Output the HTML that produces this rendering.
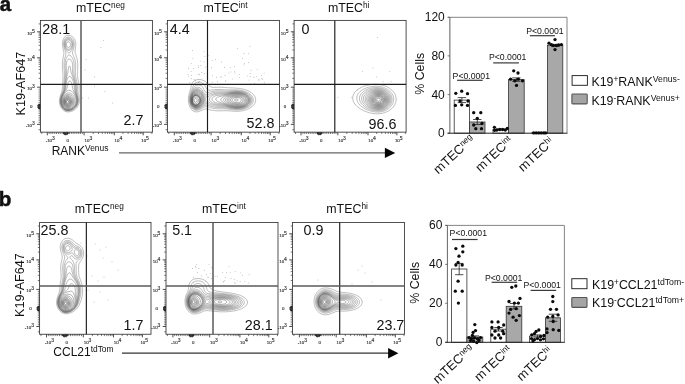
<!DOCTYPE html>
<html><head><meta charset="utf-8"><title>Figure</title>
<style>
html,body{margin:0;padding:0;background:#fff;}
body{width:685px;height:384px;overflow:hidden;font-family:"Liberation Sans",sans-serif;}
svg{display:block;will-change:transform;filter:grayscale(1);}
</style></head><body>
<svg width="685" height="384" viewBox="0 0 685 384">
<rect width="685" height="384" fill="#fff"/>
<text x="-0.3" y="11.2" font-family="Liberation Sans, sans-serif" font-size="20.40" text-anchor="start" font-weight="bold" fill="#111" stroke="#111" stroke-width="0.5">a</text>
<text x="-1.2" y="205.5" font-family="Liberation Sans, sans-serif" font-size="20.60" text-anchor="start" font-weight="bold" fill="#111" stroke="#111" stroke-width="0.5">b</text>
<text x="76.0" y="11.8" font-family="Liberation Sans, sans-serif" font-size="12.40" text-anchor="start" font-weight="normal" fill="#111" >mTEC<tspan dy="-3.9" font-size="8.3">neg</tspan></text>
<text x="203.6" y="11.8" font-family="Liberation Sans, sans-serif" font-size="12.40" text-anchor="start" font-weight="normal" fill="#111" >mTEC<tspan dy="-3.9" font-size="8.3">int</tspan></text>
<text x="327.9" y="11.8" font-family="Liberation Sans, sans-serif" font-size="12.40" text-anchor="start" font-weight="normal" fill="#111" >mTEC<tspan dy="-3.9" font-size="8.3">hi</tspan></text>
<text x="74.8" y="213.0" font-family="Liberation Sans, sans-serif" font-size="12.40" text-anchor="start" font-weight="normal" fill="#111" >mTEC<tspan dy="-3.9" font-size="8.3">neg</tspan></text>
<text x="202.0" y="213.0" font-family="Liberation Sans, sans-serif" font-size="12.40" text-anchor="start" font-weight="normal" fill="#111" >mTEC<tspan dy="-3.9" font-size="8.3">int</tspan></text>
<text x="326.3" y="213.0" font-family="Liberation Sans, sans-serif" font-size="12.40" text-anchor="start" font-weight="normal" fill="#111" >mTEC<tspan dy="-3.9" font-size="8.3">hi</tspan></text>
<text transform="translate(25.2,115.5) rotate(-90)" font-family="Liberation Sans, sans-serif" font-size="12.6" fill="#111">K19-AF647</text>
<text transform="translate(23.8,316.9) rotate(-90)" font-family="Liberation Sans, sans-serif" font-size="12.6" fill="#111">K19-AF647</text>
<text x="51.7" y="154.5" font-family="Liberation Sans, sans-serif" font-size="12.00" text-anchor="start" font-weight="normal" fill="#111" >RANK<tspan dy="-4.0" font-size="8.4">Venus</tspan></text>
<text x="53.3" y="356.0" font-family="Liberation Sans, sans-serif" font-size="12.00" text-anchor="start" font-weight="normal" fill="#111" >CCL21<tspan dy="-4.0" font-size="8.4">tdTom</tspan></text>
<line x1="119.0" y1="152.9" x2="387.2" y2="152.9" stroke="#666" stroke-width="1.3"/><path d="M395.2,152.9 L384.9,147.7 L384.9,158.1 Z" fill="#050505"/>
<line x1="122.0" y1="353.2" x2="390.4" y2="353.2" stroke="#333" stroke-width="1.3"/><path d="M398.4,353.2 L388.1,348.0 L388.1,358.4 Z" fill="#050505"/>
<path d="M66.8,100.8 67.5,100.5 68.0,100.8 68.4,101.2 68.5,102.0 68.2,102.6 67.8,102.9 67.4,103.0 66.8,102.8 66.6,102.2 66.5,101.8 66.6,101.2 66.8,100.8Z" fill="none" stroke="rgb(85,85,85)" stroke-width="0.55"/>
<path d="M66.9,99.8 67.5,99.7 68.0,99.8 68.5,100.1 68.9,100.5 69.1,101.0 69.2,101.6 69.2,102.0 69.1,102.8 68.8,103.2 68.5,103.5 68.0,103.8 67.2,103.9 66.8,103.7 66.3,103.2 66.1,102.8 65.9,102.2 65.9,101.5 66.0,101.0 66.2,100.4 66.5,100.0Z" fill="none" stroke="rgb(87,87,87)" stroke-width="0.54"/>
<path d="M67.2,99.0 67.6,99.0 68.2,99.2 68.8,99.4 69.1,99.8 69.4,100.2 69.7,100.8 69.8,101.2 69.8,102.0 69.8,102.5 69.5,103.2 69.2,103.6 68.9,104.0 68.5,104.2 67.8,104.5 67.2,104.5 66.8,104.4 66.2,104.1 66.0,103.7 65.7,103.2 65.5,102.5 65.5,102.0 65.5,101.3 65.6,100.8 65.8,100.2 66.1,99.8 66.5,99.3 67.0,99.0Z" fill="none" stroke="rgb(88,88,88)" stroke-width="0.54"/>
<path d="M66.7,98.5 67.2,98.4 68.0,98.4 68.5,98.6 69.0,98.9 69.4,99.3 69.8,99.6 70.0,100.1 70.2,100.7 70.4,101.2 70.4,102.0 70.3,102.8 70.1,103.2 69.8,103.8 69.5,104.2 69.1,104.5 68.8,104.8 68.2,105.0 67.5,105.1 66.8,105.0 66.3,104.8 66.0,104.5 65.6,104.0 65.4,103.5 65.2,103.0 65.1,102.2 65.1,101.5 65.2,100.8 65.3,100.2 65.5,99.8 65.8,99.2 66.2,98.8 66.7,98.5Z" fill="none" stroke="rgb(89,89,89)" stroke-width="0.53"/>
<path d="M67.2,97.8 67.8,97.7 68.2,97.8 68.8,98.0 69.2,98.3 69.8,98.7 70.0,99.0 70.4,99.5 70.6,100.0 70.8,100.5 70.9,101.2 70.9,102.0 70.8,102.8 70.6,103.2 70.4,103.8 70.1,104.2 69.8,104.7 69.4,105.0 69.0,105.3 68.5,105.5 67.8,105.7 67.0,105.7 66.5,105.5 66.0,105.2 65.6,104.8 65.3,104.2 65.1,103.8 64.9,103.2 64.8,102.5 64.7,102.0 64.7,101.2 64.8,100.8 65.0,100.0 65.2,99.5 65.4,99.0 65.8,98.6 66.1,98.2 66.5,98.0 67.2,97.8Z" fill="none" stroke="rgb(91,91,91)" stroke-width="0.53"/>
<path d="M66.6,97.2 67.2,97.1 68.0,97.1 68.7,97.2 69.2,97.5 69.6,97.8 70.0,98.0 70.4,98.5 70.8,98.9 71.0,99.4 71.2,100.0 71.4,100.5 71.5,101.3 71.5,101.7 71.5,102.2 71.3,103.0 71.1,103.5 70.9,104.0 70.6,104.5 70.2,104.9 69.9,105.2 69.5,105.6 69.0,105.9 68.5,106.1 67.8,106.2 67.5,106.2 66.8,106.2 66.2,106.0 65.8,105.6 65.4,105.2 65.1,104.8 64.8,104.2 64.6,103.8 64.5,103.2 64.4,102.5 64.3,101.8 64.4,101.0 64.5,100.2 64.6,99.8 64.8,99.2 65.0,98.7 65.4,98.2 65.8,97.8 66.1,97.5 66.6,97.2Z" fill="none" stroke="rgb(92,92,92)" stroke-width="0.52"/>
<path d="M66.7,96.5 67.2,96.4 68.0,96.4 68.7,96.5 69.2,96.7 69.8,97.0 70.2,97.2 70.5,97.5 70.9,98.0 71.2,98.4 71.5,98.9 71.8,99.5 71.9,100.0 72.0,100.5 72.1,101.2 72.1,102.0 72.0,102.6 71.8,103.2 71.7,103.8 71.4,104.2 71.1,104.8 70.8,105.2 70.5,105.5 70.0,105.9 69.5,106.2 69.0,106.5 68.5,106.6 68.0,106.8 67.2,106.8 66.8,106.7 66.2,106.5 65.8,106.2 65.3,105.8 65.0,105.4 64.7,105.0 64.5,104.5 64.2,103.9 64.1,103.3 64.0,102.7 63.9,102.0 63.9,101.2 64.0,100.6 64.1,100.0 64.2,99.5 64.5,98.8 64.8,98.3 65.0,97.9 65.3,97.5 65.8,97.0 66.2,96.8 66.7,96.5Z" fill="none" stroke="rgb(93,93,93)" stroke-width="0.51"/>
<path d="M67.5,95.5 68.1,95.5 68.8,95.6 69.3,95.8 69.9,96.0 70.3,96.2 70.8,96.6 71.2,97.0 71.5,97.3 71.8,97.8 72.1,98.2 72.4,98.8 72.5,99.2 72.7,100.0 72.8,100.5 72.8,101.2 72.8,102.0 72.7,102.5 72.5,103.2 72.4,103.8 72.1,104.2 71.8,104.8 71.5,105.2 71.2,105.5 70.8,106.0 70.5,106.3 70.0,106.6 69.5,106.9 69.0,107.1 68.5,107.2 67.8,107.4 67.0,107.3 66.5,107.2 66.0,107.0 65.5,106.7 65.1,106.2 64.8,105.9 64.5,105.5 64.2,105.0 64.0,104.4 63.8,103.8 63.7,103.2 63.5,102.5 63.5,101.8 63.5,101.4 63.5,100.7 63.6,100.0 63.8,99.5 64.0,98.8 64.2,98.2 64.4,97.8 64.8,97.3 65.0,96.9 65.4,96.5 65.8,96.2 66.2,95.8 66.8,95.6 67.5,95.5Z" fill="none" stroke="rgb(95,95,95)" stroke-width="0.51"/>
<path d="M67.1,94.5 67.8,94.4 68.5,94.4 69.1,94.5 69.8,94.7 70.2,94.9 70.8,95.1 71.2,95.5 71.6,95.8 72.0,96.2 72.3,96.5 72.6,97.0 72.9,97.5 73.1,98.0 73.3,98.5 73.5,99.1 73.6,99.8 73.7,100.5 73.7,101.2 73.6,102.0 73.5,102.7 73.3,103.2 73.2,103.8 72.9,104.2 72.7,104.8 72.3,105.2 72.0,105.7 71.7,106.0 71.2,106.5 70.9,106.8 70.5,107.0 70.0,107.3 69.5,107.5 68.9,107.8 68.2,107.9 67.5,107.9 66.8,107.9 66.2,107.7 65.8,107.5 65.2,107.1 64.9,106.8 64.5,106.3 64.2,106.0 64.0,105.5 63.7,105.0 63.5,104.4 63.3,103.8 63.2,103.2 63.1,102.5 63.0,101.8 63.0,101.0 63.1,100.2 63.2,99.5 63.4,99.0 63.5,98.5 63.8,97.9 64.0,97.3 64.2,96.9 64.5,96.5 64.9,96.0 65.2,95.6 65.7,95.2 66.0,95.0 66.5,94.7 67.1,94.5Z" fill="none" stroke="rgb(96,96,96)" stroke-width="0.50"/>
<path d="M67.6,93.0 68.2,92.9 69.0,92.9 69.5,93.0 70.2,93.2 70.8,93.4 71.2,93.7 71.7,94.0 72.1,94.2 72.5,94.7 72.8,95.0 73.2,95.5 73.5,96.0 73.8,96.4 74.0,96.9 74.2,97.5 74.4,98.0 74.5,98.5 74.7,99.3 74.8,99.8 74.8,100.5 74.8,101.2 74.7,101.8 74.5,102.5 74.4,103.0 74.2,103.5 74.0,104.0 73.8,104.5 73.5,105.0 73.1,105.5 72.8,106.0 72.5,106.2 72.0,106.7 71.7,107.0 71.2,107.3 70.8,107.7 70.2,107.9 69.8,108.1 69.2,108.3 68.5,108.5 68.0,108.5 67.2,108.6 66.8,108.5 66.0,108.3 65.5,108.0 65.2,107.8 64.8,107.4 64.4,107.0 64.0,106.5 63.8,106.1 63.5,105.7 63.2,105.1 63.0,104.5 62.9,104.0 62.7,103.5 62.6,102.8 62.5,102.0 62.5,101.2 62.5,100.5 62.6,99.8 62.8,99.0 62.9,98.5 63.0,98.0 63.2,97.4 63.5,96.8 63.8,96.4 64.0,95.9 64.3,95.5 64.7,95.0 65.0,94.6 65.4,94.2 65.8,93.9 66.2,93.5 66.8,93.3 67.2,93.1Z" fill="none" stroke="rgb(97,97,97)" stroke-width="0.50"/>
<path d="M68.4,90.5 69.0,90.4 69.8,90.5 70.2,90.6 70.8,90.8 71.2,91.0 71.8,91.3 72.2,91.8 72.5,92.0 73.0,92.5 73.2,92.9 73.5,93.2 73.9,93.8 74.2,94.2 74.5,94.8 74.7,95.2 75.0,95.8 75.2,96.2 75.3,96.8 75.5,97.3 75.7,98.0 75.8,98.5 75.9,99.2 76.0,100.0 75.9,100.8 75.9,101.5 75.8,102.2 75.6,102.8 75.5,103.2 75.2,103.8 75.0,104.4 74.8,104.8 74.5,105.2 74.1,105.8 73.8,106.2 73.5,106.5 73.0,107.0 72.7,107.2 72.2,107.6 71.8,108.0 71.3,108.2 70.8,108.5 70.2,108.7 69.8,108.9 69.2,109.0 68.5,109.2 67.8,109.2 67.0,109.2 66.2,109.0 65.8,108.9 65.2,108.6 64.8,108.2 64.5,108.0 64.0,107.5 63.8,107.2 63.5,106.8 63.1,106.2 62.9,105.8 62.7,105.2 62.5,104.8 62.2,104.0 62.1,103.5 62.0,102.9 61.9,102.2 61.9,101.5 61.9,100.8 61.9,100.0 62.0,99.3 62.1,98.8 62.2,98.1 62.4,97.5 62.6,97.0 62.8,96.5 63.0,96.0 63.3,95.5 63.5,95.0 63.9,94.5 64.2,94.0 64.5,93.6 64.8,93.2 65.1,92.8 65.5,92.3 65.8,92.0 66.2,91.6 66.7,91.2 67.0,91.0 67.5,90.7 68.2,90.5Z" fill="none" stroke="rgb(99,99,99)" stroke-width="0.49"/>
<path d="M69.6,81.0 70.1,81.0 70.5,81.2 71.0,81.8 71.2,82.1 71.5,82.6 71.7,83.2 71.9,83.8 72.0,84.2 72.2,85.0 72.2,85.7 72.3,86.2 72.4,87.0 72.5,87.8 72.6,88.2 72.8,88.9 72.9,89.5 73.1,90.0 73.4,90.5 73.6,91.0 73.8,91.5 74.1,92.0 74.3,92.5 74.6,93.0 74.8,93.5 75.0,94.0 75.2,94.5 75.5,95.1 75.7,95.8 75.9,96.2 76.0,96.8 76.2,97.5 76.4,98.0 76.5,98.8 76.5,99.2 76.6,100.0 76.6,100.8 76.5,101.5 76.4,102.0 76.3,102.8 76.1,103.2 75.9,103.8 75.7,104.2 75.5,104.8 75.2,105.2 74.8,105.8 74.5,106.2 74.2,106.5 73.8,107.0 73.5,107.3 73.0,107.7 72.5,108.0 72.2,108.2 71.8,108.5 71.2,108.8 70.7,109.0 70.1,109.2 69.5,109.4 69.0,109.5 68.2,109.6 67.5,109.6 66.8,109.6 66.2,109.5 65.7,109.2 65.2,109.0 64.8,108.7 64.3,108.3 64.0,108.0 63.6,107.5 63.2,107.1 63.0,106.7 62.7,106.2 62.5,105.8 62.2,105.2 62.0,104.5 61.8,104.0 61.7,103.5 61.6,102.8 61.5,102.0 61.5,101.5 61.5,100.8 61.5,100.0 61.6,99.5 61.7,98.8 61.8,98.2 62.0,97.5 62.1,97.0 62.3,96.5 62.5,96.0 62.8,95.5 63.0,95.0 63.3,94.5 63.5,94.0 63.8,93.5 64.2,93.0 64.5,92.5 64.8,92.1 65.0,91.7 65.3,91.2 65.6,90.8 66.0,90.2 66.2,89.8 66.5,89.3 66.8,88.8 66.9,88.2 67.1,87.8 67.3,87.2 67.4,86.5 67.5,85.9 67.6,85.2 67.7,84.5 67.8,84.0 68.0,83.2 68.2,82.8 68.4,82.2 68.7,81.8 69.0,81.3 69.5,81.0Z" fill="none" stroke="rgb(100,100,100)" stroke-width="0.49"/>
<path d="M67.5,42.0 68.2,41.8 69.0,41.9 69.5,42.2 69.9,42.5 70.2,43.0 70.4,43.5 70.5,44.0 70.6,44.8 70.5,45.4 70.3,46.0 70.1,46.5 69.8,46.9 69.3,47.2 68.8,47.5 68.4,47.5 67.8,47.3 67.3,47.0 67.0,46.7 66.8,46.2 66.6,45.5 66.5,45.0 66.4,44.2 66.5,43.7 66.7,43.0 66.9,42.5 67.2,42.2ZM69.0,76.5 69.5,76.3 70.2,76.4 70.7,76.8 71.0,77.1 71.3,77.5 71.6,78.0 71.9,78.5 72.2,79.0 72.4,79.5 72.6,80.0 72.8,80.5 73.0,81.0 73.2,81.6 73.4,82.2 73.6,82.8 73.8,83.5 73.9,84.0 74.0,84.8 74.1,85.2 74.1,86.0 74.2,86.8 74.2,87.5 74.3,88.0 74.3,88.8 74.4,89.5 74.5,90.2 74.6,90.8 74.8,91.4 74.9,92.0 75.1,92.5 75.3,93.0 75.5,93.6 75.7,94.2 75.9,94.8 76.1,95.2 76.2,95.8 76.4,96.5 76.6,97.0 76.7,97.8 76.8,98.2 76.9,99.0 77.0,99.8 77.0,100.5 76.9,101.2 76.8,102.0 76.7,102.5 76.5,103.2 76.4,103.8 76.2,104.2 75.9,104.8 75.6,105.2 75.3,105.8 75.0,106.2 74.7,106.5 74.3,107.0 74.0,107.3 73.5,107.7 73.2,108.0 72.8,108.3 72.2,108.6 71.8,108.9 71.2,109.1 70.8,109.3 70.2,109.5 69.5,109.7 69.0,109.8 68.2,109.9 67.5,109.9 66.8,109.9 66.2,109.7 65.6,109.5 65.1,109.2 64.8,109.0 64.2,108.6 63.9,108.2 63.5,107.8 63.2,107.5 62.9,107.0 62.6,106.5 62.3,106.0 62.1,105.5 61.9,105.0 61.7,104.5 61.5,103.8 61.4,103.2 61.3,102.5 61.2,102.0 61.2,101.2 61.2,100.5 61.2,99.8 61.3,99.2 61.4,98.5 61.5,98.0 61.7,97.2 61.9,96.8 62.1,96.2 62.3,95.8 62.5,95.2 62.8,94.7 63.0,94.2 63.3,93.8 63.5,93.2 63.8,92.8 64.1,92.2 64.4,91.8 64.7,91.2 64.9,90.8 65.2,90.2 65.4,89.8 65.5,89.2 65.7,88.5 65.8,88.0 65.9,87.2 66.0,86.5 66.0,86.0 66.1,85.2 66.2,84.5 66.2,83.8 66.3,83.3 66.4,82.5 66.5,82.0 66.7,81.2 66.8,80.7 67.0,80.0 67.1,79.5 67.3,79.0 67.6,78.5 67.8,78.0 68.1,77.5 68.5,77.0 68.8,76.7Z" fill="none" stroke="rgb(101,101,101)" stroke-width="0.48"/>
<path d="M67.8,40.0 68.5,40.0 69.0,40.0 69.6,40.2 70.1,40.5 70.5,40.8 70.9,41.2 71.2,41.8 71.5,42.2 71.6,42.8 71.8,43.2 71.9,44.0 71.9,44.8 71.8,45.5 71.7,46.0 71.5,46.6 71.2,47.2 71.0,47.6 70.8,48.0 70.3,48.5 70.0,48.8 69.5,49.1 69.0,49.3 68.2,49.3 67.8,49.2 67.2,48.9 66.8,48.5 66.5,48.1 66.2,47.7 66.0,47.1 65.8,46.5 65.6,46.0 65.5,45.3 65.4,44.8 65.4,44.0 65.5,43.2 65.6,42.8 65.8,42.1 66.0,41.5 66.2,41.0 66.5,40.7 67.0,40.3 67.5,40.1ZM68.9,66.2 69.5,66.0 70.0,66.5 70.2,67.0 70.3,67.5 70.4,68.2 70.5,69.0 70.6,69.5 70.7,70.2 70.8,70.8 70.9,71.5 71.0,72.0 71.2,72.7 71.4,73.2 71.6,73.8 71.8,74.3 72.0,75.0 72.2,75.5 72.4,76.0 72.6,76.5 72.8,77.0 73.0,77.7 73.2,78.2 73.4,78.8 73.5,79.2 73.8,79.9 74.0,80.5 74.1,81.0 74.3,81.5 74.5,82.2 74.6,82.8 74.7,83.5 74.8,84.0 74.9,84.8 75.0,85.2 75.1,86.0 75.1,86.8 75.2,87.5 75.2,88.2 75.2,89.0 75.2,89.8 75.3,90.2 75.4,91.0 75.5,91.7 75.6,92.2 75.8,92.8 76.0,93.5 76.1,94.0 76.3,94.5 76.5,95.2 76.6,95.8 76.8,96.2 76.9,97.0 77.0,97.5 77.2,98.2 77.2,98.9 77.3,99.5 77.3,100.2 77.3,101.0 77.2,101.5 77.1,102.2 77.0,102.8 76.8,103.5 76.6,104.0 76.4,104.5 76.1,105.0 75.9,105.5 75.5,106.0 75.2,106.4 74.9,106.8 74.5,107.2 74.2,107.5 73.8,107.9 73.3,108.2 73.0,108.5 72.5,108.8 72.0,109.1 71.5,109.3 71.0,109.5 70.4,109.8 69.8,109.9 69.2,110.0 68.5,110.1 67.8,110.2 67.0,110.1 66.3,110.0 65.8,109.8 65.2,109.6 64.8,109.3 64.4,109.0 64.0,108.7 63.6,108.2 63.2,107.9 63.0,107.5 62.6,107.0 62.3,106.5 62.1,106.0 61.8,105.5 61.7,105.0 61.5,104.5 61.3,103.8 61.2,103.2 61.0,102.5 61.0,102.0 61.0,101.2 61.0,100.5 61.0,99.8 61.1,99.2 61.2,98.5 61.3,98.0 61.5,97.2 61.6,96.8 61.8,96.2 62.0,95.8 62.2,95.2 62.5,94.6 62.8,94.1 63.0,93.6 63.2,93.2 63.5,92.7 63.8,92.2 64.0,91.7 64.2,91.2 64.5,90.6 64.7,90.0 64.9,89.5 65.0,89.0 65.1,88.2 65.2,87.5 65.3,87.0 65.3,86.2 65.4,85.5 65.4,84.8 65.5,84.0 65.5,83.5 65.6,82.8 65.8,82.0 65.8,81.5 66.0,80.8 66.1,80.2 66.2,79.5 66.3,79.0 66.5,78.2 66.6,77.8 66.7,77.0 66.8,76.5 67.0,75.8 67.1,75.2 67.3,74.8 67.5,74.0 67.6,73.5 67.8,72.9 67.9,72.2 68.0,71.6 68.1,71.0 68.2,70.2 68.2,69.5 68.3,69.0 68.4,68.2 68.5,67.5 68.6,67.0 68.8,66.5Z" fill="none" stroke="rgb(103,103,103)" stroke-width="0.48"/>
<path d="M67.3,39.2 68.0,39.1 68.8,39.1 69.3,39.2 70.0,39.5 70.4,39.8 70.8,40.0 71.2,40.5 71.5,40.8 71.8,41.2 72.0,41.8 72.2,42.3 72.4,43.0 72.5,43.5 72.6,44.2 72.5,45.0 72.5,45.5 72.3,46.2 72.2,46.8 72.0,47.2 71.8,47.8 71.5,48.3 71.2,48.8 70.8,49.2 70.5,49.6 70.1,50.0 69.7,50.2 69.0,50.5 68.5,50.5 68.0,50.4 67.5,50.2 67.0,49.9 66.7,49.5 66.3,49.0 66.0,48.5 65.8,48.0 65.6,47.5 65.4,47.0 65.2,46.5 65.1,45.8 65.0,45.2 64.9,44.5 64.9,43.8 65.0,43.0 65.1,42.5 65.2,41.8 65.4,41.2 65.7,40.8 66.0,40.3 66.2,40.0 66.8,39.5 67.2,39.3ZM69.2,59.0 69.5,59.0 70.2,59.2 70.5,59.5 71.0,59.9 71.2,60.3 71.5,60.8 71.8,61.2 72.0,61.8 72.2,62.5 72.3,63.0 72.5,63.8 72.6,64.2 72.6,65.0 72.6,65.8 72.6,66.5 72.6,67.2 72.6,68.0 72.6,68.8 72.5,69.5 72.5,70.2 72.5,71.0 72.6,71.8 72.6,72.5 72.7,73.2 72.8,73.8 72.9,74.5 73.0,75.0 73.2,75.8 73.4,76.2 73.5,76.8 73.7,77.5 73.9,78.0 74.0,78.5 74.2,79.2 74.4,79.8 74.5,80.2 74.8,81.0 74.9,81.5 75.0,82.0 75.2,82.8 75.3,83.2 75.4,84.0 75.5,84.5 75.6,85.2 75.7,86.0 75.7,86.8 75.8,87.2 75.8,88.0 75.8,88.8 75.8,89.5 75.8,90.2 75.9,91.0 76.0,91.8 76.0,92.2 76.2,93.0 76.3,93.5 76.5,94.2 76.6,94.8 76.8,95.2 77.0,96.0 77.1,96.5 77.2,97.2 77.3,97.8 77.4,98.5 77.5,99.0 77.5,99.8 77.5,100.5 77.5,101.2 77.4,101.8 77.3,102.5 77.2,103.0 77.0,103.6 76.8,104.2 76.5,104.8 76.3,105.2 76.0,105.7 75.8,106.1 75.4,106.5 75.0,107.0 74.8,107.3 74.3,107.8 74.0,108.0 73.5,108.4 73.0,108.7 72.6,109.0 72.1,109.2 71.6,109.5 71.0,109.7 70.5,109.9 70.0,110.1 69.2,110.2 68.8,110.3 68.0,110.3 67.2,110.3 66.6,110.2 66.0,110.1 65.5,109.9 65.0,109.6 64.5,109.3 64.1,109.0 63.8,108.7 63.4,108.2 63.0,107.8 62.8,107.5 62.4,107.0 62.1,106.5 61.9,106.0 61.7,105.5 61.5,105.0 61.2,104.3 61.1,103.8 61.0,103.2 60.9,102.5 60.8,101.8 60.8,101.0 60.8,100.2 60.9,99.5 61.0,98.8 61.1,98.2 61.2,97.5 61.4,97.0 61.5,96.5 61.8,95.9 62.0,95.3 62.2,94.8 62.5,94.2 62.7,93.8 63.0,93.2 63.2,92.8 63.5,92.2 63.7,91.8 63.9,91.2 64.1,90.8 64.3,90.2 64.5,89.5 64.6,89.0 64.7,88.2 64.8,87.8 64.8,87.0 64.9,86.2 64.9,85.5 65.0,84.8 65.0,84.2 65.1,83.5 65.2,82.8 65.3,82.3 65.4,81.5 65.5,80.8 65.6,80.2 65.7,79.5 65.8,79.0 65.9,78.2 66.0,77.6 66.1,77.0 66.2,76.2 66.3,75.8 66.4,75.0 66.4,74.2 66.5,73.5 66.5,73.0 66.5,72.2 66.5,71.5 66.5,70.9 66.5,70.2 66.4,69.5 66.4,68.8 66.3,68.0 66.3,67.2 66.3,66.5 66.2,66.0 66.2,65.2 66.3,64.8 66.3,64.0 66.4,63.2 66.5,62.7 66.6,62.0 66.8,61.5 67.0,60.8 67.2,60.4 67.6,60.0 68.0,59.5 68.4,59.2 69.0,59.0Z" fill="none" stroke="rgb(104,104,104)" stroke-width="0.47"/>
<path d="M67.4,38.2 68.0,38.1 68.8,38.2 69.3,38.2 70.0,38.5 70.5,38.7 70.9,39.0 71.2,39.3 71.8,39.7 72.0,40.1 72.3,40.5 72.6,41.0 72.8,41.5 73.0,42.0 73.2,42.8 73.3,43.2 73.3,44.0 73.3,44.8 73.3,45.5 73.2,46.0 73.0,46.8 72.9,47.2 72.7,47.8 72.5,48.3 72.2,48.9 72.0,49.4 71.8,49.9 71.5,50.3 71.2,50.8 70.9,51.2 70.5,51.8 70.2,52.1 69.8,52.5 69.5,52.8 69.0,53.0 68.5,52.9 68.0,52.6 67.6,52.2 67.2,52.0 66.9,51.5 66.5,51.0 66.2,50.6 66.0,50.1 65.8,49.7 65.5,49.1 65.2,48.6 65.0,48.0 64.9,47.5 64.7,47.0 64.5,46.2 64.4,45.8 64.4,45.0 64.3,44.2 64.3,43.5 64.4,42.8 64.5,42.1 64.6,41.5 64.8,41.0 65.0,40.5 65.3,40.0 65.6,39.5 66.0,39.0 66.3,38.8 66.8,38.5 67.4,38.2ZM68.8,55.0 69.4,55.0 69.9,55.2 70.2,55.5 70.8,56.0 71.0,56.2 71.4,56.8 71.8,57.1 72.0,57.5 72.3,58.0 72.6,58.5 72.9,59.0 73.1,59.5 73.3,60.0 73.5,60.6 73.7,61.3 73.8,61.8 73.9,62.5 74.0,63.0 74.1,63.8 74.1,64.5 74.2,65.2 74.2,66.0 74.2,66.8 74.1,67.5 74.1,68.2 74.0,69.0 74.0,69.6 74.0,70.2 73.9,71.0 73.9,71.8 73.9,72.5 74.0,73.2 74.0,73.8 74.1,74.5 74.2,75.2 74.3,75.8 74.5,76.5 74.6,77.0 74.8,77.7 74.9,78.2 75.0,78.8 75.2,79.5 75.3,80.0 75.5,80.6 75.6,81.2 75.8,81.8 75.9,82.5 76.0,83.0 76.2,83.8 76.3,84.2 76.4,85.0 76.4,85.8 76.5,86.5 76.5,87.0 76.5,87.8 76.5,88.5 76.5,89.2 76.5,90.0 76.5,90.8 76.6,91.5 76.6,92.2 76.7,93.0 76.8,93.5 77.0,94.2 77.1,94.8 77.2,95.4 77.4,96.0 77.5,96.6 77.6,97.2 77.7,98.0 77.8,98.5 77.9,99.2 77.9,100.0 77.9,100.8 77.8,101.5 77.8,102.0 77.6,102.8 77.5,103.2 77.2,103.9 77.0,104.5 76.8,105.0 76.5,105.5 76.2,106.0 76.0,106.3 75.7,106.8 75.3,107.2 75.0,107.5 74.5,108.0 74.2,108.3 73.8,108.6 73.2,109.0 72.8,109.2 72.3,109.5 71.8,109.8 71.2,110.0 70.8,110.1 70.2,110.3 69.5,110.5 69.0,110.5 68.2,110.6 67.5,110.6 66.8,110.6 66.2,110.4 65.7,110.2 65.1,110.0 64.7,109.8 64.2,109.4 63.8,109.0 63.5,108.8 63.0,108.2 62.8,107.9 62.5,107.5 62.1,107.0 61.9,106.5 61.6,106.0 61.4,105.5 61.2,105.0 61.0,104.4 60.8,103.8 60.7,103.2 60.6,102.5 60.5,101.8 60.5,101.0 60.5,100.2 60.6,99.5 60.7,98.8 60.8,98.2 61.0,97.5 61.1,97.0 61.3,96.5 61.5,95.8 61.7,95.2 61.9,94.8 62.1,94.2 62.4,93.8 62.6,93.2 62.8,92.8 63.1,92.3 63.3,91.8 63.5,91.2 63.7,90.5 63.9,90.0 64.0,89.5 64.1,88.8 64.2,88.0 64.2,87.3 64.3,86.8 64.3,86.0 64.4,85.2 64.4,84.5 64.5,83.8 64.5,83.2 64.6,82.5 64.7,81.8 64.8,81.3 64.9,80.5 65.0,79.8 65.1,79.2 65.2,78.5 65.2,77.8 65.3,77.2 65.4,76.5 65.5,75.8 65.5,75.0 65.5,74.5 65.5,73.8 65.5,73.0 65.5,72.2 65.5,71.8 65.4,71.0 65.4,70.2 65.3,69.5 65.2,68.9 65.2,68.2 65.1,67.5 65.1,66.8 65.1,66.0 65.1,65.2 65.1,64.5 65.1,63.8 65.2,63.0 65.3,62.5 65.4,61.8 65.5,61.0 65.6,60.5 65.8,59.9 65.9,59.2 66.1,58.8 66.3,58.2 66.5,57.8 66.8,57.2 67.0,56.8 67.4,56.2 67.8,55.9 68.1,55.5 68.5,55.2Z" fill="none" stroke="rgb(106,106,106)" stroke-width="0.47"/>
<path d="M66.8,37.2 67.5,37.1 68.2,37.0 69.0,37.1 69.8,37.2 70.2,37.4 70.8,37.6 71.2,37.9 71.7,38.2 72.0,38.5 72.5,39.0 72.8,39.3 73.0,39.8 73.3,40.2 73.6,40.8 73.8,41.2 74.0,42.0 74.1,42.5 74.2,43.3 74.3,43.8 74.3,44.5 74.3,45.2 74.2,45.8 74.1,46.5 74.0,47.0 73.8,47.8 73.7,48.2 73.5,48.8 73.3,49.5 73.1,50.0 73.0,50.5 72.8,51.2 72.6,51.8 72.5,52.5 72.5,53.2 72.7,54.0 72.9,54.5 73.1,55.0 73.3,55.5 73.5,56.0 73.8,56.5 74.0,57.0 74.2,57.6 74.5,58.2 74.7,58.8 74.8,59.2 75.0,59.9 75.2,60.5 75.3,61.0 75.4,61.8 75.5,62.5 75.6,63.0 75.6,63.8 75.7,64.5 75.7,65.2 75.7,66.0 75.6,66.8 75.6,67.5 75.6,68.2 75.5,69.0 75.5,69.5 75.4,70.2 75.4,71.0 75.3,71.8 75.3,72.5 75.3,73.2 75.4,74.0 75.4,74.8 75.5,75.5 75.6,76.0 75.7,76.8 75.8,77.2 75.9,78.0 76.1,78.5 76.2,79.2 76.3,79.8 76.5,80.4 76.6,81.0 76.8,81.6 76.9,82.2 77.0,82.8 77.1,83.5 77.2,84.2 77.3,84.8 77.4,85.5 77.4,86.2 77.5,87.0 77.5,87.8 77.5,88.5 77.5,89.3 77.4,90.0 77.4,90.8 77.4,91.5 77.5,92.2 77.5,92.9 77.6,93.5 77.7,94.2 77.8,94.8 77.9,95.5 78.0,96.2 78.1,96.8 78.2,97.5 78.3,98.0 78.4,98.8 78.4,99.5 78.4,100.2 78.4,101.0 78.3,101.8 78.2,102.2 78.1,103.0 77.9,103.5 77.8,104.0 77.5,104.7 77.2,105.2 77.0,105.7 76.8,106.1 76.5,106.5 76.1,107.0 75.8,107.4 75.5,107.8 75.0,108.2 74.7,108.5 74.2,108.8 73.8,109.2 73.3,109.5 72.8,109.8 72.4,110.0 71.8,110.2 71.2,110.5 70.8,110.6 70.2,110.8 69.5,110.9 68.8,111.0 68.2,111.0 67.5,111.0 67.0,111.0 66.2,110.9 65.8,110.7 65.2,110.5 64.8,110.2 64.2,109.9 63.8,109.5 63.4,109.2 63.0,108.8 62.7,108.5 62.3,108.0 62.0,107.5 61.8,107.1 61.5,106.6 61.2,106.1 61.0,105.5 60.8,105.0 60.6,104.5 60.5,103.9 60.4,103.2 60.2,102.5 60.2,102.0 60.2,101.2 60.2,100.5 60.2,99.8 60.3,99.2 60.4,98.5 60.5,97.8 60.6,97.2 60.8,96.8 61.0,96.0 61.2,95.5 61.4,95.0 61.6,94.5 61.8,94.0 62.0,93.5 62.2,92.9 62.5,92.3 62.7,91.8 62.9,91.2 63.1,90.7 63.2,90.0 63.3,89.5 63.4,88.8 63.5,88.0 63.5,87.5 63.6,86.8 63.6,86.0 63.6,85.2 63.7,84.5 63.8,83.9 63.8,83.2 63.9,82.5 64.0,81.8 64.0,81.2 64.1,80.5 64.2,79.8 64.2,79.2 64.3,78.5 64.4,77.8 64.5,77.0 64.5,76.2 64.5,75.8 64.5,75.0 64.5,74.2 64.5,73.6 64.5,73.0 64.4,72.2 64.4,71.5 64.3,70.8 64.2,70.2 64.2,69.5 64.1,68.8 64.1,68.0 64.0,67.2 64.0,66.8 64.0,66.0 64.0,65.2 64.0,64.5 64.0,63.8 64.0,63.2 64.1,62.5 64.2,61.8 64.2,61.1 64.3,60.5 64.5,59.8 64.6,59.2 64.8,58.5 64.9,58.0 65.0,57.5 65.2,56.8 65.4,56.2 65.5,55.8 65.7,55.0 65.8,54.5 65.8,53.8 65.8,53.0 65.7,52.5 65.5,51.8 65.3,51.2 65.2,50.8 65.0,50.2 64.8,49.6 64.5,49.0 64.4,48.5 64.2,48.0 64.0,47.2 63.9,46.8 63.8,46.0 63.7,45.5 63.6,44.8 63.6,44.0 63.6,43.2 63.7,42.5 63.8,42.0 63.9,41.2 64.1,40.8 64.2,40.2 64.5,39.7 64.8,39.2 65.0,38.8 65.5,38.2 65.8,38.0 66.2,37.6 66.8,37.3Z" fill="none" stroke="rgb(107,107,107)" stroke-width="0.46"/>
<path d="M66.7,35.5 67.2,35.3 68.0,35.3 68.8,35.3 69.5,35.4 70.1,35.5 70.8,35.7 71.2,36.0 71.8,36.2 72.2,36.5 72.5,36.8 73.0,37.2 73.3,37.5 73.7,38.0 74.0,38.3 74.3,38.8 74.6,39.2 74.8,39.8 75.0,40.2 75.2,40.8 75.5,41.5 75.6,42.0 75.7,42.8 75.8,43.2 75.8,44.0 75.8,44.8 75.8,45.5 75.7,46.0 75.6,46.8 75.5,47.5 75.4,48.0 75.3,48.8 75.2,49.2 75.1,50.0 75.1,50.8 75.1,51.5 75.1,52.2 75.2,52.9 75.4,53.5 75.6,54.0 75.8,54.6 76.0,55.2 76.2,55.8 76.3,56.2 76.5,56.8 76.7,57.5 76.9,58.0 77.0,58.5 77.2,59.2 77.3,59.8 77.4,60.5 77.5,61.2 77.6,61.8 77.6,62.5 77.7,63.2 77.7,64.0 77.8,64.5 77.8,65.2 77.8,66.0 77.7,66.5 77.7,67.2 77.7,68.0 77.6,68.8 77.6,69.5 77.5,70.2 77.5,70.8 77.4,71.5 77.4,72.2 77.4,73.0 77.3,73.8 77.4,74.5 77.4,75.2 77.5,76.0 77.5,76.5 77.6,77.2 77.8,78.0 77.8,78.5 78.0,79.3 78.1,79.8 78.2,80.5 78.3,81.0 78.5,81.8 78.6,82.2 78.7,83.0 78.8,83.5 78.9,84.2 79.0,85.0 79.0,85.5 79.1,86.2 79.1,87.0 79.1,87.8 79.1,88.5 79.1,89.2 79.0,90.0 79.0,90.5 79.0,91.2 78.9,92.0 78.9,92.8 78.9,93.5 78.9,94.2 79.0,95.0 79.1,95.5 79.1,96.2 79.2,97.0 79.3,97.5 79.3,98.2 79.4,99.0 79.4,99.8 79.4,100.5 79.3,101.2 79.2,101.9 79.2,102.5 79.0,103.2 78.9,103.8 78.7,104.2 78.5,104.8 78.2,105.3 78.0,105.9 77.8,106.3 77.5,106.8 77.1,107.2 76.8,107.7 76.5,108.0 76.1,108.5 75.8,108.8 75.3,109.2 75.0,109.5 74.5,109.8 74.0,110.2 73.5,110.5 73.0,110.7 72.5,111.0 72.0,111.2 71.5,111.3 71.0,111.5 70.2,111.7 69.8,111.8 69.0,111.9 68.2,111.9 67.5,111.9 66.8,111.8 66.2,111.7 65.5,111.5 65.0,111.3 64.5,111.0 64.0,110.8 63.7,110.5 63.2,110.2 62.8,109.8 62.5,109.4 62.1,109.0 61.8,108.5 61.5,108.2 61.2,107.8 61.0,107.2 60.7,106.8 60.5,106.2 60.2,105.7 60.0,105.0 59.9,104.5 59.8,103.9 59.6,103.2 59.5,102.5 59.5,102.0 59.4,101.2 59.4,100.5 59.5,99.8 59.5,99.2 59.6,98.5 59.8,97.8 59.9,97.2 60.0,96.8 60.2,96.0 60.4,95.5 60.6,95.0 60.8,94.5 61.0,93.8 61.2,93.2 61.4,92.8 61.6,92.2 61.8,91.7 61.9,91.0 62.1,90.5 62.2,89.8 62.2,89.1 62.3,88.5 62.3,87.8 62.4,87.0 62.4,86.2 62.4,85.5 62.5,84.8 62.5,84.2 62.6,83.5 62.6,82.8 62.7,82.0 62.8,81.3 62.8,80.8 62.9,80.0 62.9,79.2 63.0,78.5 63.0,78.0 63.0,77.2 63.0,76.5 63.0,75.8 63.0,75.0 63.0,74.4 63.0,73.8 62.9,73.0 62.8,72.2 62.8,71.5 62.7,71.0 62.6,70.2 62.6,69.5 62.5,68.8 62.5,68.2 62.4,67.5 62.4,66.8 62.4,66.0 62.4,65.2 62.4,64.5 62.4,63.8 62.4,63.0 62.5,62.2 62.5,61.8 62.6,61.0 62.7,60.2 62.8,59.8 62.9,59.0 63.0,58.2 63.1,57.8 63.2,57.0 63.4,56.5 63.5,55.8 63.6,55.2 63.7,54.5 63.8,54.0 63.9,53.2 63.8,52.5 63.8,51.8 63.7,51.2 63.5,50.5 63.4,50.0 63.2,49.3 63.1,48.8 63.0,48.2 62.8,47.5 62.8,47.0 62.6,46.2 62.5,45.5 62.5,45.0 62.5,44.2 62.5,43.5 62.5,42.8 62.6,42.2 62.7,41.5 62.8,41.0 63.0,40.2 63.1,39.8 63.3,39.2 63.5,38.8 63.8,38.2 64.1,37.8 64.4,37.2 64.8,36.9 65.1,36.5 65.5,36.2 66.0,35.8 66.5,35.6Z" fill="none" stroke="rgb(108,108,108)" stroke-width="0.46"/>
<path d="M194.8,98.8 195.5,98.5 196.2,98.7 196.6,99.0 197.0,99.5 197.1,100.0 197.1,100.8 197.0,101.2 196.6,101.8 196.2,102.1 195.8,102.3 195.1,102.2 194.7,102.0 194.4,101.5 194.2,101.0 194.1,100.2 194.2,99.6 194.5,99.1 194.8,98.8Z" fill="none" stroke="rgb(85,85,85)" stroke-width="0.55"/>
<path d="M195.0,97.0 195.8,97.0 196.2,97.0 196.8,97.2 197.2,97.5 197.7,98.0 198.0,98.3 198.2,98.8 198.5,99.5 198.6,100.0 198.6,100.8 198.5,101.2 198.2,101.9 198.0,102.4 197.7,102.8 197.2,103.2 196.8,103.5 196.2,103.7 195.8,103.8 195.1,103.8 194.5,103.5 194.2,103.2 193.8,102.7 193.5,102.2 193.3,101.8 193.2,101.2 193.2,100.5 193.2,99.8 193.3,99.2 193.5,98.6 193.8,98.1 194.0,97.7 194.5,97.2 195.0,97.0Z" fill="none" stroke="rgb(87,87,87)" stroke-width="0.54"/>
<path d="M194.9,95.8 195.5,95.6 196.2,95.7 196.8,95.8 197.2,96.0 197.8,96.3 198.2,96.7 198.6,97.0 199.0,97.5 199.2,98.0 199.5,98.5 199.6,99.0 199.8,99.5 199.8,100.2 199.8,100.9 199.6,101.5 199.5,102.0 199.2,102.5 198.9,103.0 198.5,103.5 198.2,103.8 197.8,104.2 197.2,104.5 196.8,104.7 196.2,104.8 195.5,104.9 194.8,104.8 194.3,104.5 193.9,104.2 193.5,103.8 193.2,103.4 193.0,102.9 192.8,102.3 192.6,101.8 192.5,101.1 192.5,100.5 192.5,99.8 192.5,99.2 192.7,98.5 192.9,98.0 193.1,97.5 193.4,97.0 193.8,96.5 194.0,96.2 194.5,95.9ZM236.0,99.0 236.8,99.0 237.2,99.1 237.8,99.3 238.1,99.8 238.0,100.3 237.6,100.8 237.2,101.0 236.5,101.1 235.8,101.1 235.2,101.0 234.8,100.6 234.5,100.2 234.6,99.8 235.0,99.3 235.5,99.1 236.0,99.0Z" fill="none" stroke="rgb(88,88,88)" stroke-width="0.54"/>
<path d="M194.9,95.5 195.5,95.4 196.2,95.4 196.8,95.5 197.3,95.8 197.8,96.0 198.2,96.3 198.7,96.8 199.0,97.1 199.3,97.5 199.5,98.0 199.8,98.5 199.9,99.2 200.0,99.8 200.0,100.5 200.0,101.0 199.8,101.8 199.6,102.2 199.3,102.8 199.0,103.2 198.8,103.5 198.3,104.0 198.0,104.2 197.5,104.5 197.0,104.8 196.2,105.0 195.8,105.0 195.0,105.0 194.5,104.8 194.0,104.5 193.7,104.2 193.3,103.7 193.0,103.2 192.8,102.8 192.6,102.2 192.5,101.8 192.4,101.0 192.3,100.2 192.4,99.5 192.5,98.8 192.6,98.2 192.8,97.8 193.1,97.2 193.4,96.8 193.8,96.3 194.0,96.0 194.5,95.7ZM236.6,97.5 237.0,97.5 237.8,97.6 238.5,97.7 239.0,97.8 239.5,98.0 240.0,98.3 240.5,98.6 240.9,99.0 241.2,99.5 241.3,100.0 241.2,100.5 241.0,101.1 240.6,101.5 240.2,101.8 239.8,102.1 239.2,102.3 238.7,102.5 238.0,102.6 237.2,102.7 236.5,102.7 235.8,102.6 235.0,102.5 234.5,102.4 234.0,102.2 233.5,101.9 233.0,101.6 232.6,101.2 232.2,100.8 232.1,100.2 232.2,99.5 232.5,99.0 232.8,98.8 233.2,98.4 233.8,98.1 234.2,97.9 234.8,97.8 235.5,97.6 236.2,97.5Z" fill="none" stroke="rgb(89,89,89)" stroke-width="0.53"/>
<path d="M194.8,95.2 195.5,95.1 196.2,95.1 196.9,95.2 197.5,95.5 198.0,95.7 198.4,96.0 198.8,96.3 199.1,96.8 199.5,97.2 199.8,97.7 200.0,98.2 200.1,98.8 200.2,99.3 200.3,100.0 200.3,100.8 200.2,101.2 200.0,101.9 199.8,102.5 199.5,102.9 199.2,103.3 198.9,103.8 198.5,104.1 198.0,104.5 197.6,104.8 197.0,105.0 196.5,105.2 195.9,105.2 195.2,105.3 194.8,105.1 194.2,104.9 193.8,104.5 193.5,104.2 193.1,103.8 192.8,103.2 192.6,102.8 192.5,102.2 192.3,101.5 192.2,101.0 192.2,100.2 192.2,99.5 192.3,99.0 192.5,98.2 192.7,97.8 192.9,97.2 193.1,96.8 193.5,96.2 193.8,96.0 194.2,95.5 194.8,95.3ZM234.9,96.8 235.5,96.7 236.2,96.6 237.0,96.6 237.8,96.6 238.5,96.7 239.0,96.8 239.8,97.0 240.2,97.1 240.8,97.4 241.2,97.6 241.8,98.0 242.1,98.2 242.5,98.7 242.8,99.2 242.9,99.8 242.9,100.5 242.8,101.1 242.5,101.5 242.1,102.0 241.8,102.3 241.2,102.7 240.8,102.9 240.2,103.1 239.8,103.3 239.0,103.5 238.5,103.6 237.8,103.7 237.0,103.7 236.2,103.7 235.5,103.6 235.0,103.5 234.2,103.3 233.8,103.2 233.2,103.0 232.7,102.8 232.2,102.5 231.8,102.2 231.2,101.8 231.0,101.5 230.6,101.0 230.4,100.5 230.4,99.8 230.6,99.2 230.9,98.8 231.2,98.4 231.7,98.0 232.1,97.8 232.6,97.5 233.1,97.2 233.8,97.0 234.2,96.9 234.9,96.8Z" fill="none" stroke="rgb(91,91,91)" stroke-width="0.53"/>
<path d="M195.1,94.8 195.8,94.7 196.5,94.7 197.0,94.8 197.5,95.0 198.0,95.2 198.5,95.6 199.0,96.0 199.2,96.3 199.6,96.8 200.0,97.2 200.2,97.8 200.4,98.2 200.5,98.8 200.7,99.5 200.7,100.2 200.6,101.0 200.5,101.5 200.2,102.1 200.0,102.7 199.8,103.1 199.5,103.5 199.0,104.0 198.8,104.3 198.2,104.7 197.8,105.0 197.2,105.2 196.8,105.4 196.0,105.5 195.5,105.5 195.0,105.5 194.4,105.2 194.0,105.0 193.5,104.6 193.2,104.2 192.9,103.8 192.7,103.2 192.5,102.8 192.2,102.0 192.1,101.5 192.1,100.8 192.1,100.0 192.1,99.2 192.2,98.5 192.4,98.0 192.5,97.5 192.8,97.0 193.0,96.5 193.4,96.0 193.8,95.6 194.1,95.2 194.5,95.0 195.1,94.8ZM234.6,96.0 235.2,95.9 236.0,95.8 236.8,95.8 237.5,95.8 238.2,95.9 239.0,96.0 239.5,96.1 240.2,96.2 240.8,96.4 241.2,96.6 241.8,96.8 242.2,97.1 242.8,97.5 243.1,97.8 243.5,98.2 243.8,98.5 244.0,99.0 244.2,99.7 244.3,100.2 244.2,100.8 244.0,101.4 243.8,101.8 243.4,102.2 243.0,102.6 242.5,103.0 242.1,103.2 241.7,103.5 241.1,103.8 240.5,104.0 240.0,104.1 239.4,104.2 238.8,104.4 238.0,104.4 237.2,104.5 236.5,104.4 235.8,104.4 235.0,104.3 234.5,104.2 233.8,104.0 233.2,103.9 232.8,103.7 232.2,103.5 231.6,103.2 231.2,103.0 230.7,102.8 230.2,102.4 229.8,102.0 229.5,101.7 229.2,101.2 229.0,100.8 228.8,100.0 229.0,99.2 229.2,98.8 229.5,98.4 229.9,98.0 230.2,97.7 230.8,97.4 231.2,97.1 231.8,96.8 232.2,96.6 232.8,96.5 233.4,96.2 234.0,96.1 234.6,96.0Z" fill="none" stroke="rgb(92,92,92)" stroke-width="0.52"/>
<path d="M195.1,94.2 195.8,94.1 196.5,94.1 197.1,94.2 197.8,94.5 198.2,94.7 198.7,95.0 199.0,95.2 199.5,95.7 199.8,96.0 200.1,96.5 200.4,97.0 200.6,97.5 200.8,98.0 201.0,98.6 201.1,99.2 201.1,100.0 201.1,100.8 201.0,101.2 200.8,101.9 200.5,102.5 200.3,103.0 200.0,103.4 199.7,103.8 199.2,104.2 199.0,104.5 198.5,104.9 198.0,105.2 197.5,105.4 197.0,105.6 196.4,105.8 195.8,105.8 195.0,105.8 194.5,105.6 194.0,105.3 193.6,105.0 193.2,104.6 193.0,104.2 192.7,103.8 192.5,103.2 192.2,102.7 192.1,102.0 192.0,101.5 191.9,100.8 191.9,100.0 191.9,99.2 192.0,98.8 192.2,98.0 192.3,97.5 192.5,97.0 192.8,96.5 193.0,96.0 193.4,95.5 193.8,95.1 194.2,94.8 194.5,94.5 195.1,94.2ZM234.8,95.2 235.5,95.2 236.2,95.1 237.0,95.1 237.8,95.1 238.5,95.2 239.0,95.2 239.8,95.4 240.3,95.5 241.0,95.7 241.5,95.9 242.0,96.1 242.5,96.3 243.0,96.6 243.5,96.9 243.9,97.2 244.2,97.6 244.6,98.0 245.0,98.5 245.2,99.0 245.3,99.5 245.4,100.3 245.3,101.0 245.1,101.5 244.8,102.0 244.5,102.5 244.2,102.8 243.8,103.2 243.3,103.5 242.9,103.7 242.5,104.0 241.9,104.2 241.3,104.5 240.8,104.7 240.2,104.8 239.5,105.0 239.0,105.0 238.2,105.1 237.5,105.1 236.8,105.1 236.0,105.1 235.2,105.0 234.7,105.0 234.0,104.8 233.5,104.7 232.8,104.5 232.2,104.3 231.8,104.2 231.2,104.0 230.8,103.7 230.2,103.5 229.8,103.2 229.2,102.9 228.8,102.5 228.5,102.2 228.0,101.8 227.8,101.4 227.5,101.0 227.3,100.2 227.3,99.5 227.5,99.0 227.8,98.5 228.2,98.0 228.5,97.7 229.0,97.3 229.5,97.0 229.9,96.8 230.4,96.5 231.0,96.2 231.5,96.1 232.0,95.9 232.5,95.7 233.2,95.5 233.8,95.4 234.5,95.3Z" fill="none" stroke="rgb(93,93,93)" stroke-width="0.51"/>
<path d="M195.5,93.5 196.0,93.4 196.8,93.4 197.3,93.5 198.0,93.8 198.5,94.0 198.8,94.2 199.2,94.6 199.7,95.0 200.0,95.3 200.4,95.8 200.7,96.2 201.0,96.8 201.2,97.2 201.4,97.8 201.5,98.2 201.7,99.0 201.7,99.8 201.6,100.5 201.5,101.1 201.3,101.8 201.1,102.2 200.9,102.8 200.6,103.2 200.2,103.7 200.0,104.0 199.5,104.5 199.2,104.8 198.8,105.1 198.2,105.4 197.7,105.7 197.2,105.9 196.8,106.0 196.0,106.1 195.2,106.1 194.7,106.0 194.2,105.8 193.8,105.4 193.3,105.0 193.0,104.6 192.7,104.2 192.5,103.8 192.2,103.2 192.0,102.5 191.9,102.0 191.8,101.3 191.7,100.8 191.7,100.0 191.7,99.2 191.8,98.8 191.9,98.0 192.1,97.5 192.3,97.0 192.5,96.4 192.8,95.9 193.0,95.5 193.4,95.0 193.8,94.6 194.1,94.2 194.5,93.9 195.0,93.6ZM236.1,94.5 236.8,94.5 237.5,94.5 238.0,94.5 238.8,94.6 239.5,94.7 240.0,94.8 240.8,94.9 241.2,95.1 241.8,95.2 242.4,95.5 243.0,95.7 243.4,96.0 243.9,96.2 244.2,96.5 244.8,96.9 245.1,97.2 245.5,97.7 245.8,98.1 246.0,98.5 246.2,99.1 246.4,99.8 246.4,100.5 246.2,101.2 246.0,101.8 245.8,102.2 245.5,102.6 245.2,103.0 244.8,103.4 244.3,103.8 243.9,104.0 243.5,104.3 243.0,104.5 242.5,104.8 241.9,105.0 241.2,105.2 240.8,105.3 240.0,105.5 239.5,105.6 238.8,105.7 238.0,105.7 237.5,105.8 236.8,105.8 236.2,105.7 235.5,105.7 234.8,105.6 234.2,105.5 233.5,105.4 233.0,105.2 232.2,105.0 231.8,104.9 231.2,104.7 230.7,104.5 230.1,104.2 229.5,104.0 229.0,103.8 228.6,103.5 228.2,103.2 227.8,103.0 227.2,102.6 226.8,102.2 226.5,101.9 226.2,101.5 225.9,101.0 225.7,100.5 225.6,99.8 225.8,99.2 226.0,98.7 226.3,98.3 226.7,97.8 227.0,97.5 227.5,97.1 228.0,96.8 228.5,96.5 229.0,96.2 229.5,96.0 230.0,95.8 230.5,95.6 231.0,95.4 231.6,95.2 232.2,95.1 232.8,95.0 233.5,94.8 234.0,94.7 234.8,94.6 235.5,94.5 236.1,94.5Z" fill="none" stroke="rgb(95,95,95)" stroke-width="0.51"/>
<path d="M195.3,92.8 196.0,92.6 196.8,92.6 197.5,92.7 198.0,92.8 198.5,93.1 199.0,93.4 199.5,93.8 199.8,94.0 200.2,94.5 200.5,94.8 200.9,95.2 201.2,95.8 201.5,96.2 201.7,96.8 202.0,97.2 202.1,97.8 202.3,98.2 202.4,99.0 202.4,99.8 202.3,100.5 202.2,101.0 202.0,101.5 201.8,102.1 201.5,102.6 201.2,103.1 201.0,103.5 200.6,104.0 200.2,104.4 199.9,104.8 199.5,105.1 199.0,105.4 198.5,105.7 198.0,106.0 197.5,106.2 197.0,106.3 196.2,106.4 195.5,106.5 194.8,106.3 194.2,106.1 193.8,105.8 193.4,105.5 193.0,105.0 192.8,104.7 192.5,104.2 192.2,103.8 192.0,103.2 191.8,102.5 191.7,102.0 191.6,101.2 191.5,100.5 191.5,99.8 191.6,99.0 191.7,98.2 191.8,97.8 192.0,97.0 192.2,96.5 192.4,96.0 192.6,95.5 192.9,95.0 193.2,94.5 193.5,94.2 193.9,93.8 194.2,93.4 194.8,93.1 195.2,92.8ZM235.1,94.0 235.8,94.0 236.5,93.9 237.2,93.9 238.0,94.0 238.5,94.0 239.2,94.1 240.0,94.2 240.5,94.3 241.2,94.5 241.8,94.6 242.2,94.8 242.8,95.0 243.4,95.2 243.9,95.5 244.3,95.8 244.8,96.0 245.2,96.4 245.6,96.8 246.0,97.1 246.3,97.5 246.7,98.0 246.9,98.5 247.1,99.0 247.2,99.6 247.3,100.2 247.2,100.8 247.0,101.5 246.8,102.0 246.5,102.5 246.2,102.9 245.9,103.2 245.5,103.7 245.1,104.0 244.8,104.3 244.2,104.6 243.8,104.9 243.2,105.1 242.8,105.3 242.2,105.5 241.5,105.7 241.0,105.9 240.4,106.0 239.8,106.1 239.0,106.2 238.4,106.2 237.8,106.3 237.0,106.3 236.2,106.3 235.8,106.2 235.0,106.2 234.2,106.1 233.8,106.0 233.0,105.8 232.5,105.7 231.8,105.5 231.2,105.4 230.8,105.2 230.2,105.0 229.5,104.8 229.0,104.5 228.5,104.3 228.0,104.1 227.5,103.8 227.0,103.6 226.5,103.3 226.1,103.0 225.7,102.8 225.2,102.4 224.8,102.0 224.5,101.7 224.2,101.2 223.9,100.8 223.7,100.2 223.7,99.5 223.8,99.0 224.1,98.5 224.5,98.0 224.8,97.8 225.2,97.3 225.7,97.0 226.1,96.8 226.5,96.5 227.0,96.2 227.5,96.0 228.1,95.8 228.7,95.5 229.2,95.3 229.8,95.1 230.2,95.0 231.0,94.8 231.5,94.6 232.0,94.5 232.8,94.3 233.2,94.2 234.0,94.1 234.8,94.0Z" fill="none" stroke="rgb(96,96,96)" stroke-width="0.50"/>
<path d="M196.0,91.8 196.5,91.7 197.2,91.7 197.8,91.8 198.2,92.0 198.8,92.3 199.2,92.6 199.8,93.0 200.1,93.2 200.5,93.7 200.8,94.0 201.2,94.5 201.5,95.0 201.8,95.3 202.0,95.8 202.3,96.2 202.5,96.8 202.7,97.3 203.0,98.0 203.0,98.5 203.1,99.2 203.1,100.0 203.0,100.5 202.8,101.2 202.6,101.8 202.4,102.2 202.1,102.8 201.8,103.2 201.5,103.6 201.2,104.0 200.8,104.5 200.5,104.8 200.0,105.2 199.6,105.5 199.2,105.7 198.8,106.0 198.2,106.3 197.7,106.5 197.0,106.7 196.5,106.8 195.8,106.8 195.1,106.8 194.5,106.6 194.0,106.3 193.6,106.0 193.2,105.7 192.9,105.2 192.5,104.8 192.2,104.3 192.0,103.8 191.8,103.2 191.7,102.8 191.5,102.1 191.4,101.5 191.3,100.8 191.3,100.0 191.3,99.2 191.4,98.5 191.5,98.0 191.7,97.2 191.8,96.7 192.0,96.2 192.2,95.6 192.5,95.1 192.8,94.6 193.0,94.2 193.3,93.8 193.7,93.2 194.0,92.9 194.5,92.5 194.8,92.3 195.2,92.0 196.0,91.8ZM235.0,93.5 235.8,93.5 236.5,93.4 237.2,93.4 238.0,93.5 238.5,93.5 239.2,93.6 240.0,93.7 240.5,93.8 241.2,93.9 241.8,94.1 242.3,94.2 243.0,94.5 243.5,94.7 244.0,94.9 244.5,95.2 245.0,95.5 245.4,95.8 245.8,96.0 246.2,96.5 246.6,96.8 247.0,97.2 247.2,97.6 247.5,98.0 247.8,98.6 248.0,99.2 248.0,99.8 248.0,100.5 248.0,101.0 247.8,101.7 247.5,102.2 247.2,102.7 247.0,103.0 246.6,103.5 246.2,103.8 245.8,104.2 245.4,104.5 245.0,104.8 244.5,105.1 244.0,105.3 243.5,105.6 243.0,105.8 242.3,106.0 241.8,106.2 241.2,106.3 240.5,106.5 240.0,106.6 239.2,106.7 238.5,106.7 238.0,106.8 237.2,106.8 236.5,106.8 236.0,106.7 235.2,106.7 234.5,106.6 233.9,106.5 233.2,106.4 232.6,106.2 232.0,106.1 231.5,106.0 230.8,105.8 230.2,105.6 229.8,105.5 229.1,105.2 228.5,105.0 228.0,104.8 227.5,104.6 227.0,104.4 226.5,104.2 226.0,103.9 225.5,103.7 225.0,103.4 224.5,103.2 224.0,102.9 223.5,102.6 223.0,102.3 222.6,102.0 222.2,101.8 221.8,101.3 221.4,101.0 221.1,100.5 220.8,100.0 220.8,99.2 221.0,98.8 221.4,98.2 221.8,97.9 222.2,97.5 222.7,97.2 223.1,97.0 223.6,96.8 224.1,96.5 224.6,96.2 225.2,96.0 225.8,95.8 226.2,95.6 226.8,95.4 227.2,95.2 227.9,95.0 228.5,94.8 229.0,94.7 229.6,94.5 230.2,94.3 230.8,94.2 231.5,94.0 232.0,93.9 232.8,93.8 233.2,93.7 234.0,93.6 234.7,93.5Z" fill="none" stroke="rgb(97,97,97)" stroke-width="0.50"/>
<path d="M196.2,91.0 196.8,91.0 197.4,91.0 198.0,91.1 198.5,91.3 199.0,91.6 199.5,91.9 199.9,92.2 200.2,92.6 200.7,93.0 201.0,93.4 201.3,93.8 201.7,94.2 202.0,94.7 202.2,95.1 202.5,95.5 202.8,96.0 203.1,96.5 203.3,97.0 203.5,97.6 203.7,98.2 203.8,98.8 203.8,99.5 203.7,100.0 203.6,100.8 203.4,101.2 203.2,101.8 203.0,102.2 202.7,102.8 202.3,103.2 202.0,103.7 201.8,104.0 201.3,104.5 201.0,104.8 200.5,105.2 200.2,105.5 199.8,105.8 199.2,106.2 198.8,106.4 198.2,106.7 197.8,106.8 197.1,107.0 196.5,107.1 195.8,107.1 195.0,107.0 194.5,106.9 194.0,106.6 193.5,106.2 193.2,106.0 192.8,105.5 192.5,105.1 192.2,104.7 192.0,104.2 191.8,103.6 191.6,103.0 191.4,102.5 191.3,101.8 191.2,101.2 191.1,100.5 191.1,99.8 191.2,99.0 191.2,98.4 191.3,97.8 191.5,97.1 191.7,96.5 191.8,96.0 192.0,95.5 192.2,95.0 192.5,94.5 192.8,94.0 193.1,93.5 193.4,93.0 193.8,92.6 194.0,92.2 194.5,91.8 194.9,91.5 195.3,91.2 196.0,91.0ZM233.6,93.2 234.2,93.2 235.0,93.1 235.8,93.1 236.5,93.0 237.2,93.1 238.0,93.1 238.8,93.1 239.5,93.2 240.0,93.3 240.8,93.4 241.2,93.5 242.0,93.7 242.5,93.9 243.0,94.1 243.5,94.3 244.1,94.5 244.6,94.8 245.0,95.0 245.5,95.3 246.0,95.6 246.5,96.0 246.8,96.2 247.2,96.8 247.5,97.1 247.8,97.5 248.1,98.0 248.3,98.5 248.5,99.0 248.6,99.8 248.6,100.5 248.5,101.2 248.3,101.8 248.1,102.2 247.8,102.8 247.5,103.2 247.2,103.5 246.8,104.0 246.5,104.2 246.0,104.6 245.5,105.0 245.1,105.2 244.6,105.5 244.1,105.8 243.5,106.0 243.0,106.2 242.5,106.4 242.0,106.5 241.2,106.7 240.8,106.8 240.0,106.9 239.5,107.0 238.8,107.1 238.0,107.1 237.2,107.1 236.5,107.1 235.8,107.1 235.0,107.0 234.5,107.0 233.8,106.9 233.1,106.8 232.5,106.6 231.9,106.5 231.2,106.3 230.8,106.2 230.0,106.0 229.5,105.8 229.0,105.7 228.4,105.5 227.8,105.3 227.2,105.1 226.8,104.9 226.2,104.7 225.7,104.5 225.1,104.2 224.5,104.0 224.0,103.8 223.5,103.6 223.0,103.4 222.5,103.2 221.8,103.0 221.2,102.8 220.8,102.6 220.2,102.4 219.8,102.2 219.1,102.0 218.5,101.8 218.0,101.5 217.5,101.3 217.1,101.0 216.7,100.8 216.2,100.3 216.0,100.0 215.8,99.2 215.8,99.0 216.0,98.3 216.3,98.0 216.8,97.6 217.2,97.4 217.8,97.1 218.2,97.0 218.9,96.8 219.5,96.6 220.0,96.5 220.8,96.3 221.2,96.2 222.0,96.0 222.5,95.9 223.0,95.8 223.8,95.6 224.2,95.4 224.9,95.2 225.5,95.1 226.0,94.9 226.7,94.8 227.2,94.6 227.8,94.5 228.5,94.3 229.0,94.1 229.5,94.0 230.2,93.8 230.8,93.7 231.5,93.6 232.0,93.5 232.8,93.4 233.5,93.3Z" fill="none" stroke="rgb(99,99,99)" stroke-width="0.49"/>
<path d="M195.5,90.5 196.2,90.3 197.0,90.3 197.8,90.4 198.3,90.5 198.8,90.8 199.3,91.0 199.8,91.3 200.2,91.8 200.5,92.0 200.9,92.5 201.2,92.9 201.6,93.2 201.9,93.8 202.2,94.2 202.5,94.5 202.8,95.0 203.1,95.5 203.4,96.0 203.7,96.5 203.9,97.0 204.1,97.5 204.3,98.0 204.5,98.8 204.5,99.5 204.4,100.2 204.2,100.8 204.0,101.4 203.8,101.9 203.5,102.4 203.2,102.8 202.9,103.2 202.5,103.8 202.2,104.1 201.9,104.5 201.5,104.9 201.1,105.2 200.8,105.5 200.2,105.9 199.8,106.2 199.3,106.5 198.9,106.8 198.3,107.0 197.8,107.2 197.2,107.3 196.5,107.4 195.8,107.4 195.0,107.3 194.5,107.2 194.0,106.9 193.5,106.5 193.2,106.2 192.8,105.8 192.5,105.4 192.2,105.0 192.0,104.5 191.7,104.0 191.5,103.4 191.3,102.8 191.2,102.2 191.1,101.5 191.0,100.8 191.0,100.2 191.0,99.5 191.0,99.0 191.1,98.2 191.2,97.5 191.3,97.0 191.5,96.3 191.7,95.8 191.9,95.2 192.1,94.8 192.3,94.2 192.6,93.8 192.9,93.2 193.2,92.8 193.5,92.3 193.8,92.0 194.2,91.5 194.5,91.2 195.0,90.8 195.5,90.5ZM235.1,92.8 235.8,92.7 236.5,92.7 237.2,92.7 238.0,92.7 238.5,92.8 239.2,92.9 240.0,93.0 240.5,93.0 241.2,93.2 241.8,93.3 242.4,93.5 243.0,93.7 243.5,93.9 244.0,94.1 244.5,94.3 245.0,94.5 245.5,94.8 246.0,95.1 246.5,95.5 246.8,95.8 247.2,96.1 247.6,96.5 248.0,97.0 248.2,97.3 248.5,97.8 248.8,98.2 249.0,98.9 249.1,99.5 249.2,100.2 249.1,101.0 249.0,101.5 248.8,102.1 248.5,102.6 248.2,103.0 247.8,103.5 247.5,103.9 247.1,104.2 246.8,104.6 246.2,105.0 245.8,105.2 245.4,105.5 244.9,105.8 244.4,106.0 243.8,106.2 243.2,106.5 242.8,106.6 242.2,106.8 241.5,107.0 241.0,107.1 240.2,107.2 239.8,107.3 239.0,107.4 238.2,107.4 237.5,107.4 236.8,107.4 236.0,107.4 235.2,107.4 234.5,107.3 234.0,107.2 233.2,107.1 232.6,107.0 232.0,106.9 231.4,106.8 230.8,106.6 230.2,106.5 229.5,106.3 229.0,106.1 228.5,106.0 227.8,105.8 227.2,105.6 226.8,105.4 226.2,105.2 225.5,105.0 225.0,104.8 224.5,104.7 223.9,104.5 223.2,104.3 222.8,104.2 222.0,104.0 221.5,103.9 220.9,103.8 220.2,103.6 219.6,103.5 219.0,103.4 218.3,103.2 217.8,103.1 217.1,103.0 216.5,102.9 216.0,102.7 215.3,102.5 214.8,102.3 214.2,102.0 213.8,101.8 213.4,101.5 213.0,101.2 212.6,100.8 212.2,100.3 212.0,99.8 212.0,99.2 212.0,98.8 212.2,98.1 212.5,97.7 212.9,97.2 213.2,97.0 213.8,96.6 214.2,96.4 214.8,96.1 215.2,95.9 215.8,95.8 216.5,95.6 217.0,95.5 217.8,95.4 218.5,95.3 219.0,95.2 219.8,95.2 220.5,95.1 221.2,95.0 221.8,95.0 222.5,94.9 223.2,94.8 223.8,94.7 224.5,94.6 225.1,94.5 225.8,94.4 226.3,94.2 227.0,94.1 227.5,94.0 228.2,93.8 228.8,93.7 229.5,93.6 230.0,93.5 230.8,93.3 231.2,93.2 232.0,93.1 232.7,93.0 233.2,92.9 234.0,92.8 234.8,92.8Z" fill="none" stroke="rgb(100,100,100)" stroke-width="0.49"/>
<path d="M196.5,89.5 197.0,89.5 197.6,89.5 198.2,89.6 198.8,89.8 199.2,90.1 199.8,90.4 200.2,90.8 200.5,91.0 200.9,91.5 201.2,91.9 201.6,92.2 202.0,92.8 202.2,93.1 202.5,93.5 202.9,94.0 203.2,94.5 203.5,94.9 203.8,95.3 204.1,95.8 204.4,96.2 204.7,96.8 205.0,97.2 205.2,97.8 205.4,98.2 205.6,98.8 205.6,99.5 205.5,100.0 205.2,100.7 205.0,101.2 204.8,101.6 204.5,102.0 204.2,102.5 203.8,103.0 203.5,103.4 203.2,103.8 202.8,104.2 202.5,104.5 202.0,105.0 201.7,105.2 201.2,105.7 200.8,106.0 200.5,106.3 200.0,106.6 199.5,106.9 199.0,107.1 198.5,107.3 198.0,107.5 197.2,107.7 196.7,107.8 196.0,107.8 195.4,107.8 194.8,107.6 194.2,107.4 193.8,107.1 193.3,106.8 193.0,106.4 192.6,106.0 192.3,105.5 192.0,105.0 191.8,104.5 191.5,104.0 191.3,103.5 191.2,103.0 191.0,102.2 190.9,101.8 190.8,101.0 190.8,100.2 190.8,99.5 190.8,98.8 190.9,98.0 191.0,97.4 191.1,96.8 191.3,96.2 191.5,95.5 191.7,95.0 191.9,94.5 192.1,94.0 192.3,93.5 192.6,93.0 192.9,92.5 193.2,92.0 193.5,91.6 193.8,91.2 194.2,90.8 194.5,90.4 195.0,90.0 195.5,89.8 196.0,89.6ZM233.4,92.5 234.0,92.4 234.8,92.4 235.5,92.3 236.2,92.3 237.0,92.3 237.8,92.4 238.5,92.4 239.2,92.5 239.8,92.5 240.5,92.7 241.0,92.8 241.8,92.9 242.2,93.0 242.9,93.2 243.5,93.4 244.0,93.6 244.5,93.8 245.0,94.1 245.5,94.3 246.0,94.6 246.5,94.9 246.9,95.2 247.3,95.5 247.8,95.9 248.1,96.2 248.5,96.8 248.8,97.1 249.0,97.5 249.3,98.0 249.5,98.6 249.7,99.2 249.7,100.0 249.7,100.8 249.5,101.5 249.4,102.0 249.1,102.5 248.8,103.0 248.5,103.5 248.2,103.8 247.8,104.2 247.5,104.5 247.0,104.9 246.6,105.2 246.2,105.5 245.8,105.8 245.2,106.0 244.8,106.3 244.2,106.5 243.6,106.8 243.0,107.0 242.5,107.1 241.9,107.2 241.2,107.4 240.8,107.5 240.0,107.6 239.2,107.7 238.7,107.8 238.0,107.8 237.2,107.8 236.5,107.8 235.8,107.8 235.2,107.7 234.5,107.7 233.8,107.6 233.2,107.5 232.5,107.4 231.9,107.2 231.2,107.1 230.8,107.0 230.0,106.8 229.5,106.7 228.8,106.5 228.2,106.4 227.8,106.2 227.0,106.0 226.5,105.9 226.0,105.7 225.2,105.5 224.8,105.4 224.1,105.2 223.5,105.1 222.9,105.0 222.2,104.9 221.5,104.8 221.0,104.7 220.2,104.6 219.5,104.5 219.0,104.5 218.2,104.4 217.5,104.3 217.0,104.2 216.2,104.1 215.7,104.0 215.0,103.8 214.5,103.7 213.9,103.5 213.3,103.2 212.8,103.0 212.3,102.8 211.9,102.5 211.5,102.2 211.0,101.9 210.6,101.5 210.2,101.1 209.9,100.8 209.6,100.2 209.4,99.8 209.4,99.0 209.5,98.5 209.8,97.9 210.0,97.5 210.4,97.0 210.8,96.7 211.2,96.3 211.6,96.0 212.0,95.8 212.5,95.5 213.0,95.2 213.6,95.0 214.2,94.8 214.8,94.6 215.3,94.5 216.0,94.4 216.7,94.2 217.2,94.2 218.0,94.1 218.7,94.1 219.5,94.1 220.2,94.0 221.0,94.0 221.8,94.0 222.2,94.0 223.0,94.0 223.8,93.9 224.5,93.8 225.2,93.8 225.8,93.7 226.5,93.6 227.0,93.5 227.8,93.4 228.5,93.2 229.0,93.2 229.8,93.0 230.2,92.9 231.0,92.8 231.5,92.7 232.2,92.6 233.0,92.5Z" fill="none" stroke="rgb(101,101,101)" stroke-width="0.48"/>
<path d="M195.9,88.8 196.5,88.6 197.2,88.6 198.0,88.6 198.5,88.8 199.2,89.0 199.6,89.2 200.0,89.5 200.5,89.9 200.8,90.2 201.2,90.7 201.5,91.0 201.9,91.5 202.2,92.0 202.5,92.4 202.8,92.8 203.1,93.2 203.5,93.7 203.8,94.1 204.1,94.5 204.5,95.0 204.8,95.3 205.2,95.8 205.5,96.1 206.0,96.5 206.4,96.8 207.0,96.9 207.8,96.8 208.2,96.6 208.8,96.3 209.1,96.0 209.5,95.8 210.0,95.4 210.5,95.1 211.0,94.9 211.5,94.6 212.0,94.4 212.5,94.2 213.1,94.0 213.8,93.8 214.2,93.7 215.0,93.5 215.5,93.4 216.2,93.3 216.8,93.2 217.5,93.2 218.2,93.1 219.0,93.1 219.8,93.1 220.5,93.1 221.2,93.1 222.0,93.1 222.8,93.1 223.5,93.1 224.2,93.1 225.0,93.1 225.8,93.0 226.2,93.0 227.0,92.9 227.8,92.8 228.2,92.7 229.0,92.6 229.8,92.5 230.2,92.5 231.0,92.3 231.8,92.3 232.2,92.2 233.0,92.1 233.8,92.0 234.4,92.0 235.0,92.0 235.8,91.9 236.5,91.9 237.2,91.9 238.0,92.0 238.5,92.0 239.2,92.1 240.0,92.2 240.5,92.3 241.2,92.4 241.8,92.5 242.5,92.7 243.0,92.8 243.5,93.0 244.2,93.2 244.8,93.5 245.2,93.7 245.8,94.0 246.2,94.2 246.7,94.5 247.0,94.8 247.5,95.1 248.0,95.5 248.3,95.8 248.7,96.2 249.0,96.6 249.3,97.0 249.6,97.5 249.9,98.0 250.1,98.5 250.2,99.2 250.3,99.8 250.3,100.5 250.2,101.0 250.1,101.8 249.9,102.2 249.6,102.8 249.3,103.2 249.0,103.7 248.7,104.0 248.2,104.5 248.0,104.8 247.5,105.1 247.0,105.5 246.6,105.8 246.2,106.0 245.7,106.2 245.2,106.5 244.7,106.8 244.1,107.0 243.5,107.2 243.0,107.4 242.5,107.5 241.8,107.7 241.2,107.8 240.5,107.9 239.9,108.0 239.2,108.1 238.5,108.1 237.8,108.2 237.0,108.2 236.2,108.1 235.5,108.1 234.8,108.1 234.2,108.0 233.5,107.9 232.8,107.8 232.2,107.7 231.5,107.6 231.0,107.5 230.2,107.3 229.8,107.2 229.0,107.0 228.5,106.9 227.9,106.8 227.2,106.6 226.8,106.5 226.0,106.3 225.5,106.2 224.8,106.0 224.2,105.9 223.5,105.8 223.0,105.7 222.2,105.6 221.5,105.6 220.8,105.5 220.2,105.5 219.5,105.4 218.8,105.4 218.0,105.3 217.4,105.2 216.8,105.2 216.0,105.1 215.5,105.0 214.8,104.8 214.3,104.7 213.5,104.5 213.0,104.3 212.5,104.2 212.0,103.9 211.5,103.7 211.0,103.5 210.5,103.2 210.0,102.9 209.5,102.6 209.0,102.3 208.6,102.0 208.2,101.8 207.6,101.5 207.0,101.4 206.5,101.6 206.0,101.9 205.5,102.2 205.2,102.5 204.8,103.0 204.5,103.2 204.0,103.7 203.8,104.0 203.2,104.5 203.0,104.8 202.5,105.2 202.2,105.5 201.8,105.8 201.2,106.2 200.9,106.5 200.5,106.8 200.0,107.1 199.5,107.3 199.0,107.6 198.5,107.8 197.8,108.0 197.2,108.1 196.5,108.2 195.8,108.2 195.0,108.1 194.5,107.9 194.0,107.6 193.5,107.3 193.2,107.0 192.8,106.6 192.5,106.2 192.1,105.8 191.8,105.2 191.6,104.8 191.4,104.2 191.2,103.8 191.0,103.1 190.8,102.5 190.8,102.0 190.6,101.2 190.6,100.5 190.6,99.8 190.6,99.0 190.6,98.2 190.7,97.5 190.8,97.0 191.0,96.2 191.1,95.8 191.3,95.2 191.5,94.6 191.7,94.0 192.0,93.5 192.2,93.0 192.5,92.5 192.7,92.0 193.0,91.6 193.2,91.2 193.6,90.8 193.9,90.2 194.2,89.9 194.6,89.5 195.0,89.2 195.5,88.9Z" fill="none" stroke="rgb(103,103,103)" stroke-width="0.48"/>
<path d="M196.7,87.2 197.2,87.2 198.0,87.2 198.5,87.3 199.2,87.5 199.8,87.7 200.2,88.0 200.6,88.2 201.0,88.6 201.4,89.0 201.8,89.4 202.0,89.8 202.3,90.2 202.6,90.8 203.0,91.2 203.2,91.7 203.5,92.1 203.8,92.5 204.2,93.0 204.5,93.3 204.9,93.8 205.2,94.0 205.8,94.4 206.2,94.6 207.0,94.7 207.8,94.6 208.2,94.5 208.8,94.2 209.4,94.0 210.0,93.8 210.5,93.5 211.0,93.3 211.5,93.2 212.0,93.0 212.8,92.8 213.2,92.7 214.0,92.5 214.5,92.4 215.2,92.3 215.8,92.2 216.5,92.1 217.2,92.1 218.0,92.0 218.7,92.0 219.5,92.0 220.2,92.0 221.0,92.1 221.8,92.1 222.5,92.1 223.2,92.1 224.0,92.2 224.8,92.2 225.5,92.2 226.2,92.1 227.0,92.1 227.8,92.0 228.3,92.0 229.0,91.9 229.8,91.9 230.5,91.8 231.0,91.7 231.8,91.6 232.5,91.6 233.2,91.5 233.8,91.5 234.5,91.4 235.2,91.4 236.0,91.4 236.8,91.4 237.5,91.4 238.2,91.5 238.8,91.5 239.5,91.6 240.2,91.7 240.8,91.8 241.5,91.9 242.0,92.0 242.8,92.2 243.2,92.4 243.8,92.5 244.4,92.8 245.0,93.0 245.5,93.2 246.0,93.4 246.5,93.7 247.0,94.0 247.4,94.2 247.8,94.5 248.2,94.9 248.7,95.2 249.0,95.5 249.4,96.0 249.8,96.4 250.0,96.8 250.3,97.2 250.6,97.8 250.8,98.2 251.0,99.0 251.1,99.5 251.1,100.2 251.0,101.0 250.9,101.5 250.8,102.0 250.5,102.6 250.2,103.1 250.0,103.5 249.6,104.0 249.2,104.4 248.9,104.8 248.5,105.1 248.0,105.5 247.7,105.8 247.2,106.0 246.8,106.3 246.2,106.6 245.8,106.9 245.2,107.1 244.8,107.3 244.2,107.5 243.5,107.7 243.0,107.9 242.5,108.0 241.8,108.2 241.2,108.3 240.5,108.4 239.8,108.5 239.2,108.5 238.5,108.6 237.8,108.6 237.0,108.6 236.2,108.6 235.5,108.6 234.8,108.5 234.3,108.5 233.5,108.4 232.8,108.3 232.2,108.2 231.5,108.1 231.0,108.0 230.2,107.9 229.7,107.8 229.0,107.6 228.5,107.5 227.8,107.3 227.2,107.2 226.5,107.1 226.0,107.0 225.2,106.9 224.5,106.8 224.0,106.7 223.2,106.6 222.5,106.6 221.8,106.5 221.2,106.5 220.5,106.5 219.8,106.4 219.0,106.4 218.2,106.4 217.5,106.3 216.8,106.3 216.2,106.2 215.5,106.1 214.8,106.0 214.2,105.9 213.6,105.8 213.0,105.6 212.5,105.4 211.9,105.2 211.2,105.0 210.8,104.8 210.2,104.6 209.8,104.4 209.2,104.1 208.8,103.9 208.2,103.7 207.5,103.5 207.0,103.4 206.4,103.5 205.8,103.7 205.2,104.0 204.8,104.2 204.5,104.5 204.0,104.8 203.5,105.2 203.2,105.5 202.8,105.9 202.2,106.2 201.9,106.5 201.5,106.8 201.0,107.1 200.5,107.4 200.0,107.7 199.5,108.0 199.0,108.2 198.5,108.4 198.0,108.5 197.2,108.7 196.5,108.7 195.8,108.7 195.0,108.6 194.5,108.4 194.0,108.2 193.5,107.9 193.1,107.5 192.8,107.2 192.4,106.8 192.0,106.2 191.8,105.8 191.5,105.3 191.2,104.8 191.0,104.2 190.9,103.8 190.7,103.2 190.5,102.5 190.4,102.0 190.3,101.2 190.3,100.5 190.3,99.8 190.3,99.0 190.3,98.2 190.4,97.5 190.5,96.9 190.6,96.2 190.8,95.7 191.0,95.0 191.1,94.5 191.3,94.0 191.5,93.5 191.8,92.9 192.0,92.4 192.2,91.9 192.5,91.4 192.8,91.0 193.0,90.5 193.3,90.0 193.7,89.5 194.0,89.0 194.2,88.7 194.7,88.2 195.0,87.9 195.5,87.6 196.0,87.4 196.7,87.2Z" fill="none" stroke="rgb(104,104,104)" stroke-width="0.47"/>
<path d="M197.3,85.0 198.0,84.9 198.8,84.9 199.2,85.0 200.0,85.2 200.5,85.4 201.0,85.6 201.5,85.9 201.9,86.2 202.2,86.6 202.5,87.0 202.9,87.5 203.2,88.0 203.4,88.5 203.6,89.0 203.9,89.5 204.1,90.0 204.4,90.5 204.7,91.0 205.0,91.4 205.3,91.8 205.8,92.1 206.2,92.4 206.8,92.5 207.5,92.6 208.2,92.5 208.8,92.4 209.3,92.2 210.0,92.1 210.5,91.9 211.2,91.8 211.8,91.6 212.4,91.5 213.0,91.4 213.8,91.3 214.2,91.2 215.0,91.1 215.6,91.0 216.2,90.9 217.0,90.9 217.8,90.8 218.5,90.8 219.2,90.8 220.0,90.8 220.8,90.9 221.5,90.9 222.2,90.9 223.0,91.0 223.5,91.0 224.2,91.1 225.0,91.1 225.8,91.1 226.5,91.1 227.2,91.1 228.0,91.1 228.8,91.1 229.5,91.0 230.0,91.0 230.8,91.0 231.5,90.9 232.2,90.9 233.0,90.8 233.8,90.8 234.5,90.8 235.0,90.7 235.8,90.7 236.5,90.7 237.0,90.8 237.8,90.8 238.5,90.8 239.2,90.9 240.0,91.0 240.5,91.1 241.2,91.2 241.8,91.3 242.5,91.5 243.0,91.6 243.5,91.8 244.2,92.0 244.8,92.2 245.2,92.3 245.8,92.6 246.2,92.8 246.8,93.0 247.2,93.3 247.8,93.6 248.2,93.9 248.7,94.2 249.0,94.5 249.5,94.9 249.9,95.2 250.2,95.7 250.5,96.0 250.9,96.5 251.2,97.0 251.5,97.5 251.7,98.0 251.9,98.5 252.0,99.1 252.1,99.8 252.1,100.5 252.0,101.0 251.8,101.8 251.6,102.2 251.4,102.8 251.1,103.2 250.8,103.8 250.5,104.2 250.2,104.5 249.8,105.0 249.5,105.2 249.0,105.6 248.5,106.0 248.2,106.2 247.8,106.5 247.2,106.8 246.8,107.1 246.2,107.3 245.8,107.6 245.2,107.8 244.6,108.0 244.0,108.2 243.5,108.4 243.0,108.5 242.2,108.7 241.8,108.8 241.0,108.9 240.4,109.0 239.8,109.1 239.0,109.2 238.2,109.2 237.5,109.2 236.8,109.2 236.0,109.2 235.2,109.2 234.5,109.1 233.8,109.0 233.2,109.0 232.5,108.9 231.8,108.8 231.2,108.7 230.5,108.6 230.0,108.5 229.2,108.4 228.5,108.2 228.0,108.2 227.2,108.0 226.8,108.0 226.0,107.9 225.2,107.8 224.8,107.7 224.0,107.7 223.2,107.6 222.5,107.6 221.8,107.6 221.0,107.6 220.2,107.5 219.5,107.5 218.8,107.5 218.0,107.5 217.5,107.5 216.8,107.4 216.0,107.4 215.2,107.3 214.8,107.2 214.0,107.1 213.5,107.0 212.8,106.8 212.2,106.7 211.6,106.5 211.0,106.3 210.5,106.1 210.0,106.0 209.4,105.8 208.8,105.5 208.2,105.3 207.7,105.2 207.0,105.1 206.2,105.1 205.5,105.2 205.0,105.5 204.5,105.7 204.0,106.0 203.6,106.2 203.2,106.5 202.8,106.8 202.2,107.2 201.8,107.5 201.4,107.8 201.0,108.0 200.5,108.3 200.0,108.5 199.5,108.8 198.8,109.0 198.2,109.2 197.8,109.3 197.0,109.4 196.2,109.4 195.5,109.4 194.8,109.2 194.2,109.1 193.8,108.8 193.3,108.5 193.0,108.2 192.5,107.8 192.2,107.4 191.9,107.0 191.6,106.5 191.3,106.0 191.1,105.5 190.9,105.0 190.7,104.5 190.5,104.0 190.3,103.2 190.2,102.8 190.0,102.0 190.0,101.5 189.9,100.8 189.8,100.0 189.8,99.2 189.9,98.5 189.9,97.8 190.0,97.2 190.1,96.5 190.2,95.9 190.4,95.2 190.5,94.8 190.8,94.1 191.0,93.5 191.1,93.0 191.4,92.5 191.6,92.0 191.8,91.5 192.0,91.0 192.3,90.5 192.5,90.0 192.8,89.5 193.0,89.0 193.3,88.5 193.6,88.0 193.9,87.5 194.2,87.0 194.5,86.6 194.8,86.2 195.2,85.8 195.8,85.5 196.2,85.3 196.8,85.1 197.3,85.0Z" fill="none" stroke="rgb(106,106,106)" stroke-width="0.47"/>
<path d="M197.6,82.2 198.2,82.2 199.0,82.1 199.8,82.2 200.3,82.2 201.0,82.4 201.5,82.6 202.0,82.8 202.5,83.1 203.0,83.4 203.5,83.7 203.8,84.0 204.2,84.5 204.5,84.8 204.8,85.2 205.1,85.8 205.4,86.2 205.6,86.8 205.8,87.2 206.1,87.8 206.3,88.2 206.6,88.8 207.0,89.2 207.3,89.5 207.8,89.8 208.4,90.0 209.0,90.1 209.8,90.1 210.5,90.1 211.2,90.0 211.8,90.0 212.5,89.9 213.2,89.8 214.0,89.8 214.5,89.7 215.2,89.6 216.0,89.6 216.8,89.5 217.2,89.5 218.0,89.5 218.8,89.4 219.5,89.4 220.2,89.5 221.0,89.5 221.5,89.5 222.2,89.5 223.0,89.6 223.8,89.7 224.5,89.7 225.0,89.8 225.8,89.8 226.5,89.8 227.2,89.9 228.0,89.9 228.8,89.9 229.5,89.9 230.2,89.9 231.0,89.9 231.8,89.9 232.5,89.9 233.2,89.8 234.0,89.8 234.8,89.8 235.5,89.8 236.2,89.8 237.0,89.9 237.8,89.9 238.5,90.0 239.0,90.0 239.8,90.1 240.5,90.2 241.0,90.3 241.8,90.4 242.2,90.5 243.0,90.7 243.5,90.8 244.0,91.0 244.8,91.2 245.2,91.4 245.8,91.6 246.2,91.8 246.8,92.0 247.3,92.2 247.8,92.5 248.3,92.8 248.7,93.1 249.2,93.4 249.7,93.8 250.0,94.0 250.5,94.4 250.9,94.8 251.2,95.1 251.6,95.5 252.0,96.0 252.2,96.4 252.5,96.9 252.8,97.4 253.0,98.0 253.2,98.5 253.3,99.0 253.3,99.8 253.3,100.5 253.2,101.0 253.1,101.8 252.9,102.2 252.7,102.8 252.4,103.2 252.1,103.8 251.8,104.2 251.5,104.6 251.1,105.0 250.8,105.4 250.4,105.8 250.0,106.1 249.5,106.4 249.1,106.8 248.7,107.0 248.2,107.3 247.8,107.5 247.2,107.8 246.8,108.0 246.2,108.3 245.6,108.5 245.0,108.7 244.5,108.9 244.0,109.0 243.2,109.2 242.8,109.4 242.0,109.5 241.5,109.6 240.8,109.7 240.2,109.8 239.5,109.9 238.8,109.9 238.0,110.0 237.2,110.0 236.5,110.0 235.8,110.0 235.0,109.9 234.2,109.9 233.5,109.8 233.0,109.8 232.2,109.7 231.5,109.6 230.9,109.5 230.2,109.4 229.5,109.3 229.0,109.2 228.2,109.1 227.5,109.1 227.0,109.0 226.2,108.9 225.5,108.9 224.8,108.8 224.0,108.8 223.2,108.8 222.5,108.8 221.8,108.8 221.0,108.8 220.2,108.8 219.5,108.8 218.8,108.8 218.0,108.8 217.2,108.8 216.8,108.7 216.0,108.7 215.2,108.6 214.5,108.5 214.0,108.4 213.2,108.3 212.8,108.2 212.0,108.0 211.5,107.9 210.8,107.8 210.2,107.6 209.8,107.4 209.2,107.2 208.5,107.0 208.0,106.9 207.3,106.7 206.8,106.7 206.0,106.7 205.5,106.8 204.8,107.0 204.3,107.2 203.8,107.5 203.2,107.7 202.8,108.0 202.4,108.2 201.9,108.5 201.5,108.8 201.0,109.0 200.5,109.3 200.0,109.5 199.3,109.8 198.8,109.9 198.2,110.1 197.5,110.2 197.0,110.3 196.2,110.3 195.5,110.3 195.0,110.2 194.3,110.0 193.8,109.8 193.4,109.5 193.0,109.2 192.5,108.8 192.3,108.5 191.8,108.0 191.5,107.5 191.2,107.1 191.0,106.7 190.7,106.2 190.5,105.7 190.2,105.0 190.1,104.5 189.9,104.0 189.8,103.4 189.6,102.8 189.5,102.1 189.4,101.5 189.3,100.8 189.3,100.0 189.3,99.2 189.3,98.5 189.4,97.8 189.5,97.0 189.5,96.5 189.7,95.8 189.8,95.2 190.0,94.5 190.1,94.0 190.3,93.5 190.5,92.9 190.7,92.2 190.9,91.8 191.1,91.2 191.3,90.8 191.5,90.2 191.8,89.7 192.0,89.0 192.2,88.5 192.4,88.0 192.6,87.5 192.8,87.0 193.0,86.5 193.2,85.9 193.5,85.4 193.8,84.9 194.0,84.5 194.4,84.0 194.8,83.6 195.1,83.2 195.5,83.0 196.0,82.7 196.6,82.5 197.2,82.3Z" fill="none" stroke="rgb(107,107,107)" stroke-width="0.46"/>
<path d="M196.8,79.8 197.5,79.6 198.2,79.6 199.0,79.5 199.8,79.6 200.5,79.6 201.2,79.8 201.8,79.9 202.2,80.0 203.0,80.3 203.5,80.5 204.0,80.7 204.5,81.0 205.0,81.2 205.3,81.5 205.8,81.8 206.2,82.2 206.5,82.5 207.0,83.0 207.2,83.3 207.6,83.8 208.0,84.2 208.2,84.5 208.6,85.0 209.0,85.5 209.2,85.8 209.7,86.2 210.0,86.5 210.5,86.8 211.0,87.0 211.8,87.2 212.2,87.3 213.0,87.4 213.8,87.4 214.5,87.4 215.2,87.4 216.0,87.3 216.8,87.3 217.5,87.3 218.2,87.3 218.8,87.2 219.5,87.2 220.2,87.2 221.0,87.2 221.5,87.3 222.2,87.3 223.0,87.3 223.8,87.4 224.5,87.4 225.2,87.5 225.8,87.5 226.5,87.6 227.2,87.6 228.0,87.7 228.7,87.8 229.2,87.8 230.0,87.8 230.8,87.9 231.5,87.9 232.2,87.9 233.0,88.0 233.5,88.0 234.2,88.0 235.0,88.1 235.8,88.1 236.5,88.2 237.2,88.2 237.8,88.3 238.5,88.3 239.2,88.4 239.8,88.5 240.5,88.6 241.2,88.7 241.8,88.8 242.5,89.0 243.0,89.1 243.7,89.2 244.2,89.4 244.8,89.5 245.4,89.8 246.0,89.9 246.5,90.1 247.0,90.3 247.5,90.5 248.1,90.8 248.6,91.0 249.1,91.2 249.6,91.5 250.0,91.8 250.5,92.1 251.0,92.4 251.5,92.7 251.8,93.0 252.2,93.3 252.7,93.7 253.0,94.0 253.4,94.5 253.8,94.9 254.1,95.2 254.4,95.8 254.7,96.2 255.0,96.8 255.2,97.2 255.3,97.8 255.5,98.3 255.6,99.0 255.7,99.8 255.6,100.5 255.5,101.2 255.4,101.8 255.2,102.2 255.0,102.8 254.8,103.3 254.5,103.8 254.2,104.2 253.8,104.8 253.5,105.1 253.2,105.5 252.8,105.9 252.4,106.2 252.0,106.6 251.5,107.0 251.2,107.2 250.8,107.5 250.2,107.9 249.8,108.2 249.2,108.4 248.7,108.7 248.2,108.9 247.8,109.2 247.2,109.4 246.8,109.6 246.2,109.8 245.5,110.0 245.0,110.2 244.5,110.3 243.8,110.5 243.2,110.6 242.5,110.8 242.0,110.8 241.2,111.0 240.8,111.0 240.0,111.1 239.2,111.2 238.5,111.2 238.0,111.3 237.2,111.3 236.5,111.3 235.8,111.3 235.0,111.3 234.5,111.2 233.8,111.2 233.0,111.2 232.2,111.1 231.5,111.0 231.0,111.0 230.2,110.9 229.5,110.9 228.8,110.8 228.0,110.8 227.5,110.7 226.8,110.7 226.0,110.7 225.2,110.7 224.5,110.7 223.7,110.7 223.0,110.8 222.5,110.8 221.8,110.8 221.0,110.8 220.2,110.8 219.5,110.8 218.8,110.8 218.0,110.8 217.2,110.8 216.5,110.8 216.0,110.7 215.2,110.7 214.5,110.6 213.8,110.5 213.2,110.4 212.5,110.3 212.0,110.2 211.2,110.1 210.8,110.0 210.0,109.8 209.5,109.7 208.9,109.5 208.2,109.3 207.8,109.2 207.0,109.1 206.2,109.0 205.5,109.0 204.8,109.2 204.2,109.3 203.7,109.5 203.1,109.8 202.6,110.0 202.0,110.2 201.5,110.5 201.0,110.7 200.5,110.9 200.0,111.1 199.5,111.3 198.8,111.5 198.2,111.6 197.6,111.8 197.0,111.8 196.2,111.9 195.5,111.8 195.0,111.8 194.2,111.5 193.8,111.3 193.2,111.0 192.8,110.8 192.5,110.5 192.0,110.0 191.7,109.8 191.3,109.2 191.0,108.8 190.8,108.5 190.5,108.0 190.2,107.5 189.9,107.0 189.7,106.5 189.5,105.9 189.3,105.2 189.1,104.8 189.0,104.2 188.8,103.5 188.7,103.0 188.6,102.2 188.5,101.8 188.4,101.0 188.4,100.2 188.4,99.5 188.4,98.8 188.4,98.0 188.5,97.2 188.5,96.8 188.6,96.0 188.8,95.4 188.9,94.8 189.0,94.2 189.2,93.5 189.4,93.0 189.5,92.5 189.7,91.8 189.9,91.2 190.1,90.8 190.2,90.1 190.4,89.5 190.6,89.0 190.7,88.2 190.8,87.8 191.0,87.1 191.1,86.5 191.2,86.0 191.4,85.2 191.6,84.8 191.8,84.2 192.0,83.7 192.2,83.2 192.5,82.7 192.8,82.2 193.2,81.8 193.5,81.5 194.0,81.0 194.3,80.8 194.8,80.5 195.2,80.2 195.8,80.0 196.5,79.8Z" fill="none" stroke="rgb(108,108,108)" stroke-width="0.46"/>
<path d="M377.9,98.2 378.5,98.2 379.1,98.2 379.5,98.5 380.0,99.0 380.2,99.5 380.1,100.2 379.7,100.7 379.4,101.0 378.8,101.2 378.2,101.3 377.8,101.2 377.2,100.9 376.9,100.5 376.7,100.0 376.8,99.5 377.0,98.9 377.4,98.5 377.9,98.2Z" fill="none" stroke="rgb(85,85,85)" stroke-width="0.55"/>
<path d="M377.5,97.2 378.0,97.1 378.8,97.1 379.5,97.2 380.0,97.4 380.5,97.8 380.8,98.0 381.1,98.5 381.4,99.0 381.5,99.8 381.4,100.5 381.1,101.0 380.7,101.5 380.5,101.8 380.0,102.0 379.5,102.2 378.8,102.4 378.0,102.4 377.5,102.2 376.9,102.0 376.5,101.7 376.0,101.3 375.8,100.8 375.6,100.2 375.6,99.5 375.8,98.8 376.0,98.3 376.3,98.0 376.8,97.6 377.2,97.3Z" fill="none" stroke="rgb(87,87,87)" stroke-width="0.54"/>
<path d="M377.2,96.5 377.8,96.4 378.5,96.3 379.2,96.4 379.8,96.5 380.4,96.8 380.8,97.0 381.2,97.3 381.7,97.8 382.0,98.2 382.2,98.8 382.3,99.2 382.4,100.0 382.2,100.6 382.0,101.2 381.8,101.6 381.4,102.0 381.0,102.4 380.5,102.7 380.0,102.9 379.5,103.1 378.8,103.2 378.0,103.2 377.2,103.0 376.8,102.8 376.2,102.5 375.9,102.2 375.5,101.9 375.2,101.5 374.9,101.0 374.8,100.5 374.7,99.8 374.8,99.1 374.9,98.5 375.2,98.0 375.5,97.6 375.9,97.2 376.2,97.0 376.8,96.7Z" fill="none" stroke="rgb(88,88,88)" stroke-width="0.54"/>
<path d="M377.4,95.8 378.0,95.7 378.8,95.6 379.5,95.7 380.0,95.9 380.5,96.0 381.0,96.3 381.5,96.6 381.9,97.0 382.2,97.3 382.5,97.8 382.8,98.2 383.0,98.8 383.1,99.5 383.1,100.2 383.0,100.8 382.8,101.4 382.5,101.8 382.2,102.2 381.8,102.7 381.3,103.0 380.9,103.2 380.4,103.5 379.8,103.7 379.2,103.8 378.5,103.9 377.8,103.8 377.2,103.7 376.7,103.5 376.1,103.2 375.7,103.0 375.2,102.7 374.8,102.2 374.5,101.8 374.2,101.3 374.0,100.8 373.9,100.2 373.9,99.5 374.0,98.9 374.2,98.2 374.5,97.8 374.8,97.4 375.1,97.0 375.5,96.6 376.0,96.3 376.5,96.0 377.0,95.9Z" fill="none" stroke="rgb(89,89,89)" stroke-width="0.53"/>
<path d="M376.8,95.2 377.5,95.1 378.2,95.0 379.0,95.0 379.8,95.1 380.2,95.3 380.9,95.5 381.4,95.8 381.8,96.0 382.2,96.4 382.6,96.8 383.0,97.2 383.2,97.6 383.5,98.1 383.7,98.8 383.8,99.2 383.8,100.0 383.8,100.6 383.6,101.2 383.3,101.8 383.0,102.2 382.8,102.6 382.4,103.0 382.0,103.3 381.5,103.7 381.0,103.9 380.5,104.1 380.0,104.3 379.2,104.4 378.5,104.5 377.8,104.4 377.0,104.3 376.5,104.1 376.0,103.9 375.5,103.7 375.0,103.3 374.6,103.0 374.2,102.6 374.0,102.2 373.6,101.8 373.4,101.2 373.2,100.7 373.1,100.0 373.2,99.2 373.3,98.8 373.5,98.0 373.8,97.5 374.0,97.2 374.3,96.8 374.8,96.3 375.2,96.0 375.6,95.8 376.1,95.5 376.8,95.2Z" fill="none" stroke="rgb(91,91,91)" stroke-width="0.53"/>
<path d="M377.3,94.5 378.0,94.4 378.8,94.4 379.5,94.5 380.0,94.6 380.6,94.8 381.2,95.0 381.7,95.2 382.1,95.5 382.5,95.8 383.0,96.2 383.2,96.5 383.6,97.0 383.9,97.5 384.1,98.0 384.3,98.5 384.5,99.2 384.5,100.0 384.4,100.8 384.2,101.2 384.0,101.8 383.8,102.3 383.4,102.8 383.0,103.2 382.7,103.5 382.2,103.9 381.7,104.2 381.2,104.5 380.8,104.7 380.2,104.8 379.5,105.0 379.0,105.0 378.2,105.0 377.8,105.0 377.0,104.9 376.5,104.7 375.8,104.5 375.3,104.2 374.9,104.0 374.5,103.7 374.0,103.3 373.7,103.0 373.3,102.5 373.0,102.0 372.8,101.5 372.6,101.0 372.5,100.5 372.4,99.8 372.5,99.0 372.6,98.5 372.8,98.0 373.0,97.4 373.3,97.0 373.6,96.5 374.0,96.1 374.4,95.8 374.8,95.5 375.2,95.2 375.8,95.0 376.3,94.8 377.0,94.6Z" fill="none" stroke="rgb(92,92,92)" stroke-width="0.52"/>
<path d="M376.8,94.0 377.5,93.9 378.2,93.8 379.0,93.9 379.8,94.0 380.2,94.1 380.9,94.2 381.5,94.5 382.0,94.8 382.4,95.0 382.8,95.2 383.2,95.7 383.6,96.0 384.0,96.5 384.2,96.9 384.5,97.3 384.8,97.8 385.0,98.5 385.1,99.0 385.1,99.8 385.1,100.5 385.0,101.0 384.8,101.6 384.5,102.2 384.2,102.6 384.0,103.0 383.6,103.5 383.2,103.8 382.8,104.2 382.3,104.5 381.9,104.8 381.4,105.0 380.7,105.2 380.2,105.4 379.6,105.5 379.0,105.6 378.2,105.6 377.5,105.5 377.0,105.4 376.2,105.3 375.8,105.1 375.2,104.9 374.8,104.6 374.2,104.3 373.9,104.0 373.5,103.7 373.1,103.2 372.8,102.9 372.5,102.5 372.2,102.0 372.0,101.5 371.8,100.8 371.7,100.2 371.7,99.5 371.8,98.8 371.9,98.2 372.0,97.7 372.3,97.2 372.6,96.8 372.9,96.2 373.2,95.9 373.7,95.5 374.0,95.2 374.5,94.9 375.0,94.6 375.5,94.4 376.0,94.2 376.8,94.0Z" fill="none" stroke="rgb(93,93,93)" stroke-width="0.51"/>
<path d="M378.1,93.2 378.5,93.2 379.2,93.3 380.0,93.4 380.5,93.5 381.2,93.8 381.8,94.0 382.2,94.2 382.7,94.5 383.1,94.8 383.5,95.1 383.9,95.5 384.2,95.8 384.6,96.2 384.9,96.8 385.2,97.2 385.4,97.8 385.5,98.2 385.7,99.0 385.7,99.8 385.7,100.5 385.5,101.2 385.4,101.8 385.2,102.2 384.9,102.8 384.5,103.2 384.2,103.6 383.9,104.0 383.5,104.4 383.0,104.7 382.6,105.0 382.2,105.2 381.6,105.5 381.0,105.7 380.5,105.9 379.9,106.0 379.2,106.1 378.5,106.1 377.8,106.1 377.0,106.0 376.5,105.9 376.0,105.8 375.3,105.5 374.8,105.3 374.2,105.0 373.8,104.8 373.5,104.5 373.0,104.1 372.6,103.8 372.2,103.3 372.0,103.0 371.7,102.5 371.4,102.0 371.2,101.5 371.0,100.8 370.9,100.2 370.9,99.5 371.0,98.8 371.1,98.2 371.2,97.7 371.5,97.1 371.8,96.6 372.0,96.2 372.4,95.8 372.8,95.4 373.2,95.0 373.5,94.8 374.0,94.4 374.5,94.1 375.0,93.9 375.5,93.7 376.2,93.5 376.8,93.4 377.5,93.3 378.1,93.2Z" fill="none" stroke="rgb(95,95,95)" stroke-width="0.51"/>
<path d="M376.9,92.8 377.5,92.7 378.2,92.7 379.0,92.7 379.5,92.8 380.2,92.9 380.8,93.0 381.5,93.3 382.0,93.5 382.5,93.7 383.0,94.0 383.4,94.2 383.8,94.5 384.2,95.0 384.5,95.2 385.0,95.8 385.2,96.1 385.5,96.5 385.8,97.0 386.0,97.6 386.2,98.2 386.3,98.8 386.4,99.5 386.3,100.2 386.2,100.9 386.1,101.5 385.9,102.0 385.7,102.5 385.4,103.0 385.1,103.5 384.8,103.9 384.4,104.2 384.0,104.7 383.6,105.0 383.2,105.2 382.8,105.6 382.2,105.8 381.8,106.0 381.1,106.2 380.5,106.4 380.0,106.5 379.2,106.6 378.5,106.7 377.8,106.6 377.0,106.6 376.5,106.5 375.8,106.3 375.2,106.1 374.8,105.9 374.2,105.7 373.8,105.4 373.2,105.1 372.8,104.8 372.5,104.5 372.0,104.1 371.7,103.8 371.3,103.2 371.0,102.8 370.8,102.4 370.5,101.9 370.3,101.2 370.1,100.8 370.0,100.0 370.0,99.2 370.1,98.5 370.2,98.0 370.5,97.3 370.7,96.8 371.0,96.3 371.2,95.9 371.6,95.5 372.0,95.1 372.3,94.8 372.8,94.4 373.2,94.1 373.8,93.8 374.2,93.5 374.8,93.3 375.2,93.1 375.8,93.0 376.5,92.8Z" fill="none" stroke="rgb(96,96,96)" stroke-width="0.50"/>
<path d="M376.1,92.2 376.8,92.1 377.5,92.1 378.2,92.1 379.0,92.1 379.8,92.2 380.2,92.3 381.0,92.5 381.5,92.6 382.0,92.8 382.5,93.0 383.0,93.3 383.5,93.6 384.0,94.0 384.4,94.2 384.8,94.6 385.1,95.0 385.5,95.4 385.8,95.8 386.1,96.2 386.3,96.8 386.5,97.2 386.8,97.8 386.9,98.5 387.0,99.3 387.0,99.8 387.0,100.3 386.9,101.0 386.8,101.5 386.5,102.2 386.3,102.8 386.0,103.2 385.8,103.6 385.5,104.0 385.0,104.5 384.8,104.8 384.2,105.2 383.9,105.5 383.5,105.8 383.0,106.1 382.5,106.3 382.0,106.5 381.4,106.8 380.8,106.9 380.2,107.0 379.5,107.1 378.8,107.2 378.0,107.2 377.2,107.1 376.5,107.0 376.0,106.9 375.4,106.8 374.8,106.5 374.2,106.3 373.8,106.1 373.2,105.8 372.8,105.5 372.3,105.2 372.0,105.0 371.5,104.6 371.2,104.2 370.8,103.8 370.5,103.5 370.2,103.0 369.9,102.5 369.6,102.0 369.4,101.5 369.2,101.0 369.1,100.2 369.1,99.5 369.1,98.8 369.2,98.0 369.4,97.5 369.6,97.0 369.8,96.5 370.1,96.0 370.5,95.5 370.8,95.2 371.1,94.8 371.5,94.4 372.0,94.0 372.4,93.8 372.8,93.5 373.2,93.2 373.8,93.0 374.3,92.7 375.0,92.5 375.5,92.4 376.1,92.2Z" fill="none" stroke="rgb(97,97,97)" stroke-width="0.50"/>
<path d="M376.8,91.5 377.5,91.5 378.2,91.4 379.0,91.5 379.5,91.5 380.2,91.7 380.8,91.8 381.5,92.0 382.0,92.2 382.5,92.4 383.0,92.6 383.5,92.9 384.0,93.2 384.4,93.5 384.8,93.8 385.2,94.2 385.5,94.5 386.0,95.0 386.2,95.4 386.5,95.8 386.8,96.2 387.1,96.8 387.2,97.2 387.5,98.0 387.6,98.5 387.7,99.2 387.7,100.0 387.6,100.8 387.5,101.3 387.3,102.0 387.1,102.5 386.8,103.0 386.5,103.5 386.2,103.9 386.0,104.3 385.6,104.8 385.2,105.1 384.8,105.5 384.5,105.8 384.0,106.1 383.5,106.4 383.0,106.7 382.5,106.9 382.0,107.1 381.5,107.3 380.8,107.5 380.2,107.6 379.5,107.7 378.8,107.7 378.0,107.7 377.2,107.7 376.5,107.6 376.0,107.5 375.2,107.3 374.8,107.2 374.2,107.0 373.7,106.8 373.2,106.5 372.7,106.2 372.2,106.0 371.8,105.7 371.2,105.3 370.9,105.0 370.5,104.7 370.1,104.2 369.8,103.9 369.5,103.5 369.1,103.0 368.8,102.5 368.5,102.0 368.3,101.5 368.2,101.0 368.0,100.2 368.0,99.8 368.0,99.0 368.0,98.5 368.2,97.8 368.3,97.2 368.5,96.8 368.8,96.2 369.1,95.8 369.4,95.2 369.8,94.9 370.1,94.5 370.5,94.1 370.9,93.8 371.3,93.5 371.8,93.2 372.2,92.9 372.8,92.6 373.2,92.4 373.8,92.2 374.3,92.0 375.0,91.8 375.5,91.7 376.3,91.6 376.8,91.5Z" fill="none" stroke="rgb(99,99,99)" stroke-width="0.49"/>
<path d="M375.5,91.0 376.2,90.9 377.0,90.8 377.8,90.8 378.5,90.8 379.2,90.9 380.0,91.0 380.5,91.1 381.1,91.2 381.8,91.4 382.2,91.6 382.8,91.8 383.2,92.1 383.8,92.3 384.2,92.6 384.8,93.0 385.1,93.2 385.5,93.6 386.0,94.0 386.2,94.3 386.6,94.8 387.0,95.2 387.2,95.7 387.5,96.1 387.8,96.7 388.0,97.2 388.1,97.8 388.2,98.4 388.3,99.0 388.3,99.8 388.3,100.5 388.2,101.0 388.0,101.8 387.9,102.2 387.7,102.8 387.4,103.2 387.1,103.8 386.8,104.2 386.5,104.6 386.2,105.0 385.8,105.4 385.4,105.8 385.0,106.1 384.5,106.4 384.0,106.8 383.6,107.0 383.1,107.2 382.5,107.5 382.0,107.7 381.5,107.8 380.9,108.0 380.2,108.1 379.5,108.2 379.0,108.3 378.2,108.3 377.5,108.3 377.0,108.2 376.2,108.1 375.6,108.0 375.0,107.9 374.5,107.7 373.9,107.5 373.3,107.2 372.8,107.0 372.2,106.8 371.8,106.5 371.4,106.2 371.0,106.0 370.5,105.7 370.0,105.3 369.7,105.0 369.2,104.6 368.9,104.2 368.5,103.8 368.2,103.5 367.9,103.0 367.6,102.5 367.3,102.0 367.1,101.5 366.9,101.0 366.8,100.2 366.7,99.8 366.7,99.0 366.7,98.2 366.8,97.8 367.0,97.2 367.2,96.5 367.5,96.0 367.8,95.6 368.0,95.2 368.4,94.8 368.8,94.4 369.1,94.0 369.5,93.7 370.0,93.3 370.4,93.0 370.8,92.8 371.2,92.5 371.8,92.2 372.2,92.0 372.8,91.8 373.5,91.5 374.0,91.3 374.5,91.2 375.2,91.0Z" fill="none" stroke="rgb(100,100,100)" stroke-width="0.49"/>
<path d="M375.7,90.2 376.2,90.2 377.0,90.1 377.8,90.1 378.5,90.2 379.2,90.2 379.8,90.3 380.5,90.4 381.0,90.5 381.7,90.8 382.2,90.9 382.8,91.1 383.2,91.3 383.8,91.6 384.2,91.8 384.8,92.2 385.2,92.5 385.6,92.8 386.0,93.1 386.4,93.5 386.8,93.8 387.1,94.2 387.5,94.8 387.8,95.1 388.0,95.5 388.2,96.0 388.5,96.6 388.7,97.2 388.9,97.8 389.0,98.4 389.1,99.0 389.1,99.8 389.0,100.5 389.0,101.0 388.8,101.8 388.6,102.2 388.4,102.8 388.2,103.2 387.9,103.8 387.6,104.2 387.2,104.7 387.0,105.0 386.6,105.5 386.2,105.8 385.8,106.2 385.5,106.5 385.0,106.8 384.5,107.2 384.0,107.4 383.5,107.7 383.0,107.9 382.5,108.1 382.0,108.3 381.2,108.5 380.8,108.6 380.0,108.7 379.5,108.8 378.8,108.9 378.0,108.9 377.2,108.8 376.5,108.8 376.0,108.7 375.2,108.5 374.8,108.4 374.1,108.2 373.5,108.0 373.0,107.9 372.5,107.7 372.0,107.4 371.5,107.2 371.0,106.9 370.5,106.6 370.0,106.3 369.6,106.0 369.2,105.8 368.8,105.4 368.3,105.0 368.0,104.7 367.5,104.2 367.2,103.9 366.9,103.5 366.5,103.0 366.2,102.6 366.0,102.2 365.8,101.6 365.5,101.0 365.4,100.5 365.2,100.0 365.2,99.2 365.2,98.5 365.3,98.0 365.4,97.2 365.6,96.8 365.8,96.3 366.1,95.8 366.4,95.2 366.7,94.8 367.0,94.4 367.4,94.0 367.8,93.7 368.2,93.2 368.6,93.0 369.0,92.7 369.5,92.4 370.0,92.1 370.5,91.8 371.0,91.6 371.5,91.3 372.0,91.1 372.5,91.0 373.2,90.8 373.8,90.6 374.2,90.5 375.0,90.3 375.7,90.2Z" fill="none" stroke="rgb(101,101,101)" stroke-width="0.48"/>
<path d="M375.3,89.5 376.0,89.4 376.8,89.4 377.5,89.4 378.2,89.4 379.0,89.5 379.5,89.5 380.2,89.7 380.8,89.8 381.5,89.9 382.0,90.1 382.5,90.3 383.1,90.5 383.7,90.8 384.2,91.0 384.7,91.2 385.1,91.5 385.5,91.8 386.0,92.1 386.5,92.5 386.8,92.8 387.2,93.2 387.5,93.5 387.9,94.0 388.2,94.4 388.5,94.8 388.8,95.2 389.0,95.8 389.3,96.2 389.5,96.9 389.7,97.5 389.8,98.0 389.9,98.8 389.9,99.5 389.9,100.2 389.8,101.0 389.7,101.5 389.5,102.1 389.3,102.8 389.0,103.2 388.8,103.8 388.5,104.2 388.2,104.6 387.9,105.0 387.5,105.5 387.2,105.8 386.8,106.2 386.5,106.5 386.0,106.9 385.5,107.2 385.2,107.5 384.8,107.8 384.2,108.0 383.8,108.3 383.2,108.5 382.6,108.8 382.0,108.9 381.5,109.1 380.8,109.2 380.2,109.3 379.5,109.4 378.8,109.5 378.0,109.5 377.2,109.5 376.5,109.4 375.8,109.3 375.2,109.2 374.5,109.0 374.0,108.9 373.4,108.8 372.8,108.5 372.2,108.4 371.8,108.2 371.2,107.9 370.8,107.7 370.2,107.4 369.8,107.2 369.2,106.9 368.8,106.6 368.3,106.2 367.9,106.0 367.5,105.7 367.0,105.3 366.7,105.0 366.2,104.6 365.9,104.2 365.5,103.8 365.2,103.5 364.9,103.0 364.6,102.5 364.3,102.0 364.1,101.5 363.9,101.0 363.7,100.5 363.6,99.8 363.5,99.1 363.5,98.6 363.5,98.0 363.7,97.2 363.8,96.8 364.0,96.2 364.3,95.8 364.5,95.2 364.9,94.8 365.2,94.3 365.5,94.0 366.0,93.5 366.2,93.2 366.8,92.8 367.2,92.5 367.5,92.2 368.0,91.9 368.5,91.6 369.0,91.4 369.5,91.1 370.0,90.9 370.5,90.7 371.0,90.5 371.7,90.2 372.2,90.1 372.8,90.0 373.5,89.8 374.0,89.7 374.8,89.6 375.3,89.5Z" fill="none" stroke="rgb(103,103,103)" stroke-width="0.48"/>
<path d="M373.9,88.8 374.5,88.7 375.2,88.6 376.0,88.6 376.8,88.5 377.5,88.5 378.2,88.6 379.0,88.7 379.7,88.7 380.2,88.8 381.0,89.0 381.5,89.1 382.0,89.3 382.8,89.5 383.2,89.7 383.8,89.9 384.2,90.1 384.8,90.4 385.2,90.6 385.8,90.9 386.2,91.2 386.6,91.5 387.0,91.8 387.5,92.2 387.8,92.5 388.2,93.0 388.5,93.3 388.9,93.8 389.2,94.2 389.5,94.7 389.8,95.1 390.0,95.6 390.2,96.1 390.5,96.8 390.6,97.2 390.8,97.9 390.8,98.5 390.9,99.2 390.9,100.0 390.8,100.8 390.7,101.2 390.5,102.0 390.3,102.5 390.1,103.0 389.9,103.5 389.6,104.0 389.3,104.5 389.0,105.0 388.8,105.3 388.4,105.8 388.0,106.2 387.7,106.5 387.2,106.9 386.8,107.2 386.5,107.5 386.0,107.8 385.5,108.2 385.0,108.4 384.5,108.7 384.0,108.9 383.5,109.1 383.0,109.3 382.5,109.5 381.8,109.7 381.2,109.8 380.5,110.0 380.0,110.0 379.2,110.1 378.5,110.2 377.8,110.2 377.0,110.1 376.2,110.1 375.6,110.0 375.0,109.9 374.2,109.8 373.8,109.7 373.2,109.5 372.5,109.3 372.0,109.1 371.5,109.0 370.9,108.8 370.3,108.5 369.8,108.2 369.2,108.0 368.8,107.8 368.3,107.5 367.8,107.2 367.4,107.0 367.0,106.7 366.5,106.4 366.0,106.0 365.6,105.8 365.2,105.4 364.8,105.0 364.5,104.7 364.0,104.2 363.7,103.9 363.4,103.5 363.0,103.0 362.8,102.5 362.5,102.1 362.2,101.5 362.0,101.0 361.9,100.5 361.8,99.9 361.7,99.2 361.6,98.5 361.7,97.8 361.8,97.2 362.0,96.5 362.2,96.0 362.4,95.5 362.7,95.0 363.0,94.5 363.2,94.2 363.6,93.8 364.0,93.3 364.3,93.0 364.8,92.6 365.2,92.2 365.5,92.0 366.0,91.6 366.5,91.3 367.0,91.0 367.5,90.8 368.0,90.5 368.5,90.3 369.0,90.1 369.5,89.9 370.0,89.7 370.6,89.5 371.2,89.3 371.8,89.2 372.5,89.0 373.0,88.9 373.8,88.8Z" fill="none" stroke="rgb(104,104,104)" stroke-width="0.47"/>
<path d="M373.1,87.8 373.8,87.7 374.5,87.6 375.2,87.6 376.0,87.5 376.8,87.5 377.5,87.5 378.2,87.6 379.0,87.7 379.6,87.8 380.2,87.9 381.0,88.0 381.5,88.1 382.0,88.3 382.8,88.5 383.2,88.6 383.8,88.8 384.2,89.0 384.8,89.3 385.2,89.5 385.7,89.8 386.2,90.1 386.8,90.4 387.2,90.7 387.6,91.0 388.0,91.3 388.5,91.7 388.8,92.0 389.2,92.5 389.5,92.8 389.9,93.2 390.2,93.7 390.5,94.1 390.8,94.5 391.0,95.0 391.3,95.5 391.5,96.1 391.7,96.8 391.8,97.2 392.0,98.0 392.0,98.5 392.1,99.2 392.1,100.0 392.0,100.6 391.9,101.2 391.8,101.8 391.5,102.5 391.3,103.0 391.1,103.5 390.9,104.0 390.6,104.5 390.3,105.0 390.0,105.4 389.7,105.8 389.3,106.2 389.0,106.5 388.5,107.0 388.2,107.3 387.8,107.7 387.3,108.0 387.0,108.2 386.5,108.6 386.0,108.9 385.5,109.2 385.0,109.4 384.5,109.6 384.0,109.8 383.5,110.0 382.9,110.2 382.2,110.4 381.8,110.6 381.0,110.7 380.5,110.8 379.8,110.9 379.0,111.0 378.2,111.0 377.8,111.0 377.2,111.0 376.5,111.0 375.8,110.9 375.0,110.8 374.5,110.7 373.8,110.6 373.2,110.5 372.5,110.3 372.0,110.2 371.4,110.0 370.8,109.8 370.2,109.6 369.8,109.4 369.2,109.2 368.7,109.0 368.2,108.8 367.6,108.5 367.1,108.2 366.7,108.0 366.2,107.8 365.8,107.5 365.2,107.2 364.8,106.8 364.3,106.5 364.0,106.2 363.5,105.9 363.1,105.5 362.8,105.2 362.3,104.7 362.0,104.4 361.7,104.0 361.3,103.5 361.0,103.1 360.8,102.7 360.5,102.2 360.2,101.8 360.0,101.2 359.8,100.5 359.6,100.0 359.5,99.2 359.5,98.8 359.5,98.0 359.6,97.5 359.7,96.8 359.8,96.2 360.0,95.8 360.3,95.2 360.5,94.8 360.8,94.2 361.2,93.8 361.5,93.3 361.8,93.0 362.3,92.5 362.6,92.2 363.0,91.9 363.5,91.5 363.8,91.2 364.2,90.9 364.8,90.6 365.2,90.3 365.8,90.0 366.2,89.8 366.8,89.6 367.2,89.3 367.8,89.1 368.2,88.9 368.8,88.8 369.5,88.5 370.0,88.4 370.5,88.2 371.2,88.1 371.8,88.0 372.5,87.8 373.1,87.8Z" fill="none" stroke="rgb(106,106,106)" stroke-width="0.47"/>
<path d="M374.9,86.2 375.5,86.2 376.2,86.2 376.9,86.2 377.5,86.3 378.2,86.3 379.0,86.4 379.7,86.5 380.2,86.6 381.0,86.7 381.5,86.8 382.1,87.0 382.8,87.2 383.3,87.3 383.8,87.5 384.4,87.8 385.0,88.0 385.5,88.2 386.0,88.5 386.5,88.7 387.0,89.0 387.4,89.2 387.8,89.5 388.2,89.8 388.8,90.2 389.2,90.5 389.5,90.8 390.0,91.2 390.3,91.5 390.7,92.0 391.0,92.3 391.4,92.8 391.7,93.2 392.0,93.7 392.2,94.1 392.5,94.5 392.8,95.0 393.0,95.6 393.2,96.2 393.4,96.8 393.5,97.4 393.6,98.0 393.7,98.8 393.7,99.5 393.6,100.2 393.5,101.0 393.4,101.5 393.2,102.2 393.1,102.8 392.9,103.2 392.6,103.8 392.4,104.2 392.1,104.8 391.8,105.2 391.5,105.6 391.2,106.0 390.8,106.5 390.5,106.9 390.1,107.2 389.8,107.6 389.3,108.0 389.0,108.3 388.5,108.6 388.0,109.0 387.6,109.2 387.2,109.5 386.8,109.8 386.2,110.0 385.8,110.3 385.2,110.5 384.7,110.8 384.0,111.0 383.5,111.2 383.0,111.3 382.4,111.5 381.8,111.7 381.2,111.7 380.5,111.9 379.8,112.0 379.2,112.0 378.5,112.1 377.8,112.1 377.0,112.1 376.2,112.0 375.6,112.0 375.0,111.9 374.2,111.8 373.6,111.8 373.0,111.6 372.3,111.5 371.8,111.4 371.2,111.2 370.5,111.0 370.0,110.9 369.5,110.7 368.8,110.5 368.2,110.3 367.8,110.1 367.2,109.9 366.8,109.7 366.2,109.5 365.8,109.2 365.2,109.0 364.8,108.7 364.2,108.4 363.8,108.1 363.2,107.8 362.8,107.5 362.4,107.2 362.0,106.9 361.5,106.5 361.2,106.2 360.8,105.9 360.3,105.5 360.0,105.2 359.6,104.8 359.2,104.3 359.0,104.0 358.6,103.5 358.3,103.0 358.0,102.6 357.8,102.1 357.5,101.6 357.3,101.0 357.1,100.5 357.0,100.0 356.8,99.2 356.8,98.5 356.8,97.8 356.9,97.0 357.0,96.4 357.2,95.8 357.4,95.2 357.6,94.8 357.9,94.2 358.2,93.8 358.5,93.3 358.8,93.0 359.2,92.5 359.5,92.2 359.9,91.8 360.2,91.5 360.8,91.0 361.1,90.8 361.5,90.5 362.0,90.1 362.5,89.8 363.0,89.5 363.4,89.2 363.9,89.0 364.4,88.8 365.0,88.5 365.5,88.3 366.0,88.1 366.5,87.9 367.0,87.7 367.6,87.5 368.2,87.3 368.8,87.2 369.4,87.0 370.0,86.9 370.6,86.8 371.2,86.6 372.0,86.5 372.5,86.4 373.2,86.4 374.0,86.3 374.8,86.3Z" fill="none" stroke="rgb(107,107,107)" stroke-width="0.46"/>
<path d="M371.6,84.5 372.2,84.4 373.0,84.4 373.8,84.3 374.5,84.3 375.2,84.3 376.0,84.3 376.8,84.3 377.5,84.4 378.2,84.4 378.9,84.5 379.5,84.6 380.2,84.7 380.8,84.8 381.5,84.9 382.0,85.0 382.8,85.2 383.2,85.4 383.8,85.5 384.5,85.7 385.0,85.9 385.5,86.1 386.0,86.3 386.5,86.5 387.0,86.8 387.5,87.0 388.0,87.3 388.5,87.6 389.0,87.9 389.5,88.2 390.0,88.5 390.3,88.8 390.8,89.1 391.2,89.5 391.5,89.8 392.0,90.2 392.3,90.5 392.8,91.0 393.0,91.2 393.4,91.8 393.8,92.2 394.0,92.5 394.3,93.0 394.6,93.5 394.9,94.0 395.1,94.5 395.3,95.0 395.5,95.5 395.7,96.2 395.9,96.8 396.0,97.5 396.1,98.0 396.1,98.8 396.1,99.5 396.1,100.2 396.0,100.9 395.9,101.5 395.8,102.1 395.6,102.8 395.4,103.2 395.2,103.8 395.0,104.2 394.7,104.8 394.4,105.2 394.1,105.8 393.8,106.2 393.5,106.6 393.2,107.0 392.8,107.5 392.5,107.8 392.1,108.2 391.8,108.5 391.2,109.0 390.9,109.2 390.5,109.6 390.0,110.0 389.6,110.2 389.2,110.5 388.8,110.8 388.2,111.1 387.8,111.3 387.2,111.6 386.8,111.8 386.2,112.0 385.7,112.2 385.0,112.5 384.5,112.7 384.0,112.8 383.4,113.0 382.8,113.2 382.2,113.3 381.5,113.4 381.0,113.5 380.2,113.6 379.5,113.7 378.8,113.7 378.2,113.8 377.5,113.8 376.8,113.8 376.0,113.8 375.5,113.7 374.8,113.7 374.0,113.6 373.2,113.5 372.8,113.4 372.0,113.3 371.5,113.2 370.8,113.1 370.2,112.9 369.5,112.8 369.0,112.6 368.5,112.5 367.8,112.3 367.2,112.1 366.8,111.9 366.2,111.7 365.7,111.5 365.0,111.2 364.5,111.0 364.0,110.8 363.5,110.6 363.0,110.3 362.5,110.1 362.0,109.8 361.5,109.5 361.0,109.2 360.6,109.0 360.2,108.8 359.8,108.4 359.2,108.1 358.8,107.8 358.4,107.5 358.0,107.2 357.5,106.8 357.2,106.5 356.8,106.1 356.4,105.8 356.0,105.3 355.7,105.0 355.3,104.5 355.0,104.2 354.7,103.8 354.4,103.2 354.1,102.8 353.8,102.2 353.5,101.8 353.3,101.2 353.2,100.8 353.0,100.2 352.9,99.5 352.8,98.8 352.7,98.2 352.8,97.8 352.8,97.0 352.9,96.2 353.1,95.8 353.2,95.2 353.5,94.6 353.8,94.1 354.0,93.6 354.2,93.2 354.5,92.8 354.9,92.2 355.2,91.8 355.5,91.5 356.0,91.0 356.3,90.8 356.8,90.3 357.1,90.0 357.5,89.7 358.0,89.3 358.5,89.0 358.9,88.8 359.3,88.5 359.8,88.2 360.2,87.9 360.8,87.7 361.2,87.4 361.8,87.2 362.2,86.9 362.8,86.7 363.3,86.5 364.0,86.3 364.5,86.1 365.0,85.9 365.5,85.8 366.2,85.5 366.8,85.4 367.4,85.2 368.0,85.1 368.5,85.0 369.2,84.8 369.8,84.8 370.5,84.6 371.2,84.5Z" fill="none" stroke="rgb(108,108,108)" stroke-width="0.46"/>
<circle cx="103.3" cy="40.2" r="0.45" fill="#8a8a8a"/><circle cx="101.0" cy="47.5" r="0.45" fill="#8a8a8a"/><circle cx="86.0" cy="59.4" r="0.45" fill="#8a8a8a"/><circle cx="94.6" cy="77.0" r="0.45" fill="#8a8a8a"/><circle cx="94.6" cy="86.0" r="0.45" fill="#8a8a8a"/><circle cx="105.0" cy="91.5" r="0.45" fill="#8a8a8a"/><circle cx="88.7" cy="98.0" r="0.45" fill="#8a8a8a"/><circle cx="112.7" cy="103.0" r="0.45" fill="#8a8a8a"/><circle cx="82.5" cy="98.0" r="0.45" fill="#8a8a8a"/><circle cx="85.0" cy="70.0" r="0.45" fill="#8a8a8a"/>
<circle cx="194.0" cy="79.5" r="0.45" fill="#8a8a8a"/><circle cx="244.4" cy="63.6" r="0.45" fill="#8a8a8a"/><circle cx="264.3" cy="82.7" r="0.45" fill="#8a8a8a"/><circle cx="208.9" cy="55.6" r="0.45" fill="#8a8a8a"/><circle cx="250.7" cy="84.0" r="0.45" fill="#8a8a8a"/><circle cx="217.7" cy="81.7" r="0.45" fill="#8a8a8a"/><circle cx="258.9" cy="79.3" r="0.45" fill="#8a8a8a"/><circle cx="204.6" cy="73.5" r="0.45" fill="#8a8a8a"/><circle cx="189.9" cy="82.8" r="0.45" fill="#8a8a8a"/><circle cx="234.8" cy="71.8" r="0.45" fill="#8a8a8a"/><circle cx="198.4" cy="82.5" r="0.45" fill="#8a8a8a"/><circle cx="228.8" cy="72.9" r="0.45" fill="#8a8a8a"/><circle cx="224.5" cy="67.5" r="0.45" fill="#8a8a8a"/><circle cx="204.0" cy="51.4" r="0.45" fill="#8a8a8a"/><circle cx="225.2" cy="81.6" r="0.45" fill="#8a8a8a"/><circle cx="216.5" cy="77.3" r="0.45" fill="#8a8a8a"/><circle cx="212.5" cy="75.6" r="0.45" fill="#8a8a8a"/><circle cx="232.7" cy="78.9" r="0.45" fill="#8a8a8a"/><circle cx="215.5" cy="59.8" r="0.45" fill="#8a8a8a"/><circle cx="239.3" cy="74.4" r="0.45" fill="#8a8a8a"/><circle cx="244.1" cy="53.5" r="0.45" fill="#8a8a8a"/><circle cx="220.2" cy="76.9" r="0.45" fill="#8a8a8a"/><circle cx="221.3" cy="62.0" r="0.45" fill="#8a8a8a"/><circle cx="237.5" cy="48.4" r="0.45" fill="#8a8a8a"/><circle cx="188.1" cy="74.4" r="0.45" fill="#8a8a8a"/><circle cx="195.2" cy="81.0" r="0.45" fill="#8a8a8a"/><circle cx="242.3" cy="58.2" r="0.45" fill="#8a8a8a"/><circle cx="262.5" cy="79.2" r="0.45" fill="#8a8a8a"/><circle cx="212.1" cy="82.0" r="0.45" fill="#8a8a8a"/><circle cx="234.2" cy="66.8" r="0.45" fill="#8a8a8a"/><circle cx="198.2" cy="82.6" r="0.45" fill="#8a8a8a"/><circle cx="212.1" cy="60.6" r="0.45" fill="#8a8a8a"/><circle cx="225.9" cy="80.4" r="0.45" fill="#8a8a8a"/><circle cx="198.7" cy="65.8" r="0.45" fill="#8a8a8a"/><circle cx="211.4" cy="67.8" r="0.45" fill="#8a8a8a"/><circle cx="200.9" cy="65.5" r="0.45" fill="#8a8a8a"/><circle cx="248.4" cy="53.6" r="0.45" fill="#8a8a8a"/><circle cx="250.1" cy="46.3" r="0.45" fill="#8a8a8a"/><circle cx="248.7" cy="62.5" r="0.45" fill="#8a8a8a"/><circle cx="257.2" cy="69.4" r="0.45" fill="#8a8a8a"/><circle cx="261.3" cy="75.5" r="0.45" fill="#8a8a8a"/><circle cx="191.2" cy="78.8" r="0.45" fill="#8a8a8a"/><circle cx="225.1" cy="75.2" r="0.45" fill="#8a8a8a"/><circle cx="250.1" cy="73.7" r="0.45" fill="#8a8a8a"/><circle cx="239.4" cy="77.6" r="0.45" fill="#8a8a8a"/><circle cx="193.4" cy="68.4" r="0.45" fill="#8a8a8a"/><circle cx="221.4" cy="76.9" r="0.45" fill="#8a8a8a"/><circle cx="234.8" cy="72.9" r="0.45" fill="#8a8a8a"/><circle cx="247.3" cy="76.1" r="0.45" fill="#8a8a8a"/><circle cx="188.6" cy="68.5" r="0.45" fill="#8a8a8a"/><circle cx="192.3" cy="50.5" r="0.45" fill="#8a8a8a"/><circle cx="230.2" cy="67.8" r="0.45" fill="#8a8a8a"/><circle cx="261.5" cy="78.7" r="0.45" fill="#8a8a8a"/><circle cx="198.0" cy="74.3" r="0.45" fill="#8a8a8a"/><circle cx="198.3" cy="67.5" r="0.45" fill="#8a8a8a"/><circle cx="205.5" cy="67.0" r="0.45" fill="#8a8a8a"/><circle cx="249.0" cy="80.1" r="0.45" fill="#8a8a8a"/><circle cx="254.8" cy="83.5" r="0.45" fill="#8a8a8a"/><circle cx="250.2" cy="76.8" r="0.45" fill="#8a8a8a"/><circle cx="264.1" cy="73.1" r="0.45" fill="#8a8a8a"/><circle cx="256.4" cy="76.6" r="0.45" fill="#8a8a8a"/><circle cx="258.9" cy="80.3" r="0.45" fill="#8a8a8a"/><circle cx="244.1" cy="64.9" r="0.45" fill="#8a8a8a"/><circle cx="253.9" cy="77.2" r="0.45" fill="#8a8a8a"/><circle cx="251.0" cy="70.3" r="0.45" fill="#8a8a8a"/><circle cx="230.9" cy="71.9" r="0.45" fill="#8a8a8a"/><circle cx="191.5" cy="75.4" r="0.45" fill="#8a8a8a"/><circle cx="188.6" cy="76.1" r="0.45" fill="#8a8a8a"/><circle cx="199.7" cy="81.5" r="0.45" fill="#8a8a8a"/><circle cx="191.3" cy="63.6" r="0.45" fill="#8a8a8a"/><circle cx="200.8" cy="61.1" r="0.45" fill="#8a8a8a"/><circle cx="192.9" cy="58.6" r="0.45" fill="#8a8a8a"/><circle cx="199.3" cy="74.5" r="0.45" fill="#8a8a8a"/><circle cx="204.9" cy="56.3" r="0.45" fill="#8a8a8a"/><circle cx="191.1" cy="71.6" r="0.45" fill="#8a8a8a"/><circle cx="204.0" cy="61.9" r="0.45" fill="#8a8a8a"/><circle cx="201.8" cy="72.5" r="0.45" fill="#8a8a8a"/>
<circle cx="377.5" cy="37.5" r="0.45" fill="#8a8a8a"/><circle cx="373.0" cy="68.0" r="0.45" fill="#8a8a8a"/><circle cx="362.6" cy="71.6" r="0.45" fill="#8a8a8a"/><circle cx="389.7" cy="71.6" r="0.45" fill="#8a8a8a"/><circle cx="376.6" cy="76.9" r="0.45" fill="#8a8a8a"/><circle cx="383.0" cy="81.8" r="0.45" fill="#8a8a8a"/><circle cx="391.0" cy="81.8" r="0.45" fill="#8a8a8a"/><circle cx="338.0" cy="97.3" r="0.45" fill="#8a8a8a"/><circle cx="351.9" cy="97.3" r="0.45" fill="#8a8a8a"/><circle cx="357.7" cy="90.0" r="0.45" fill="#8a8a8a"/>
<line x1="47.3" y1="132.2" x2="47.3" y2="135.3" stroke="#222" stroke-width="0.8"/><line x1="84.1" y1="132.2" x2="84.1" y2="135.3" stroke="#222" stroke-width="0.8"/><line x1="114.3" y1="132.2" x2="114.3" y2="135.3" stroke="#222" stroke-width="0.8"/><line x1="143.2" y1="132.2" x2="143.2" y2="135.3" stroke="#222" stroke-width="0.8"/><line x1="93.2" y1="132.2" x2="93.2" y2="134.0" stroke="#222" stroke-width="0.6"/><line x1="98.5" y1="132.2" x2="98.5" y2="134.0" stroke="#222" stroke-width="0.6"/><line x1="102.3" y1="132.2" x2="102.3" y2="134.0" stroke="#222" stroke-width="0.6"/><line x1="105.2" y1="132.2" x2="105.2" y2="134.0" stroke="#222" stroke-width="0.6"/><line x1="107.6" y1="132.2" x2="107.6" y2="134.0" stroke="#222" stroke-width="0.6"/><line x1="109.6" y1="132.2" x2="109.6" y2="134.0" stroke="#222" stroke-width="0.6"/><line x1="111.4" y1="132.2" x2="111.4" y2="134.0" stroke="#222" stroke-width="0.6"/><line x1="112.9" y1="132.2" x2="112.9" y2="134.0" stroke="#222" stroke-width="0.6"/><line x1="123.0" y1="132.2" x2="123.0" y2="134.0" stroke="#222" stroke-width="0.6"/><line x1="128.1" y1="132.2" x2="128.1" y2="134.0" stroke="#222" stroke-width="0.6"/><line x1="131.7" y1="132.2" x2="131.7" y2="134.0" stroke="#222" stroke-width="0.6"/><line x1="134.5" y1="132.2" x2="134.5" y2="134.0" stroke="#222" stroke-width="0.6"/><line x1="136.8" y1="132.2" x2="136.8" y2="134.0" stroke="#222" stroke-width="0.6"/><line x1="138.7" y1="132.2" x2="138.7" y2="134.0" stroke="#222" stroke-width="0.6"/><line x1="140.4" y1="132.2" x2="140.4" y2="134.0" stroke="#222" stroke-width="0.6"/><line x1="141.9" y1="132.2" x2="141.9" y2="134.0" stroke="#222" stroke-width="0.6"/><line x1="151.9" y1="132.2" x2="151.9" y2="134.0" stroke="#222" stroke-width="0.6"/><line x1="41.8" y1="132.2" x2="41.8" y2="134.0" stroke="#222" stroke-width="0.6"/><line x1="67.6" y1="132.2" x2="67.6" y2="134.0" stroke="#222" stroke-width="0.6"/><line x1="69.5" y1="132.2" x2="69.5" y2="134.0" stroke="#222" stroke-width="0.6"/><line x1="71.3" y1="132.2" x2="71.3" y2="134.0" stroke="#222" stroke-width="0.6"/><line x1="73.1" y1="132.2" x2="73.1" y2="134.0" stroke="#222" stroke-width="0.6"/><line x1="74.9" y1="132.2" x2="74.9" y2="134.0" stroke="#222" stroke-width="0.6"/><line x1="76.8" y1="132.2" x2="76.8" y2="134.0" stroke="#222" stroke-width="0.6"/><line x1="78.6" y1="132.2" x2="78.6" y2="134.0" stroke="#222" stroke-width="0.6"/><line x1="80.4" y1="132.2" x2="80.4" y2="134.0" stroke="#222" stroke-width="0.6"/><line x1="82.3" y1="132.2" x2="82.3" y2="134.0" stroke="#222" stroke-width="0.6"/><line x1="63.9" y1="132.2" x2="63.9" y2="134.0" stroke="#222" stroke-width="0.6"/><line x1="62.1" y1="132.2" x2="62.1" y2="134.0" stroke="#222" stroke-width="0.6"/><line x1="60.2" y1="132.2" x2="60.2" y2="134.0" stroke="#222" stroke-width="0.6"/><line x1="58.4" y1="132.2" x2="58.4" y2="134.0" stroke="#222" stroke-width="0.6"/><line x1="56.5" y1="132.2" x2="56.5" y2="134.0" stroke="#222" stroke-width="0.6"/><line x1="54.7" y1="132.2" x2="54.7" y2="134.0" stroke="#222" stroke-width="0.6"/><line x1="52.8" y1="132.2" x2="52.8" y2="134.0" stroke="#222" stroke-width="0.6"/><line x1="51.0" y1="132.2" x2="51.0" y2="134.0" stroke="#222" stroke-width="0.6"/><line x1="49.1" y1="132.2" x2="49.1" y2="134.0" stroke="#222" stroke-width="0.6"/><rect x="63.10" y="132.15" width="0.75" height="1.8" fill="#0a0a0a"/><rect x="63.78" y="132.15" width="0.75" height="2.6" fill="#0a0a0a"/><rect x="64.46" y="132.15" width="0.75" height="3.0" fill="#0a0a0a"/><rect x="65.14" y="132.15" width="0.75" height="3.0" fill="#0a0a0a"/><rect x="65.82" y="132.15" width="0.75" height="2.6" fill="#0a0a0a"/><rect x="66.50" y="132.15" width="0.75" height="3.0" fill="#0a0a0a"/><rect x="67.18" y="132.15" width="0.75" height="2.4" fill="#0a0a0a"/><rect x="67.86" y="132.15" width="0.75" height="1.8" fill="#0a0a0a"/><line x1="37.1" y1="124.4" x2="40.4" y2="124.4" stroke="#222" stroke-width="0.8"/><line x1="37.1" y1="87.2" x2="40.4" y2="87.2" stroke="#222" stroke-width="0.8"/><line x1="37.1" y1="57.8" x2="40.4" y2="57.8" stroke="#222" stroke-width="0.8"/><line x1="37.1" y1="31.8" x2="40.4" y2="31.8" stroke="#222" stroke-width="0.8"/><line x1="38.6" y1="78.4" x2="40.4" y2="78.4" stroke="#222" stroke-width="0.6"/><line x1="38.6" y1="73.2" x2="40.4" y2="73.2" stroke="#222" stroke-width="0.6"/><line x1="38.6" y1="69.5" x2="40.4" y2="69.5" stroke="#222" stroke-width="0.6"/><line x1="38.6" y1="66.7" x2="40.4" y2="66.7" stroke="#222" stroke-width="0.6"/><line x1="38.6" y1="64.3" x2="40.4" y2="64.3" stroke="#222" stroke-width="0.6"/><line x1="38.6" y1="62.4" x2="40.4" y2="62.4" stroke="#222" stroke-width="0.6"/><line x1="38.6" y1="60.7" x2="40.4" y2="60.7" stroke="#222" stroke-width="0.6"/><line x1="38.6" y1="59.1" x2="40.4" y2="59.1" stroke="#222" stroke-width="0.6"/><line x1="38.6" y1="50.0" x2="40.4" y2="50.0" stroke="#222" stroke-width="0.6"/><line x1="38.6" y1="45.4" x2="40.4" y2="45.4" stroke="#222" stroke-width="0.6"/><line x1="38.6" y1="42.1" x2="40.4" y2="42.1" stroke="#222" stroke-width="0.6"/><line x1="38.6" y1="39.6" x2="40.4" y2="39.6" stroke="#222" stroke-width="0.6"/><line x1="38.6" y1="37.5" x2="40.4" y2="37.5" stroke="#222" stroke-width="0.6"/><line x1="38.6" y1="35.8" x2="40.4" y2="35.8" stroke="#222" stroke-width="0.6"/><line x1="38.6" y1="34.3" x2="40.4" y2="34.3" stroke="#222" stroke-width="0.6"/><line x1="38.6" y1="32.9" x2="40.4" y2="32.9" stroke="#222" stroke-width="0.6"/><line x1="38.6" y1="23.9" x2="40.4" y2="23.9" stroke="#222" stroke-width="0.6"/><line x1="38.6" y1="129.7" x2="40.4" y2="129.7" stroke="#222" stroke-width="0.6"/><line x1="38.6" y1="104.6" x2="40.4" y2="104.6" stroke="#222" stroke-width="0.6"/><line x1="38.6" y1="102.7" x2="40.4" y2="102.7" stroke="#222" stroke-width="0.6"/><line x1="38.6" y1="100.7" x2="40.4" y2="100.7" stroke="#222" stroke-width="0.6"/><line x1="38.6" y1="98.8" x2="40.4" y2="98.8" stroke="#222" stroke-width="0.6"/><line x1="38.6" y1="96.9" x2="40.4" y2="96.9" stroke="#222" stroke-width="0.6"/><line x1="38.6" y1="95.0" x2="40.4" y2="95.0" stroke="#222" stroke-width="0.6"/><line x1="38.6" y1="93.0" x2="40.4" y2="93.0" stroke="#222" stroke-width="0.6"/><line x1="38.6" y1="91.1" x2="40.4" y2="91.1" stroke="#222" stroke-width="0.6"/><line x1="38.6" y1="89.2" x2="40.4" y2="89.2" stroke="#222" stroke-width="0.6"/><line x1="38.6" y1="108.3" x2="40.4" y2="108.3" stroke="#222" stroke-width="0.6"/><line x1="38.6" y1="110.1" x2="40.4" y2="110.1" stroke="#222" stroke-width="0.6"/><line x1="38.6" y1="111.9" x2="40.4" y2="111.9" stroke="#222" stroke-width="0.6"/><line x1="38.6" y1="113.7" x2="40.4" y2="113.7" stroke="#222" stroke-width="0.6"/><line x1="38.6" y1="115.5" x2="40.4" y2="115.5" stroke="#222" stroke-width="0.6"/><line x1="38.6" y1="117.2" x2="40.4" y2="117.2" stroke="#222" stroke-width="0.6"/><line x1="38.6" y1="119.0" x2="40.4" y2="119.0" stroke="#222" stroke-width="0.6"/><line x1="38.6" y1="120.8" x2="40.4" y2="120.8" stroke="#222" stroke-width="0.6"/><line x1="38.6" y1="122.6" x2="40.4" y2="122.6" stroke="#222" stroke-width="0.6"/><rect x="38.60" y="103.80" width="1.8" height="0.75" fill="#0a0a0a"/><rect x="37.80" y="104.48" width="2.6" height="0.75" fill="#0a0a0a"/><rect x="37.40" y="105.16" width="3.0" height="0.75" fill="#0a0a0a"/><rect x="37.40" y="105.84" width="3.0" height="0.75" fill="#0a0a0a"/><rect x="37.80" y="106.52" width="2.6" height="0.75" fill="#0a0a0a"/><rect x="37.40" y="107.20" width="3.0" height="0.75" fill="#0a0a0a"/><rect x="38.00" y="107.88" width="2.4" height="0.75" fill="#0a0a0a"/><rect x="38.60" y="108.56" width="1.8" height="0.75" fill="#0a0a0a"/><text x="45.7" y="142.2" font-family="Liberation Sans, sans-serif" font-size="4.4" fill="#333" stroke="#333" stroke-width="0.15" text-anchor="start">-10<tspan dy="-1.9" font-size="5.0">3</tspan></text><text x="66.4" y="142.2" font-family="Liberation Sans, sans-serif" font-size="4.4" fill="#333" stroke="#333" stroke-width="0.15" text-anchor="start">0</text><text x="84.5" y="142.2" font-family="Liberation Sans, sans-serif" font-size="4.4" fill="#333" stroke="#333" stroke-width="0.15" text-anchor="start">10<tspan dy="-1.9" font-size="5.0">3</tspan></text><text x="114.5" y="142.2" font-family="Liberation Sans, sans-serif" font-size="4.4" fill="#333" stroke="#333" stroke-width="0.15" text-anchor="start">10<tspan dy="-1.9" font-size="5.0">4</tspan></text><text x="141.2" y="142.2" font-family="Liberation Sans, sans-serif" font-size="4.4" fill="#333" stroke="#333" stroke-width="0.15" text-anchor="start">10<tspan dy="-1.9" font-size="5.0">5</tspan></text><text x="34.8" y="34.5" font-family="Liberation Sans, sans-serif" font-size="4.4" fill="#333" stroke="#333" stroke-width="0.15" text-anchor="end">10<tspan dy="-1.9" font-size="5.0">5</tspan></text><text x="34.8" y="60.5" font-family="Liberation Sans, sans-serif" font-size="4.4" fill="#333" stroke="#333" stroke-width="0.15" text-anchor="end">10<tspan dy="-1.9" font-size="5.0">4</tspan></text><text x="34.8" y="90.0" font-family="Liberation Sans, sans-serif" font-size="4.4" fill="#333" stroke="#333" stroke-width="0.15" text-anchor="end">10<tspan dy="-1.9" font-size="5.0">3</tspan></text><text x="34.8" y="127.1" font-family="Liberation Sans, sans-serif" font-size="4.4" fill="#333" stroke="#333" stroke-width="0.15" text-anchor="end">-10<tspan dy="-1.9" font-size="5.0">3</tspan></text><text x="32.4" y="108.2" font-family="Liberation Sans, sans-serif" font-size="4.4" fill="#333" stroke="#333" stroke-width="0.15" text-anchor="end">0</text><rect x="40.40" y="20.40" width="112.00" height="111.75" fill="none" stroke="#333" stroke-width="0.85"/>
<line x1="81.00" y1="20.40" x2="81.00" y2="132.15" stroke="#5a5a5a" stroke-width="1.50"/><line x1="40.40" y1="84.35" x2="152.40" y2="84.35" stroke="#1c1c1c" stroke-width="1.15"/>
<line x1="174.3" y1="132.2" x2="174.3" y2="135.3" stroke="#222" stroke-width="0.8"/><line x1="211.1" y1="132.2" x2="211.1" y2="135.3" stroke="#222" stroke-width="0.8"/><line x1="241.3" y1="132.2" x2="241.3" y2="135.3" stroke="#222" stroke-width="0.8"/><line x1="270.2" y1="132.2" x2="270.2" y2="135.3" stroke="#222" stroke-width="0.8"/><line x1="220.2" y1="132.2" x2="220.2" y2="134.0" stroke="#222" stroke-width="0.6"/><line x1="225.5" y1="132.2" x2="225.5" y2="134.0" stroke="#222" stroke-width="0.6"/><line x1="229.3" y1="132.2" x2="229.3" y2="134.0" stroke="#222" stroke-width="0.6"/><line x1="232.2" y1="132.2" x2="232.2" y2="134.0" stroke="#222" stroke-width="0.6"/><line x1="234.6" y1="132.2" x2="234.6" y2="134.0" stroke="#222" stroke-width="0.6"/><line x1="236.6" y1="132.2" x2="236.6" y2="134.0" stroke="#222" stroke-width="0.6"/><line x1="238.4" y1="132.2" x2="238.4" y2="134.0" stroke="#222" stroke-width="0.6"/><line x1="239.9" y1="132.2" x2="239.9" y2="134.0" stroke="#222" stroke-width="0.6"/><line x1="250.0" y1="132.2" x2="250.0" y2="134.0" stroke="#222" stroke-width="0.6"/><line x1="255.1" y1="132.2" x2="255.1" y2="134.0" stroke="#222" stroke-width="0.6"/><line x1="258.7" y1="132.2" x2="258.7" y2="134.0" stroke="#222" stroke-width="0.6"/><line x1="261.5" y1="132.2" x2="261.5" y2="134.0" stroke="#222" stroke-width="0.6"/><line x1="263.8" y1="132.2" x2="263.8" y2="134.0" stroke="#222" stroke-width="0.6"/><line x1="265.7" y1="132.2" x2="265.7" y2="134.0" stroke="#222" stroke-width="0.6"/><line x1="267.4" y1="132.2" x2="267.4" y2="134.0" stroke="#222" stroke-width="0.6"/><line x1="268.9" y1="132.2" x2="268.9" y2="134.0" stroke="#222" stroke-width="0.6"/><line x1="278.9" y1="132.2" x2="278.9" y2="134.0" stroke="#222" stroke-width="0.6"/><line x1="168.8" y1="132.2" x2="168.8" y2="134.0" stroke="#222" stroke-width="0.6"/><line x1="194.6" y1="132.2" x2="194.6" y2="134.0" stroke="#222" stroke-width="0.6"/><line x1="196.5" y1="132.2" x2="196.5" y2="134.0" stroke="#222" stroke-width="0.6"/><line x1="198.3" y1="132.2" x2="198.3" y2="134.0" stroke="#222" stroke-width="0.6"/><line x1="200.1" y1="132.2" x2="200.1" y2="134.0" stroke="#222" stroke-width="0.6"/><line x1="201.9" y1="132.2" x2="201.9" y2="134.0" stroke="#222" stroke-width="0.6"/><line x1="203.8" y1="132.2" x2="203.8" y2="134.0" stroke="#222" stroke-width="0.6"/><line x1="205.6" y1="132.2" x2="205.6" y2="134.0" stroke="#222" stroke-width="0.6"/><line x1="207.4" y1="132.2" x2="207.4" y2="134.0" stroke="#222" stroke-width="0.6"/><line x1="209.3" y1="132.2" x2="209.3" y2="134.0" stroke="#222" stroke-width="0.6"/><line x1="191.0" y1="132.2" x2="191.0" y2="134.0" stroke="#222" stroke-width="0.6"/><line x1="189.1" y1="132.2" x2="189.1" y2="134.0" stroke="#222" stroke-width="0.6"/><line x1="187.2" y1="132.2" x2="187.2" y2="134.0" stroke="#222" stroke-width="0.6"/><line x1="185.4" y1="132.2" x2="185.4" y2="134.0" stroke="#222" stroke-width="0.6"/><line x1="183.6" y1="132.2" x2="183.6" y2="134.0" stroke="#222" stroke-width="0.6"/><line x1="181.7" y1="132.2" x2="181.7" y2="134.0" stroke="#222" stroke-width="0.6"/><line x1="179.9" y1="132.2" x2="179.9" y2="134.0" stroke="#222" stroke-width="0.6"/><line x1="178.0" y1="132.2" x2="178.0" y2="134.0" stroke="#222" stroke-width="0.6"/><line x1="176.2" y1="132.2" x2="176.2" y2="134.0" stroke="#222" stroke-width="0.6"/><rect x="190.10" y="132.15" width="0.75" height="1.8" fill="#0a0a0a"/><rect x="190.78" y="132.15" width="0.75" height="2.6" fill="#0a0a0a"/><rect x="191.46" y="132.15" width="0.75" height="3.0" fill="#0a0a0a"/><rect x="192.14" y="132.15" width="0.75" height="3.0" fill="#0a0a0a"/><rect x="192.82" y="132.15" width="0.75" height="2.6" fill="#0a0a0a"/><rect x="193.50" y="132.15" width="0.75" height="3.0" fill="#0a0a0a"/><rect x="194.18" y="132.15" width="0.75" height="2.4" fill="#0a0a0a"/><rect x="194.86" y="132.15" width="0.75" height="1.8" fill="#0a0a0a"/><line x1="164.1" y1="124.4" x2="167.4" y2="124.4" stroke="#222" stroke-width="0.8"/><line x1="164.1" y1="87.2" x2="167.4" y2="87.2" stroke="#222" stroke-width="0.8"/><line x1="164.1" y1="57.8" x2="167.4" y2="57.8" stroke="#222" stroke-width="0.8"/><line x1="164.1" y1="31.8" x2="167.4" y2="31.8" stroke="#222" stroke-width="0.8"/><line x1="165.6" y1="78.4" x2="167.4" y2="78.4" stroke="#222" stroke-width="0.6"/><line x1="165.6" y1="73.2" x2="167.4" y2="73.2" stroke="#222" stroke-width="0.6"/><line x1="165.6" y1="69.5" x2="167.4" y2="69.5" stroke="#222" stroke-width="0.6"/><line x1="165.6" y1="66.7" x2="167.4" y2="66.7" stroke="#222" stroke-width="0.6"/><line x1="165.6" y1="64.3" x2="167.4" y2="64.3" stroke="#222" stroke-width="0.6"/><line x1="165.6" y1="62.4" x2="167.4" y2="62.4" stroke="#222" stroke-width="0.6"/><line x1="165.6" y1="60.7" x2="167.4" y2="60.7" stroke="#222" stroke-width="0.6"/><line x1="165.6" y1="59.1" x2="167.4" y2="59.1" stroke="#222" stroke-width="0.6"/><line x1="165.6" y1="50.0" x2="167.4" y2="50.0" stroke="#222" stroke-width="0.6"/><line x1="165.6" y1="45.4" x2="167.4" y2="45.4" stroke="#222" stroke-width="0.6"/><line x1="165.6" y1="42.1" x2="167.4" y2="42.1" stroke="#222" stroke-width="0.6"/><line x1="165.6" y1="39.6" x2="167.4" y2="39.6" stroke="#222" stroke-width="0.6"/><line x1="165.6" y1="37.5" x2="167.4" y2="37.5" stroke="#222" stroke-width="0.6"/><line x1="165.6" y1="35.8" x2="167.4" y2="35.8" stroke="#222" stroke-width="0.6"/><line x1="165.6" y1="34.3" x2="167.4" y2="34.3" stroke="#222" stroke-width="0.6"/><line x1="165.6" y1="32.9" x2="167.4" y2="32.9" stroke="#222" stroke-width="0.6"/><line x1="165.6" y1="23.9" x2="167.4" y2="23.9" stroke="#222" stroke-width="0.6"/><line x1="165.6" y1="129.7" x2="167.4" y2="129.7" stroke="#222" stroke-width="0.6"/><line x1="165.6" y1="104.6" x2="167.4" y2="104.6" stroke="#222" stroke-width="0.6"/><line x1="165.6" y1="102.7" x2="167.4" y2="102.7" stroke="#222" stroke-width="0.6"/><line x1="165.6" y1="100.7" x2="167.4" y2="100.7" stroke="#222" stroke-width="0.6"/><line x1="165.6" y1="98.8" x2="167.4" y2="98.8" stroke="#222" stroke-width="0.6"/><line x1="165.6" y1="96.9" x2="167.4" y2="96.9" stroke="#222" stroke-width="0.6"/><line x1="165.6" y1="95.0" x2="167.4" y2="95.0" stroke="#222" stroke-width="0.6"/><line x1="165.6" y1="93.0" x2="167.4" y2="93.0" stroke="#222" stroke-width="0.6"/><line x1="165.6" y1="91.1" x2="167.4" y2="91.1" stroke="#222" stroke-width="0.6"/><line x1="165.6" y1="89.2" x2="167.4" y2="89.2" stroke="#222" stroke-width="0.6"/><line x1="165.6" y1="108.3" x2="167.4" y2="108.3" stroke="#222" stroke-width="0.6"/><line x1="165.6" y1="110.1" x2="167.4" y2="110.1" stroke="#222" stroke-width="0.6"/><line x1="165.6" y1="111.9" x2="167.4" y2="111.9" stroke="#222" stroke-width="0.6"/><line x1="165.6" y1="113.7" x2="167.4" y2="113.7" stroke="#222" stroke-width="0.6"/><line x1="165.6" y1="115.5" x2="167.4" y2="115.5" stroke="#222" stroke-width="0.6"/><line x1="165.6" y1="117.2" x2="167.4" y2="117.2" stroke="#222" stroke-width="0.6"/><line x1="165.6" y1="119.0" x2="167.4" y2="119.0" stroke="#222" stroke-width="0.6"/><line x1="165.6" y1="120.8" x2="167.4" y2="120.8" stroke="#222" stroke-width="0.6"/><line x1="165.6" y1="122.6" x2="167.4" y2="122.6" stroke="#222" stroke-width="0.6"/><rect x="165.60" y="103.80" width="1.8" height="0.75" fill="#0a0a0a"/><rect x="164.80" y="104.48" width="2.6" height="0.75" fill="#0a0a0a"/><rect x="164.40" y="105.16" width="3.0" height="0.75" fill="#0a0a0a"/><rect x="164.40" y="105.84" width="3.0" height="0.75" fill="#0a0a0a"/><rect x="164.80" y="106.52" width="2.6" height="0.75" fill="#0a0a0a"/><rect x="164.40" y="107.20" width="3.0" height="0.75" fill="#0a0a0a"/><rect x="165.00" y="107.88" width="2.4" height="0.75" fill="#0a0a0a"/><rect x="165.60" y="108.56" width="1.8" height="0.75" fill="#0a0a0a"/><text x="172.7" y="142.2" font-family="Liberation Sans, sans-serif" font-size="4.4" fill="#333" stroke="#333" stroke-width="0.15" text-anchor="start">-10<tspan dy="-1.9" font-size="5.0">3</tspan></text><text x="193.4" y="142.2" font-family="Liberation Sans, sans-serif" font-size="4.4" fill="#333" stroke="#333" stroke-width="0.15" text-anchor="start">0</text><text x="211.5" y="142.2" font-family="Liberation Sans, sans-serif" font-size="4.4" fill="#333" stroke="#333" stroke-width="0.15" text-anchor="start">10<tspan dy="-1.9" font-size="5.0">3</tspan></text><text x="241.5" y="142.2" font-family="Liberation Sans, sans-serif" font-size="4.4" fill="#333" stroke="#333" stroke-width="0.15" text-anchor="start">10<tspan dy="-1.9" font-size="5.0">4</tspan></text><text x="268.2" y="142.2" font-family="Liberation Sans, sans-serif" font-size="4.4" fill="#333" stroke="#333" stroke-width="0.15" text-anchor="start">10<tspan dy="-1.9" font-size="5.0">5</tspan></text><text x="161.8" y="34.5" font-family="Liberation Sans, sans-serif" font-size="4.4" fill="#333" stroke="#333" stroke-width="0.15" text-anchor="end">10<tspan dy="-1.9" font-size="5.0">5</tspan></text><text x="161.8" y="60.5" font-family="Liberation Sans, sans-serif" font-size="4.4" fill="#333" stroke="#333" stroke-width="0.15" text-anchor="end">10<tspan dy="-1.9" font-size="5.0">4</tspan></text><text x="161.8" y="90.0" font-family="Liberation Sans, sans-serif" font-size="4.4" fill="#333" stroke="#333" stroke-width="0.15" text-anchor="end">10<tspan dy="-1.9" font-size="5.0">3</tspan></text><text x="161.8" y="127.1" font-family="Liberation Sans, sans-serif" font-size="4.4" fill="#333" stroke="#333" stroke-width="0.15" text-anchor="end">-10<tspan dy="-1.9" font-size="5.0">3</tspan></text><text x="159.4" y="108.2" font-family="Liberation Sans, sans-serif" font-size="4.4" fill="#333" stroke="#333" stroke-width="0.15" text-anchor="end">0</text><rect x="167.40" y="20.40" width="112.10" height="111.75" fill="none" stroke="#333" stroke-width="0.85"/>
<line x1="207.50" y1="20.40" x2="207.50" y2="132.15" stroke="#1c1c1c" stroke-width="1.15"/><line x1="167.40" y1="84.35" x2="279.50" y2="84.35" stroke="#1c1c1c" stroke-width="1.15"/>
<line x1="301.0" y1="132.2" x2="301.0" y2="135.3" stroke="#222" stroke-width="0.8"/><line x1="337.8" y1="132.2" x2="337.8" y2="135.3" stroke="#222" stroke-width="0.8"/><line x1="368.0" y1="132.2" x2="368.0" y2="135.3" stroke="#222" stroke-width="0.8"/><line x1="396.9" y1="132.2" x2="396.9" y2="135.3" stroke="#222" stroke-width="0.8"/><line x1="346.9" y1="132.2" x2="346.9" y2="134.0" stroke="#222" stroke-width="0.6"/><line x1="352.2" y1="132.2" x2="352.2" y2="134.0" stroke="#222" stroke-width="0.6"/><line x1="356.0" y1="132.2" x2="356.0" y2="134.0" stroke="#222" stroke-width="0.6"/><line x1="358.9" y1="132.2" x2="358.9" y2="134.0" stroke="#222" stroke-width="0.6"/><line x1="361.3" y1="132.2" x2="361.3" y2="134.0" stroke="#222" stroke-width="0.6"/><line x1="363.3" y1="132.2" x2="363.3" y2="134.0" stroke="#222" stroke-width="0.6"/><line x1="365.1" y1="132.2" x2="365.1" y2="134.0" stroke="#222" stroke-width="0.6"/><line x1="366.6" y1="132.2" x2="366.6" y2="134.0" stroke="#222" stroke-width="0.6"/><line x1="376.7" y1="132.2" x2="376.7" y2="134.0" stroke="#222" stroke-width="0.6"/><line x1="381.8" y1="132.2" x2="381.8" y2="134.0" stroke="#222" stroke-width="0.6"/><line x1="385.4" y1="132.2" x2="385.4" y2="134.0" stroke="#222" stroke-width="0.6"/><line x1="388.2" y1="132.2" x2="388.2" y2="134.0" stroke="#222" stroke-width="0.6"/><line x1="390.5" y1="132.2" x2="390.5" y2="134.0" stroke="#222" stroke-width="0.6"/><line x1="392.4" y1="132.2" x2="392.4" y2="134.0" stroke="#222" stroke-width="0.6"/><line x1="394.1" y1="132.2" x2="394.1" y2="134.0" stroke="#222" stroke-width="0.6"/><line x1="395.6" y1="132.2" x2="395.6" y2="134.0" stroke="#222" stroke-width="0.6"/><line x1="405.6" y1="132.2" x2="405.6" y2="134.0" stroke="#222" stroke-width="0.6"/><line x1="295.5" y1="132.2" x2="295.5" y2="134.0" stroke="#222" stroke-width="0.6"/><line x1="321.3" y1="132.2" x2="321.3" y2="134.0" stroke="#222" stroke-width="0.6"/><line x1="323.2" y1="132.2" x2="323.2" y2="134.0" stroke="#222" stroke-width="0.6"/><line x1="325.0" y1="132.2" x2="325.0" y2="134.0" stroke="#222" stroke-width="0.6"/><line x1="326.8" y1="132.2" x2="326.8" y2="134.0" stroke="#222" stroke-width="0.6"/><line x1="328.6" y1="132.2" x2="328.6" y2="134.0" stroke="#222" stroke-width="0.6"/><line x1="330.5" y1="132.2" x2="330.5" y2="134.0" stroke="#222" stroke-width="0.6"/><line x1="332.3" y1="132.2" x2="332.3" y2="134.0" stroke="#222" stroke-width="0.6"/><line x1="334.1" y1="132.2" x2="334.1" y2="134.0" stroke="#222" stroke-width="0.6"/><line x1="336.0" y1="132.2" x2="336.0" y2="134.0" stroke="#222" stroke-width="0.6"/><line x1="317.6" y1="132.2" x2="317.6" y2="134.0" stroke="#222" stroke-width="0.6"/><line x1="315.8" y1="132.2" x2="315.8" y2="134.0" stroke="#222" stroke-width="0.6"/><line x1="313.9" y1="132.2" x2="313.9" y2="134.0" stroke="#222" stroke-width="0.6"/><line x1="312.1" y1="132.2" x2="312.1" y2="134.0" stroke="#222" stroke-width="0.6"/><line x1="310.2" y1="132.2" x2="310.2" y2="134.0" stroke="#222" stroke-width="0.6"/><line x1="308.4" y1="132.2" x2="308.4" y2="134.0" stroke="#222" stroke-width="0.6"/><line x1="306.6" y1="132.2" x2="306.6" y2="134.0" stroke="#222" stroke-width="0.6"/><line x1="304.7" y1="132.2" x2="304.7" y2="134.0" stroke="#222" stroke-width="0.6"/><line x1="302.9" y1="132.2" x2="302.9" y2="134.0" stroke="#222" stroke-width="0.6"/><rect x="316.80" y="132.15" width="0.75" height="1.8" fill="#0a0a0a"/><rect x="317.48" y="132.15" width="0.75" height="2.6" fill="#0a0a0a"/><rect x="318.16" y="132.15" width="0.75" height="3.0" fill="#0a0a0a"/><rect x="318.84" y="132.15" width="0.75" height="3.0" fill="#0a0a0a"/><rect x="319.52" y="132.15" width="0.75" height="2.6" fill="#0a0a0a"/><rect x="320.20" y="132.15" width="0.75" height="3.0" fill="#0a0a0a"/><rect x="320.88" y="132.15" width="0.75" height="2.4" fill="#0a0a0a"/><rect x="321.56" y="132.15" width="0.75" height="1.8" fill="#0a0a0a"/><line x1="290.8" y1="124.4" x2="294.1" y2="124.4" stroke="#222" stroke-width="0.8"/><line x1="290.8" y1="87.2" x2="294.1" y2="87.2" stroke="#222" stroke-width="0.8"/><line x1="290.8" y1="57.8" x2="294.1" y2="57.8" stroke="#222" stroke-width="0.8"/><line x1="290.8" y1="31.8" x2="294.1" y2="31.8" stroke="#222" stroke-width="0.8"/><line x1="292.3" y1="78.4" x2="294.1" y2="78.4" stroke="#222" stroke-width="0.6"/><line x1="292.3" y1="73.2" x2="294.1" y2="73.2" stroke="#222" stroke-width="0.6"/><line x1="292.3" y1="69.5" x2="294.1" y2="69.5" stroke="#222" stroke-width="0.6"/><line x1="292.3" y1="66.7" x2="294.1" y2="66.7" stroke="#222" stroke-width="0.6"/><line x1="292.3" y1="64.3" x2="294.1" y2="64.3" stroke="#222" stroke-width="0.6"/><line x1="292.3" y1="62.4" x2="294.1" y2="62.4" stroke="#222" stroke-width="0.6"/><line x1="292.3" y1="60.7" x2="294.1" y2="60.7" stroke="#222" stroke-width="0.6"/><line x1="292.3" y1="59.1" x2="294.1" y2="59.1" stroke="#222" stroke-width="0.6"/><line x1="292.3" y1="50.0" x2="294.1" y2="50.0" stroke="#222" stroke-width="0.6"/><line x1="292.3" y1="45.4" x2="294.1" y2="45.4" stroke="#222" stroke-width="0.6"/><line x1="292.3" y1="42.1" x2="294.1" y2="42.1" stroke="#222" stroke-width="0.6"/><line x1="292.3" y1="39.6" x2="294.1" y2="39.6" stroke="#222" stroke-width="0.6"/><line x1="292.3" y1="37.5" x2="294.1" y2="37.5" stroke="#222" stroke-width="0.6"/><line x1="292.3" y1="35.8" x2="294.1" y2="35.8" stroke="#222" stroke-width="0.6"/><line x1="292.3" y1="34.3" x2="294.1" y2="34.3" stroke="#222" stroke-width="0.6"/><line x1="292.3" y1="32.9" x2="294.1" y2="32.9" stroke="#222" stroke-width="0.6"/><line x1="292.3" y1="23.9" x2="294.1" y2="23.9" stroke="#222" stroke-width="0.6"/><line x1="292.3" y1="129.7" x2="294.1" y2="129.7" stroke="#222" stroke-width="0.6"/><line x1="292.3" y1="104.6" x2="294.1" y2="104.6" stroke="#222" stroke-width="0.6"/><line x1="292.3" y1="102.7" x2="294.1" y2="102.7" stroke="#222" stroke-width="0.6"/><line x1="292.3" y1="100.7" x2="294.1" y2="100.7" stroke="#222" stroke-width="0.6"/><line x1="292.3" y1="98.8" x2="294.1" y2="98.8" stroke="#222" stroke-width="0.6"/><line x1="292.3" y1="96.9" x2="294.1" y2="96.9" stroke="#222" stroke-width="0.6"/><line x1="292.3" y1="95.0" x2="294.1" y2="95.0" stroke="#222" stroke-width="0.6"/><line x1="292.3" y1="93.0" x2="294.1" y2="93.0" stroke="#222" stroke-width="0.6"/><line x1="292.3" y1="91.1" x2="294.1" y2="91.1" stroke="#222" stroke-width="0.6"/><line x1="292.3" y1="89.2" x2="294.1" y2="89.2" stroke="#222" stroke-width="0.6"/><line x1="292.3" y1="108.3" x2="294.1" y2="108.3" stroke="#222" stroke-width="0.6"/><line x1="292.3" y1="110.1" x2="294.1" y2="110.1" stroke="#222" stroke-width="0.6"/><line x1="292.3" y1="111.9" x2="294.1" y2="111.9" stroke="#222" stroke-width="0.6"/><line x1="292.3" y1="113.7" x2="294.1" y2="113.7" stroke="#222" stroke-width="0.6"/><line x1="292.3" y1="115.5" x2="294.1" y2="115.5" stroke="#222" stroke-width="0.6"/><line x1="292.3" y1="117.2" x2="294.1" y2="117.2" stroke="#222" stroke-width="0.6"/><line x1="292.3" y1="119.0" x2="294.1" y2="119.0" stroke="#222" stroke-width="0.6"/><line x1="292.3" y1="120.8" x2="294.1" y2="120.8" stroke="#222" stroke-width="0.6"/><line x1="292.3" y1="122.6" x2="294.1" y2="122.6" stroke="#222" stroke-width="0.6"/><rect x="292.30" y="103.80" width="1.8" height="0.75" fill="#0a0a0a"/><rect x="291.50" y="104.48" width="2.6" height="0.75" fill="#0a0a0a"/><rect x="291.10" y="105.16" width="3.0" height="0.75" fill="#0a0a0a"/><rect x="291.10" y="105.84" width="3.0" height="0.75" fill="#0a0a0a"/><rect x="291.50" y="106.52" width="2.6" height="0.75" fill="#0a0a0a"/><rect x="291.10" y="107.20" width="3.0" height="0.75" fill="#0a0a0a"/><rect x="291.70" y="107.88" width="2.4" height="0.75" fill="#0a0a0a"/><rect x="292.30" y="108.56" width="1.8" height="0.75" fill="#0a0a0a"/><text x="299.4" y="142.2" font-family="Liberation Sans, sans-serif" font-size="4.4" fill="#333" stroke="#333" stroke-width="0.15" text-anchor="start">-10<tspan dy="-1.9" font-size="5.0">3</tspan></text><text x="320.1" y="142.2" font-family="Liberation Sans, sans-serif" font-size="4.4" fill="#333" stroke="#333" stroke-width="0.15" text-anchor="start">0</text><text x="338.2" y="142.2" font-family="Liberation Sans, sans-serif" font-size="4.4" fill="#333" stroke="#333" stroke-width="0.15" text-anchor="start">10<tspan dy="-1.9" font-size="5.0">3</tspan></text><text x="368.2" y="142.2" font-family="Liberation Sans, sans-serif" font-size="4.4" fill="#333" stroke="#333" stroke-width="0.15" text-anchor="start">10<tspan dy="-1.9" font-size="5.0">4</tspan></text><text x="394.9" y="142.2" font-family="Liberation Sans, sans-serif" font-size="4.4" fill="#333" stroke="#333" stroke-width="0.15" text-anchor="start">10<tspan dy="-1.9" font-size="5.0">5</tspan></text><text x="288.5" y="34.5" font-family="Liberation Sans, sans-serif" font-size="4.4" fill="#333" stroke="#333" stroke-width="0.15" text-anchor="end">10<tspan dy="-1.9" font-size="5.0">5</tspan></text><text x="288.5" y="60.5" font-family="Liberation Sans, sans-serif" font-size="4.4" fill="#333" stroke="#333" stroke-width="0.15" text-anchor="end">10<tspan dy="-1.9" font-size="5.0">4</tspan></text><text x="288.5" y="90.0" font-family="Liberation Sans, sans-serif" font-size="4.4" fill="#333" stroke="#333" stroke-width="0.15" text-anchor="end">10<tspan dy="-1.9" font-size="5.0">3</tspan></text><text x="288.5" y="127.1" font-family="Liberation Sans, sans-serif" font-size="4.4" fill="#333" stroke="#333" stroke-width="0.15" text-anchor="end">-10<tspan dy="-1.9" font-size="5.0">3</tspan></text><text x="286.1" y="108.2" font-family="Liberation Sans, sans-serif" font-size="4.4" fill="#333" stroke="#333" stroke-width="0.15" text-anchor="end">0</text><rect x="294.10" y="20.40" width="112.00" height="111.75" fill="none" stroke="#333" stroke-width="0.85"/>
<line x1="334.80" y1="20.40" x2="334.80" y2="132.15" stroke="#1c1c1c" stroke-width="1.15"/><line x1="294.10" y1="84.35" x2="406.10" y2="84.35" stroke="#1c1c1c" stroke-width="1.15"/>
<text x="42.3" y="34.0" font-family="Liberation Sans, sans-serif" font-size="14.30" text-anchor="start" font-weight="normal" fill="#111" >28.1</text>
<text x="123.6" y="125.0" font-family="Liberation Sans, sans-serif" font-size="14.30" text-anchor="start" font-weight="normal" fill="#111" >2.7</text>
<text x="169.8" y="34.0" font-family="Liberation Sans, sans-serif" font-size="14.30" text-anchor="start" font-weight="normal" fill="#111" >4.4</text>
<text x="246.6" y="127.5" font-family="Liberation Sans, sans-serif" font-size="14.30" text-anchor="start" font-weight="normal" fill="#111" >52.8</text>
<text x="301.5" y="34.4" font-family="Liberation Sans, sans-serif" font-size="14.30" text-anchor="start" font-weight="normal" fill="#111" >0</text>
<text x="368.6" y="128.6" font-family="Liberation Sans, sans-serif" font-size="14.30" text-anchor="start" font-weight="normal" fill="#111" >96.6</text>
<path d="M65.2,302.0 65.7,302.0 66.1,302.2 66.5,302.8 66.6,303.2 66.5,303.8 66.2,304.2 65.8,304.6 65.0,304.5 64.7,304.2 64.5,303.7 64.5,303.0 64.7,302.5 65.0,302.1Z" fill="none" stroke="rgb(85,85,85)" stroke-width="0.55"/>
<path d="M65.1,301.0 65.8,301.0 66.2,301.2 66.7,301.5 67.0,301.8 67.2,302.2 67.4,303.0 67.4,303.8 67.2,304.4 67.0,304.8 66.6,305.2 66.2,305.5 65.5,305.7 64.8,305.5 64.5,305.2 64.1,304.8 63.9,304.2 63.8,303.5 63.8,302.8 64.0,302.1 64.2,301.6 64.6,301.2 65.1,301.0Z" fill="none" stroke="rgb(87,87,87)" stroke-width="0.54"/>
<path d="M65.0,300.2 65.8,300.2 66.2,300.3 66.8,300.6 67.2,301.0 67.5,301.3 67.8,301.8 68.0,302.4 68.1,303.0 68.1,303.8 68.0,304.2 67.8,304.8 67.5,305.3 67.0,305.8 66.7,306.0 66.2,306.2 65.5,306.4 64.8,306.2 64.4,306.0 64.0,305.7 63.7,305.2 63.5,304.8 63.3,304.0 63.2,303.5 63.3,303.0 63.4,302.2 63.5,301.8 63.8,301.2 64.2,300.8 64.5,300.5 65.0,300.2Z" fill="none" stroke="rgb(88,88,88)" stroke-width="0.54"/>
<path d="M65.1,299.5 65.8,299.5 66.2,299.6 66.8,299.8 67.2,300.0 67.8,300.5 68.0,300.8 68.3,301.2 68.5,301.8 68.7,302.5 68.8,303.0 68.8,303.6 68.6,304.2 68.5,304.8 68.2,305.3 67.9,305.8 67.5,306.2 67.1,306.5 66.7,306.7 66.0,307.0 65.5,307.1 64.9,307.0 64.4,306.8 64.0,306.5 63.6,306.0 63.3,305.5 63.0,305.0 62.9,304.5 62.8,303.8 62.8,303.0 62.9,302.2 63.0,301.7 63.2,301.1 63.5,300.7 63.8,300.2 64.2,299.9 64.8,299.6Z" fill="none" stroke="rgb(89,89,89)" stroke-width="0.53"/>
<path d="M65.2,298.8 65.8,298.8 66.5,298.9 67.0,299.1 67.5,299.3 68.0,299.7 68.3,300.0 68.6,300.5 68.9,301.0 69.1,301.5 69.3,302.0 69.4,302.8 69.4,303.5 69.3,304.2 69.1,304.8 68.9,305.2 68.7,305.8 68.3,306.2 68.0,306.6 67.5,307.0 67.1,307.2 66.5,307.5 66.0,307.6 65.2,307.7 64.5,307.5 64.1,307.2 63.7,307.0 63.3,306.5 63.0,306.1 62.8,305.6 62.5,305.0 62.4,304.5 62.3,303.8 62.3,303.0 62.4,302.2 62.5,301.7 62.7,301.0 63.0,300.5 63.3,300.1 63.5,299.7 64.0,299.3 64.4,299.0 65.0,298.8Z" fill="none" stroke="rgb(91,91,91)" stroke-width="0.53"/>
<path d="M64.9,298.0 65.5,297.9 66.2,297.9 66.8,298.1 67.3,298.2 67.8,298.5 68.2,298.8 68.7,299.2 69.0,299.5 69.3,300.0 69.6,300.5 69.8,301.0 70.0,301.6 70.1,302.2 70.2,303.0 70.1,303.8 70.0,304.3 69.8,305.0 69.6,305.5 69.3,306.0 69.0,306.4 68.8,306.8 68.2,307.2 67.9,307.5 67.5,307.8 67.0,308.0 66.2,308.2 65.8,308.3 65.0,308.3 64.5,308.2 64.0,307.9 63.5,307.6 63.2,307.2 62.8,306.8 62.5,306.2 62.3,305.8 62.1,305.2 62.0,304.8 61.8,304.0 61.8,303.2 61.8,302.5 61.9,301.8 62.1,301.2 62.2,300.7 62.5,300.1 62.8,299.7 63.1,299.2 63.5,298.8 63.9,298.5 64.3,298.2 64.9,298.0Z" fill="none" stroke="rgb(92,92,92)" stroke-width="0.52"/>
<path d="M65.1,297.0 65.8,296.9 66.5,297.0 67.0,297.0 67.7,297.2 68.2,297.5 68.7,297.8 69.0,298.0 69.5,298.4 69.8,298.8 70.2,299.2 70.4,299.8 70.7,300.2 70.8,300.8 71.0,301.5 71.1,302.0 71.1,302.8 71.0,303.5 70.9,304.0 70.8,304.6 70.5,305.2 70.3,305.8 70.0,306.2 69.8,306.6 69.5,307.0 69.0,307.5 68.7,307.8 68.2,308.1 67.8,308.4 67.2,308.6 66.8,308.8 66.0,309.0 65.2,309.0 64.5,308.8 64.0,308.6 63.5,308.3 63.1,308.0 62.8,307.6 62.5,307.2 62.2,306.8 61.9,306.2 61.7,305.8 61.5,305.0 61.4,304.5 61.3,303.8 61.3,303.0 61.3,302.2 61.4,301.5 61.5,301.0 61.8,300.3 62.0,299.8 62.2,299.3 62.5,298.9 62.8,298.5 63.2,298.0 63.5,297.8 64.0,297.4 64.5,297.2 65.1,297.0Z" fill="none" stroke="rgb(93,93,93)" stroke-width="0.51"/>
<path d="M65.8,295.8 66.5,295.7 67.1,295.8 67.8,295.9 68.3,296.0 69.0,296.2 69.5,296.5 69.9,296.8 70.2,297.0 70.7,297.5 71.0,297.8 71.3,298.2 71.6,298.8 71.8,299.2 72.0,299.8 72.2,300.5 72.3,301.0 72.3,301.8 72.2,302.5 72.2,303.0 72.0,303.8 71.9,304.2 71.7,304.8 71.5,305.2 71.2,305.8 70.9,306.2 70.6,306.8 70.2,307.2 70.0,307.5 69.5,308.0 69.2,308.2 68.8,308.6 68.2,308.9 67.8,309.1 67.2,309.3 66.5,309.5 66.0,309.6 65.2,309.6 64.7,309.5 64.0,309.3 63.5,309.0 63.2,308.8 62.8,308.4 62.4,308.0 62.0,307.5 61.8,307.1 61.5,306.6 61.3,306.0 61.1,305.5 61.0,305.0 60.8,304.2 60.8,303.6 60.7,303.0 60.7,302.2 60.8,301.8 60.9,301.0 61.1,300.5 61.2,299.9 61.5,299.3 61.8,298.8 62.0,298.4 62.2,298.0 62.6,297.5 63.0,297.1 63.4,296.8 63.8,296.5 64.2,296.2 64.8,296.0 65.5,295.8Z" fill="none" stroke="rgb(95,95,95)" stroke-width="0.51"/>
<path d="M65.9,294.2 66.5,294.2 67.2,294.1 68.0,294.1 68.8,294.2 69.2,294.3 69.9,294.5 70.5,294.7 70.9,295.0 71.3,295.2 71.8,295.6 72.1,296.0 72.5,296.5 72.8,297.0 73.0,297.5 73.2,298.0 73.4,298.5 73.5,299.0 73.7,299.8 73.7,300.5 73.8,301.0 73.7,301.5 73.7,302.2 73.5,303.0 73.4,303.5 73.2,304.0 73.0,304.6 72.8,305.1 72.5,305.6 72.2,306.0 71.9,306.5 71.5,307.0 71.2,307.3 70.8,307.8 70.5,308.1 70.0,308.5 69.7,308.8 69.2,309.0 68.8,309.3 68.2,309.6 67.8,309.8 67.1,310.0 66.5,310.1 65.8,310.2 65.0,310.2 64.3,310.0 63.8,309.8 63.3,309.5 62.9,309.2 62.5,308.9 62.1,308.5 61.8,308.0 61.5,307.7 61.2,307.2 61.0,306.8 60.8,306.2 60.5,305.5 60.4,305.0 60.2,304.3 60.2,303.8 60.1,303.0 60.1,302.2 60.2,301.5 60.3,301.0 60.4,300.2 60.6,299.8 60.8,299.2 61.0,298.7 61.2,298.1 61.5,297.7 61.8,297.2 62.2,296.8 62.5,296.3 62.8,296.0 63.2,295.6 63.7,295.2 64.1,295.0 64.5,294.8 65.1,294.5 65.8,294.3Z" fill="none" stroke="rgb(96,96,96)" stroke-width="0.50"/>
<path d="M70.7,291.2 71.2,291.2 71.8,291.3 72.2,291.5 72.7,292.0 73.0,292.4 73.2,292.9 73.5,293.4 73.8,294.0 74.0,294.5 74.1,295.0 74.3,295.5 74.5,296.1 74.7,296.8 74.8,297.2 74.9,298.0 75.0,298.5 75.1,299.2 75.1,300.0 75.1,300.8 75.1,301.5 75.0,302.0 74.8,302.8 74.7,303.2 74.5,303.9 74.3,304.5 74.0,305.0 73.8,305.5 73.5,306.0 73.2,306.3 72.9,306.8 72.5,307.2 72.2,307.6 71.8,308.0 71.5,308.3 71.0,308.7 70.6,309.0 70.2,309.3 69.8,309.6 69.2,309.8 68.8,310.1 68.2,310.3 67.6,310.5 67.0,310.7 66.3,310.8 65.8,310.8 65.0,310.8 64.5,310.7 64.0,310.5 63.4,310.2 63.0,310.0 62.5,309.6 62.1,309.2 61.8,308.9 61.4,308.5 61.1,308.0 60.8,307.5 60.5,307.0 60.3,306.5 60.1,306.0 59.9,305.5 59.8,304.9 59.6,304.2 59.5,303.5 59.5,303.0 59.5,302.2 59.5,301.8 59.6,301.0 59.7,300.2 59.8,299.8 60.0,299.2 60.2,298.5 60.5,298.0 60.7,297.5 61.0,297.0 61.2,296.6 61.5,296.2 61.8,295.8 62.2,295.2 62.5,294.9 62.9,294.5 63.2,294.1 63.7,293.8 64.0,293.5 64.5,293.1 65.0,292.8 65.5,292.5 66.0,292.3 66.5,292.2 67.1,292.0 67.8,291.8 68.2,291.7 69.0,291.6 69.5,291.5 70.2,291.3Z" fill="none" stroke="rgb(97,97,97)" stroke-width="0.50"/>
<path d="M71.0,283.8 71.8,283.7 72.2,283.8 72.8,284.1 73.2,284.5 73.5,284.8 73.9,285.2 74.2,285.7 74.5,286.2 74.8,286.8 74.9,287.2 75.1,287.8 75.2,288.5 75.3,289.0 75.3,289.8 75.3,290.5 75.3,291.2 75.3,292.0 75.3,292.8 75.3,293.5 75.4,294.2 75.5,295.0 75.5,295.5 75.6,296.2 75.7,297.0 75.8,297.5 75.8,298.2 75.9,299.0 75.9,299.8 75.8,300.5 75.8,301.2 75.7,301.8 75.6,302.5 75.4,303.0 75.2,303.6 75.0,304.2 74.8,304.8 74.6,305.2 74.3,305.8 74.0,306.2 73.8,306.6 73.4,307.0 73.0,307.5 72.8,307.8 72.3,308.2 72.0,308.5 71.5,308.9 71.0,309.2 70.6,309.5 70.2,309.8 69.8,310.0 69.2,310.3 68.7,310.5 68.0,310.8 67.5,310.9 66.9,311.0 66.2,311.1 65.5,311.1 64.8,311.0 64.2,310.9 63.8,310.7 63.2,310.5 62.8,310.2 62.2,309.8 61.9,309.5 61.5,309.1 61.2,308.8 60.8,308.2 60.5,307.8 60.3,307.2 60.0,306.8 59.8,306.2 59.6,305.8 59.5,305.2 59.3,304.5 59.2,304.0 59.1,303.2 59.1,302.5 59.1,301.8 59.2,301.0 59.3,300.5 59.4,299.8 59.6,299.2 59.8,298.7 60.0,298.0 60.2,297.5 60.5,297.0 60.8,296.5 61.0,296.1 61.2,295.7 61.6,295.2 61.9,294.8 62.2,294.3 62.5,294.0 63.0,293.5 63.2,293.2 63.7,292.8 64.0,292.5 64.5,292.0 64.8,291.8 65.2,291.3 65.7,291.0 66.0,290.8 66.5,290.4 67.0,290.0 67.3,289.8 67.8,289.3 68.0,289.0 68.3,288.5 68.5,287.9 68.7,287.2 68.8,286.8 69.0,286.2 69.2,285.6 69.5,285.1 69.8,284.7 70.1,284.2 70.5,284.0 71.0,283.8Z" fill="none" stroke="rgb(99,99,99)" stroke-width="0.49"/>
<path d="M69.2,279.2 69.8,279.1 70.5,279.1 71.1,279.2 71.6,279.5 72.0,279.8 72.5,280.1 73.0,280.5 73.2,280.8 73.7,281.2 74.0,281.5 74.4,282.0 74.8,282.5 75.0,282.9 75.3,283.2 75.5,283.8 75.8,284.2 76.0,284.8 76.2,285.3 76.5,286.0 76.7,286.5 76.8,287.0 76.9,287.8 77.0,288.2 77.1,289.0 77.1,289.8 77.1,290.5 77.1,291.2 77.0,292.0 77.0,292.5 76.9,293.2 76.8,294.0 76.8,294.8 76.8,295.3 76.7,296.0 76.7,296.8 76.7,297.5 76.7,298.2 76.7,299.0 76.6,299.8 76.5,300.5 76.5,301.0 76.4,301.8 76.2,302.3 76.1,303.0 75.9,303.5 75.8,304.0 75.5,304.6 75.2,305.2 75.0,305.7 74.8,306.1 74.5,306.5 74.1,307.0 73.8,307.5 73.5,307.7 73.0,308.2 72.7,308.5 72.2,308.9 71.8,309.2 71.5,309.5 71.0,309.8 70.5,310.1 70.0,310.4 69.5,310.6 69.0,310.8 68.5,311.0 67.8,311.2 67.2,311.3 66.5,311.4 65.8,311.5 65.0,311.4 64.2,311.3 63.8,311.1 63.2,310.9 62.8,310.6 62.3,310.2 62.0,310.0 61.5,309.6 61.2,309.2 60.8,308.8 60.5,308.3 60.3,307.9 60.0,307.5 59.7,307.0 59.5,306.4 59.3,305.8 59.1,305.2 59.0,304.8 58.9,304.0 58.8,303.2 58.7,302.8 58.7,302.0 58.8,301.5 58.8,300.8 59.0,300.0 59.1,299.5 59.2,298.9 59.5,298.2 59.7,297.8 59.9,297.2 60.1,296.8 60.4,296.2 60.7,295.8 61.0,295.2 61.2,294.8 61.5,294.4 61.8,294.0 62.2,293.5 62.5,293.1 62.8,292.7 63.1,292.2 63.5,291.8 63.8,291.3 64.0,291.0 64.3,290.5 64.6,290.0 64.8,289.5 65.0,288.9 65.2,288.2 65.3,287.8 65.4,287.0 65.5,286.5 65.7,285.8 65.8,285.2 66.0,284.6 66.2,284.0 66.4,283.5 66.6,283.0 66.8,282.5 67.0,282.0 67.2,281.5 67.5,281.0 67.9,280.5 68.2,280.0 68.5,279.8 69.0,279.4Z" fill="none" stroke="rgb(100,100,100)" stroke-width="0.49"/>
<path d="M67.0,245.8 67.5,245.7 68.2,245.8 68.8,246.0 69.1,246.2 69.5,246.7 69.8,247.1 70.0,247.8 70.1,248.2 70.0,249.0 69.8,249.5 69.5,250.0 69.2,250.3 68.8,250.7 68.2,250.9 67.5,250.9 67.0,250.7 66.5,250.3 66.2,250.0 65.9,249.5 65.7,249.0 65.5,248.2 65.6,247.5 65.8,246.9 66.0,246.5 66.5,246.0 67.0,245.8ZM69.0,272.8 69.5,272.7 70.0,273.0 70.3,273.2 70.7,273.8 71.0,274.2 71.2,274.5 71.5,275.0 71.9,275.5 72.2,276.0 72.5,276.5 72.8,276.9 73.0,277.2 73.3,277.8 73.7,278.2 74.0,278.7 74.2,279.1 74.6,279.5 74.9,280.0 75.2,280.5 75.5,280.9 75.8,281.3 76.0,281.8 76.3,282.2 76.5,282.8 76.8,283.2 77.0,283.8 77.2,284.3 77.5,285.0 77.7,285.5 77.8,286.0 78.0,286.8 78.1,287.2 78.2,288.0 78.3,288.5 78.3,289.2 78.4,290.0 78.4,290.8 78.3,291.5 78.2,292.2 78.2,292.8 78.1,293.5 78.0,294.1 77.9,294.8 77.8,295.5 77.7,296.0 77.6,296.8 77.6,297.5 77.5,298.1 77.4,298.8 77.3,299.5 77.2,300.2 77.2,300.8 77.0,301.5 76.9,302.0 76.8,302.7 76.6,303.2 76.4,303.8 76.2,304.2 76.0,304.8 75.8,305.3 75.5,305.8 75.2,306.2 74.9,306.8 74.5,307.2 74.2,307.6 73.9,308.0 73.5,308.4 73.1,308.8 72.8,309.1 72.2,309.5 71.9,309.8 71.5,310.0 71.0,310.3 70.5,310.6 70.0,310.8 69.5,311.0 68.9,311.2 68.2,311.4 67.8,311.6 67.0,311.7 66.5,311.8 65.8,311.8 65.1,311.8 64.5,311.7 64.0,311.5 63.3,311.2 62.8,311.0 62.4,310.8 62.0,310.4 61.5,310.0 61.2,309.8 60.8,309.2 60.5,308.9 60.2,308.5 59.9,308.0 59.6,307.5 59.4,307.0 59.2,306.5 59.0,306.0 58.8,305.2 58.6,304.8 58.5,304.0 58.4,303.5 58.4,302.8 58.4,302.0 58.4,301.2 58.5,300.7 58.6,300.0 58.8,299.4 58.9,298.8 59.1,298.2 59.3,297.8 59.5,297.2 59.8,296.6 60.0,296.1 60.2,295.6 60.5,295.2 60.8,294.8 61.1,294.2 61.4,293.8 61.7,293.2 62.0,292.8 62.2,292.3 62.5,291.9 62.8,291.4 63.0,290.9 63.2,290.3 63.5,289.8 63.6,289.2 63.7,288.5 63.8,288.0 63.9,287.2 64.0,286.8 64.1,286.0 64.2,285.3 64.3,284.8 64.5,284.0 64.6,283.5 64.8,282.9 64.9,282.2 65.0,281.8 65.2,281.0 65.4,280.5 65.5,280.0 65.8,279.3 66.0,278.8 66.1,278.2 66.3,277.8 66.5,277.2 66.8,276.6 67.0,276.0 67.2,275.5 67.4,275.0 67.6,274.5 67.8,274.0 68.1,273.5 68.5,273.1 69.0,272.8Z" fill="none" stroke="rgb(101,101,101)" stroke-width="0.48"/>
<path d="M67.2,243.8 67.8,243.7 68.2,243.8 68.9,244.0 69.3,244.2 69.8,244.5 70.2,245.0 70.5,245.2 70.9,245.8 71.2,246.2 71.5,246.8 71.7,247.2 71.9,247.8 72.0,248.2 72.2,249.0 72.2,249.8 71.9,250.2 71.5,250.8 71.2,251.0 70.8,251.5 70.4,251.8 70.0,252.0 69.5,252.3 69.0,252.6 68.2,252.7 67.8,252.8 67.2,252.6 66.8,252.4 66.2,252.1 65.8,251.8 65.5,251.4 65.2,251.0 64.9,250.5 64.7,250.0 64.5,249.3 64.4,248.8 64.3,248.0 64.3,247.2 64.4,246.5 64.5,246.0 64.8,245.5 65.0,245.0 65.4,244.5 65.8,244.2 66.2,244.0 67.0,243.8ZM75.5,249.8 76.0,249.7 76.6,249.8 77.2,250.0 77.7,250.2 78.0,250.5 78.3,251.0 78.6,251.5 78.7,252.2 78.8,252.8 78.8,253.5 78.8,254.0 78.5,254.8 78.3,255.2 78.0,255.5 77.5,255.8 76.8,255.9 76.2,255.6 75.8,255.2 75.5,254.8 75.2,254.4 75.0,254.0 74.8,253.4 74.5,252.8 74.3,252.2 74.2,251.8 74.1,251.0 74.3,250.5 74.8,250.0 75.2,249.8ZM68.2,266.2 68.8,266.0 69.5,266.1 70.0,266.3 70.5,266.8 70.8,267.1 71.0,267.6 71.2,268.2 71.4,268.8 71.6,269.2 71.8,269.9 71.9,270.5 72.0,271.1 72.1,271.8 72.3,272.2 72.4,273.0 72.6,273.5 72.8,274.1 73.0,274.8 73.2,275.2 73.4,275.8 73.6,276.2 73.9,276.8 74.1,277.2 74.4,277.8 74.7,278.2 75.0,278.8 75.2,279.2 75.5,279.6 75.8,280.0 76.0,280.5 76.3,281.0 76.6,281.5 76.8,282.0 77.1,282.5 77.3,283.0 77.5,283.5 77.8,284.0 78.0,284.7 78.2,285.2 78.3,285.8 78.5,286.5 78.6,287.0 78.7,287.8 78.8,288.2 78.9,289.0 78.9,289.8 78.9,290.5 78.9,291.2 78.8,292.0 78.8,292.8 78.7,293.2 78.6,294.0 78.5,294.6 78.4,295.2 78.3,296.0 78.2,296.5 78.1,297.2 78.0,297.8 77.9,298.5 77.8,299.2 77.7,299.8 77.6,300.5 77.5,301.0 77.3,301.8 77.2,302.2 77.0,302.9 76.8,303.5 76.6,304.0 76.4,304.5 76.2,305.0 76.0,305.5 75.7,306.0 75.4,306.5 75.0,307.0 74.8,307.4 74.5,307.8 74.0,308.2 73.8,308.5 73.2,309.0 72.9,309.2 72.5,309.6 72.0,309.9 71.5,310.2 71.1,310.5 70.6,310.8 70.1,311.0 69.5,311.2 69.0,311.4 68.5,311.6 67.8,311.8 67.2,311.8 66.5,311.9 65.8,312.0 65.0,311.9 64.2,311.8 63.8,311.6 63.2,311.4 62.8,311.1 62.2,310.8 61.8,310.5 61.5,310.2 61.0,309.8 60.8,309.5 60.4,309.0 60.0,308.5 59.8,308.1 59.5,307.6 59.2,307.1 59.0,306.6 58.8,306.0 58.6,305.5 58.5,305.0 58.4,304.2 58.3,303.5 58.2,303.0 58.2,302.2 58.2,301.5 58.3,301.0 58.4,300.2 58.5,299.6 58.7,299.0 58.8,298.5 59.0,297.9 59.2,297.3 59.5,296.8 59.7,296.2 60.0,295.8 60.2,295.2 60.5,294.8 60.8,294.3 61.0,293.9 61.2,293.5 61.5,293.0 61.8,292.5 62.1,292.0 62.3,291.5 62.5,291.0 62.8,290.4 62.9,289.8 63.1,289.2 63.2,288.5 63.3,288.0 63.4,287.2 63.5,286.5 63.5,286.0 63.6,285.2 63.8,284.6 63.9,284.0 64.0,283.4 64.1,282.8 64.2,282.2 64.4,281.5 64.5,281.0 64.7,280.2 64.8,279.8 65.0,279.1 65.1,278.5 65.2,278.0 65.4,277.2 65.5,276.7 65.7,276.0 65.8,275.5 65.9,274.8 66.0,274.0 66.1,273.5 66.2,272.8 66.2,272.0 66.3,271.5 66.4,270.8 66.5,270.0 66.6,269.5 66.7,268.8 66.9,268.2 67.1,267.8 67.3,267.2 67.6,266.8 68.0,266.4Z" fill="none" stroke="rgb(103,103,103)" stroke-width="0.48"/>
<path d="M66.7,242.8 67.2,242.7 68.0,242.7 68.5,242.8 69.2,243.0 69.7,243.2 70.1,243.5 70.5,243.8 71.0,244.2 71.2,244.5 71.6,245.0 72.0,245.5 72.2,245.9 72.5,246.2 72.9,246.8 73.2,247.2 73.5,247.5 74.0,247.8 74.5,248.1 75.2,248.2 75.8,248.3 76.5,248.4 77.0,248.6 77.5,248.8 78.0,249.0 78.5,249.4 78.9,249.8 79.2,250.2 79.5,250.6 79.8,251.2 79.9,251.8 80.0,252.2 80.1,253.0 80.1,253.8 80.0,254.3 79.8,255.0 79.6,255.5 79.3,256.0 79.0,256.4 78.7,256.8 78.2,257.1 77.8,257.3 77.0,257.5 76.2,257.4 75.8,257.1 75.3,256.8 75.0,256.4 74.7,256.0 74.4,255.5 74.1,255.0 73.8,254.5 73.5,254.0 73.2,253.7 72.8,253.2 72.3,253.0 71.8,253.0 71.2,253.1 70.8,253.3 70.2,253.6 69.8,253.9 69.2,254.1 68.6,254.2 68.0,254.3 67.5,254.2 67.0,254.0 66.5,253.7 66.0,253.4 65.6,253.0 65.2,252.6 65.0,252.2 64.7,251.8 64.4,251.2 64.2,250.8 64.0,250.2 63.8,249.5 63.7,249.0 63.6,248.2 63.5,247.5 63.6,246.8 63.7,246.0 63.8,245.5 64.0,245.0 64.3,244.5 64.6,244.0 65.0,243.6 65.4,243.2 65.8,243.0 66.5,242.8ZM68.0,262.0 68.5,261.8 69.2,261.8 70.0,262.0 70.5,262.2 70.8,262.5 71.2,262.9 71.5,263.2 71.9,263.8 72.2,264.2 72.4,264.8 72.6,265.2 72.8,265.9 72.9,266.5 73.0,267.1 73.1,267.8 73.2,268.5 73.2,269.2 73.3,269.8 73.4,270.5 73.4,271.2 73.5,271.9 73.6,272.5 73.7,273.2 73.8,273.8 74.0,274.5 74.1,275.0 74.3,275.5 74.5,276.0 74.8,276.6 75.0,277.2 75.2,277.7 75.5,278.2 75.8,278.7 76.0,279.1 76.2,279.6 76.5,280.1 76.8,280.6 77.0,281.0 77.3,281.5 77.5,282.1 77.8,282.6 78.0,283.2 78.2,283.8 78.4,284.2 78.6,284.8 78.8,285.4 78.9,286.0 79.0,286.5 79.2,287.2 79.3,287.8 79.3,288.5 79.4,289.2 79.4,290.0 79.4,290.8 79.4,291.5 79.4,292.2 79.3,293.0 79.2,293.5 79.1,294.2 79.0,294.8 78.9,295.5 78.8,296.1 78.6,296.8 78.5,297.4 78.4,298.0 78.3,298.8 78.2,299.2 78.0,300.0 77.9,300.5 77.8,301.2 77.7,301.8 77.5,302.3 77.3,303.0 77.1,303.5 77.0,304.0 76.8,304.5 76.5,305.1 76.2,305.6 76.0,306.0 75.7,306.5 75.4,307.0 75.0,307.5 74.8,307.8 74.3,308.2 74.0,308.6 73.6,309.0 73.2,309.3 72.8,309.7 72.3,310.0 71.9,310.2 71.5,310.5 71.0,310.8 70.5,311.0 70.0,311.3 69.4,311.5 68.8,311.7 68.2,311.8 67.5,312.0 67.0,312.1 66.2,312.1 65.5,312.1 64.8,312.1 64.2,312.0 63.6,311.8 63.0,311.5 62.6,311.2 62.2,311.0 61.8,310.7 61.3,310.2 61.0,310.0 60.5,309.5 60.2,309.1 60.0,308.8 59.6,308.2 59.3,307.8 59.1,307.2 58.9,306.8 58.7,306.2 58.5,305.7 58.3,305.0 58.2,304.5 58.1,303.8 58.0,303.0 58.0,302.2 58.0,301.5 58.1,300.8 58.2,300.0 58.3,299.5 58.5,298.9 58.7,298.2 58.8,297.8 59.0,297.2 59.3,296.8 59.5,296.2 59.8,295.7 60.0,295.2 60.2,294.7 60.5,294.2 60.8,293.8 61.1,293.2 61.3,292.8 61.6,292.2 61.8,291.8 62.0,291.2 62.2,290.6 62.4,290.0 62.5,289.5 62.7,288.8 62.8,288.0 62.8,287.5 62.9,286.8 63.0,286.0 63.1,285.5 63.2,284.8 63.3,284.3 63.4,283.5 63.5,283.0 63.7,282.2 63.8,281.8 63.9,281.0 64.1,280.5 64.2,279.8 64.3,279.2 64.5,278.5 64.6,278.0 64.7,277.2 64.8,276.8 64.8,276.0 64.9,275.2 65.0,274.5 65.0,273.9 65.0,273.2 65.0,272.5 65.0,271.8 65.0,271.0 65.0,270.2 65.0,269.5 65.1,268.8 65.1,268.0 65.2,267.2 65.2,266.5 65.3,266.0 65.5,265.3 65.7,264.8 65.9,264.2 66.2,263.8 66.5,263.3 66.8,263.0 67.2,262.5 67.6,262.2Z" fill="none" stroke="rgb(104,104,104)" stroke-width="0.47"/>
<path d="M66.6,241.8 67.2,241.7 68.0,241.7 68.5,241.8 69.2,242.0 69.8,242.2 70.2,242.4 70.7,242.8 71.1,243.0 71.5,243.4 71.9,243.8 72.2,244.2 72.5,244.5 72.9,245.0 73.2,245.4 73.6,245.8 74.0,246.2 74.5,246.5 74.9,246.8 75.5,247.0 76.0,247.2 76.5,247.3 77.0,247.5 77.7,247.8 78.2,248.0 78.6,248.2 79.0,248.5 79.5,249.0 79.8,249.3 80.1,249.8 80.4,250.2 80.6,250.8 80.8,251.2 80.9,252.0 81.0,252.5 81.0,253.2 81.0,253.8 80.9,254.5 80.8,255.1 80.5,255.8 80.3,256.2 80.0,256.8 79.8,257.1 79.4,257.5 79.0,257.9 78.6,258.2 78.2,258.5 77.7,258.8 77.0,259.0 76.5,259.1 75.8,259.1 75.2,258.9 74.8,258.7 74.2,258.3 74.0,258.0 73.6,257.5 73.3,257.0 73.0,256.6 72.8,256.2 72.2,255.8 71.8,255.7 71.2,255.8 70.8,256.0 70.2,256.5 70.0,256.8 69.8,257.5 70.0,258.0 70.4,258.5 70.8,258.8 71.2,259.2 71.6,259.5 72.0,259.9 72.4,260.2 72.8,260.7 73.0,261.1 73.2,261.6 73.5,262.2 73.7,262.8 73.8,263.2 74.0,264.0 74.1,264.5 74.2,265.2 74.3,265.8 74.4,266.5 74.4,267.2 74.5,268.0 74.5,268.5 74.6,269.2 74.6,270.0 74.6,270.8 74.7,271.5 74.7,272.2 74.8,272.8 74.9,273.5 75.0,274.2 75.1,274.8 75.3,275.2 75.5,276.0 75.7,276.5 75.9,277.0 76.1,277.5 76.3,278.0 76.5,278.5 76.8,279.0 77.0,279.5 77.3,280.0 77.5,280.5 77.8,281.0 78.0,281.6 78.2,282.1 78.5,282.7 78.7,283.2 78.9,283.8 79.0,284.2 79.2,284.9 79.4,285.5 79.5,286.0 79.7,286.8 79.8,287.2 79.9,288.0 80.0,288.8 80.0,289.2 80.0,290.0 80.0,290.8 80.0,291.5 80.0,292.0 79.9,292.8 79.8,293.5 79.8,294.1 79.6,294.8 79.5,295.5 79.4,296.0 79.2,296.7 79.1,297.2 79.0,297.8 78.9,298.5 78.7,299.0 78.6,299.8 78.5,300.2 78.3,301.0 78.2,301.5 78.0,302.1 77.8,302.8 77.6,303.2 77.5,303.8 77.2,304.3 77.0,304.8 76.8,305.4 76.5,305.8 76.2,306.3 75.9,306.8 75.6,307.2 75.2,307.7 75.0,308.0 74.5,308.5 74.2,308.8 73.8,309.2 73.5,309.5 73.0,309.9 72.5,310.2 72.1,310.5 71.7,310.8 71.2,311.0 70.7,311.2 70.1,311.5 69.5,311.7 69.0,311.9 68.5,312.0 67.8,312.2 67.2,312.3 66.5,312.4 65.8,312.4 65.0,312.3 64.5,312.2 63.8,312.0 63.2,311.9 62.8,311.6 62.2,311.3 61.8,311.0 61.5,310.8 61.0,310.3 60.7,310.0 60.2,309.5 60.0,309.2 59.7,308.8 59.4,308.2 59.1,307.8 58.8,307.2 58.6,306.8 58.4,306.2 58.2,305.7 58.1,305.0 58.0,304.5 57.9,303.8 57.8,303.0 57.8,302.2 57.8,301.5 57.9,300.8 58.0,300.0 58.1,299.5 58.2,298.9 58.4,298.2 58.6,297.8 58.8,297.2 59.0,296.7 59.2,296.1 59.5,295.6 59.8,295.1 60.0,294.6 60.2,294.1 60.5,293.6 60.8,293.1 61.0,292.6 61.2,292.0 61.5,291.5 61.6,291.0 61.8,290.5 61.9,289.8 62.0,289.2 62.1,288.5 62.2,287.8 62.3,287.2 62.3,286.5 62.4,285.8 62.5,285.2 62.6,284.5 62.7,283.8 62.8,283.2 63.0,282.5 63.1,282.0 63.2,281.2 63.3,280.8 63.5,280.0 63.6,279.5 63.7,278.8 63.8,278.2 63.9,277.5 64.0,276.8 64.0,276.2 64.1,275.5 64.1,274.8 64.1,274.0 64.1,273.2 64.1,272.5 64.1,271.8 64.0,271.0 64.0,270.2 64.0,269.7 64.0,269.0 64.0,268.2 64.0,267.7 64.0,267.0 64.1,266.2 64.2,265.5 64.3,265.0 64.5,264.2 64.6,263.8 64.8,263.2 65.0,262.6 65.2,262.0 65.5,261.5 65.8,261.1 66.0,260.7 66.3,260.2 66.6,259.8 67.0,259.2 67.2,258.9 67.5,258.5 67.8,257.8 67.7,257.5 67.5,257.0 67.2,256.5 66.8,256.1 66.5,255.8 66.0,255.2 65.8,254.9 65.4,254.5 65.1,254.0 64.8,253.5 64.5,253.1 64.2,252.6 64.0,252.2 63.8,251.6 63.5,251.0 63.3,250.5 63.2,250.0 63.0,249.3 62.9,248.8 62.8,248.0 62.8,247.2 62.8,246.5 63.0,245.8 63.1,245.2 63.3,244.8 63.5,244.2 63.8,243.8 64.1,243.2 64.5,242.8 64.8,242.5 65.2,242.2 65.8,242.0 66.5,241.8Z" fill="none" stroke="rgb(106,106,106)" stroke-width="0.47"/>
<path d="M66.3,240.5 67.0,240.4 67.8,240.4 68.5,240.5 69.0,240.6 69.7,240.8 70.2,241.0 70.8,241.2 71.2,241.5 71.5,241.8 72.0,242.1 72.4,242.5 72.8,242.8 73.1,243.2 73.5,243.6 73.8,244.0 74.2,244.4 74.6,244.8 75.0,245.0 75.5,245.4 76.0,245.6 76.5,245.9 77.0,246.1 77.5,246.3 78.0,246.5 78.5,246.8 79.0,247.1 79.5,247.4 79.9,247.8 80.2,248.1 80.6,248.5 80.9,249.0 81.2,249.5 81.4,250.0 81.6,250.5 81.8,251.0 81.9,251.8 82.0,252.3 82.0,253.0 82.0,253.8 82.0,254.2 81.8,255.0 81.7,255.5 81.5,256.2 81.3,256.8 81.0,257.2 80.8,257.7 80.5,258.1 80.2,258.5 79.8,259.0 79.5,259.2 79.0,259.7 78.7,260.0 78.2,260.3 77.8,260.7 77.4,261.0 77.0,261.4 76.7,261.8 76.4,262.2 76.2,262.8 76.1,263.5 76.0,264.2 76.0,265.0 76.1,265.8 76.1,266.5 76.1,267.2 76.1,268.0 76.1,268.8 76.1,269.5 76.2,270.2 76.2,271.0 76.2,271.8 76.2,272.5 76.3,273.0 76.4,273.8 76.5,274.5 76.6,275.0 76.8,275.6 76.9,276.2 77.1,276.8 77.3,277.2 77.5,277.8 77.8,278.5 78.0,279.0 78.2,279.5 78.4,280.0 78.6,280.5 78.8,281.0 79.1,281.5 79.3,282.0 79.5,282.7 79.7,283.2 79.9,283.8 80.0,284.2 80.2,285.0 80.4,285.5 80.5,286.1 80.6,286.8 80.7,287.5 80.8,288.0 80.9,288.8 80.9,289.5 81.0,290.2 81.0,291.0 80.9,291.8 80.9,292.5 80.8,293.2 80.8,293.8 80.6,294.5 80.5,295.2 80.4,295.8 80.3,296.5 80.1,297.0 80.0,297.6 79.8,298.2 79.7,298.8 79.5,299.5 79.4,300.0 79.2,300.5 79.0,301.2 78.9,301.8 78.7,302.2 78.5,302.8 78.3,303.5 78.1,304.0 77.8,304.5 77.6,305.0 77.4,305.5 77.1,306.0 76.8,306.5 76.5,306.9 76.2,307.3 75.9,307.8 75.5,308.2 75.2,308.5 74.8,309.0 74.5,309.3 74.0,309.7 73.7,310.0 73.2,310.3 72.8,310.7 72.2,311.0 71.8,311.2 71.3,311.5 70.8,311.7 70.2,312.0 69.8,312.1 69.2,312.3 68.5,312.5 68.0,312.6 67.2,312.7 66.8,312.8 66.0,312.8 65.2,312.8 64.8,312.7 64.0,312.5 63.5,312.4 63.0,312.2 62.5,311.9 62.0,311.6 61.5,311.3 61.1,311.0 60.8,310.6 60.4,310.2 60.0,309.9 59.7,309.5 59.4,309.0 59.0,308.5 58.8,308.0 58.5,307.5 58.3,307.0 58.1,306.5 57.9,306.0 57.8,305.3 57.6,304.8 57.5,304.0 57.4,303.5 57.4,302.8 57.4,302.0 57.4,301.2 57.5,300.6 57.6,300.0 57.7,299.2 57.9,298.8 58.0,298.2 58.2,297.5 58.4,297.0 58.6,296.5 58.8,296.0 59.0,295.5 59.3,295.0 59.5,294.5 59.8,294.0 60.0,293.4 60.2,292.8 60.5,292.2 60.7,291.8 60.8,291.2 61.0,290.5 61.1,290.0 61.2,289.2 61.2,288.7 61.3,288.0 61.4,287.2 61.5,286.5 61.5,286.0 61.6,285.2 61.7,284.5 61.8,284.0 61.9,283.2 62.0,282.8 62.1,282.0 62.2,281.4 62.4,280.8 62.5,280.0 62.6,279.5 62.7,278.8 62.8,278.2 62.9,277.5 62.9,276.8 63.0,276.0 63.0,275.2 63.0,274.5 63.0,273.8 62.9,273.0 62.9,272.2 62.8,271.5 62.8,270.8 62.8,270.0 62.7,269.5 62.7,268.8 62.7,268.0 62.7,267.2 62.7,266.5 62.8,266.0 62.9,265.2 63.0,264.5 63.1,264.0 63.2,263.2 63.4,262.8 63.5,262.2 63.7,261.5 63.9,261.0 64.0,260.5 64.2,259.8 64.4,259.2 64.5,258.8 64.6,258.0 64.6,257.2 64.5,256.5 64.4,256.0 64.2,255.5 64.0,254.9 63.8,254.3 63.5,253.8 63.3,253.2 63.1,252.8 62.9,252.2 62.7,251.8 62.5,251.2 62.3,250.5 62.2,250.0 62.0,249.3 61.9,248.8 61.8,248.0 61.8,247.2 61.9,246.5 61.9,245.8 62.0,245.2 62.2,244.5 62.4,244.0 62.7,243.5 62.9,243.0 63.2,242.5 63.5,242.2 63.9,241.8 64.2,241.5 64.8,241.1 65.2,240.8 65.8,240.6 66.3,240.5Z" fill="none" stroke="rgb(107,107,107)" stroke-width="0.46"/>
<path d="M65.8,238.5 66.5,238.4 67.2,238.3 68.0,238.3 68.8,238.4 69.3,238.5 70.0,238.7 70.5,238.9 71.0,239.1 71.5,239.3 72.0,239.6 72.5,239.9 72.9,240.2 73.2,240.5 73.8,241.0 74.1,241.2 74.5,241.7 74.8,242.0 75.2,242.4 75.7,242.8 76.0,243.0 76.5,243.4 77.0,243.7 77.5,244.0 78.0,244.2 78.4,244.5 78.9,244.8 79.3,245.0 79.8,245.3 80.2,245.7 80.6,246.0 81.0,246.4 81.4,246.8 81.7,247.2 82.0,247.6 82.2,248.0 82.5,248.5 82.8,249.1 83.0,249.8 83.1,250.2 83.3,250.8 83.4,251.5 83.5,252.2 83.5,252.9 83.5,253.3 83.5,254.0 83.4,254.8 83.3,255.5 83.1,256.0 83.0,256.5 82.8,257.2 82.5,257.8 82.3,258.2 82.1,258.8 81.8,259.2 81.5,259.7 81.2,260.1 81.0,260.5 80.6,261.0 80.3,261.5 80.0,261.9 79.8,262.3 79.5,262.8 79.2,263.2 79.0,263.9 78.8,264.5 78.7,265.0 78.7,265.8 78.6,266.5 78.6,267.2 78.6,268.0 78.6,268.8 78.6,269.5 78.6,270.2 78.6,271.0 78.6,271.8 78.6,272.5 78.7,273.2 78.7,274.0 78.8,274.5 78.9,275.2 79.1,275.8 79.2,276.5 79.4,277.0 79.6,277.5 79.8,278.1 80.0,278.8 80.2,279.2 80.4,279.8 80.5,280.2 80.8,280.9 81.0,281.5 81.1,282.0 81.3,282.5 81.5,283.2 81.7,283.8 81.8,284.2 82.0,285.0 82.1,285.5 82.2,286.2 82.3,286.8 82.4,287.5 82.5,288.2 82.5,288.8 82.6,289.5 82.6,290.2 82.6,291.0 82.6,291.8 82.6,292.5 82.5,293.2 82.5,293.8 82.4,294.5 82.3,295.2 82.2,295.8 82.0,296.5 81.9,297.0 81.8,297.8 81.6,298.2 81.5,298.8 81.3,299.5 81.1,300.0 81.0,300.5 80.8,301.1 80.5,301.8 80.3,302.2 80.2,302.8 79.9,303.2 79.7,303.7 79.5,304.3 79.2,304.8 79.0,305.3 78.8,305.8 78.5,306.2 78.2,306.8 77.8,307.2 77.5,307.7 77.2,308.0 76.9,308.5 76.5,308.9 76.2,309.2 75.8,309.7 75.4,310.0 75.0,310.3 74.5,310.7 74.1,311.0 73.8,311.3 73.2,311.6 72.8,311.9 72.2,312.2 71.8,312.4 71.2,312.6 70.8,312.8 70.2,313.0 69.5,313.2 69.0,313.4 68.4,313.5 67.8,313.6 67.0,313.7 66.2,313.7 65.5,313.7 64.8,313.6 64.1,313.5 63.5,313.3 63.0,313.2 62.5,312.9 62.0,312.7 61.5,312.4 61.0,312.0 60.7,311.8 60.2,311.4 59.9,311.0 59.5,310.6 59.2,310.2 58.8,309.8 58.5,309.3 58.2,308.9 58.0,308.4 57.8,307.9 57.5,307.3 57.3,306.8 57.1,306.2 57.0,305.8 56.8,305.0 56.7,304.5 56.6,303.8 56.6,303.0 56.6,302.2 56.6,301.5 56.7,300.8 56.8,300.0 56.8,299.5 57.0,298.8 57.1,298.2 57.3,297.8 57.5,297.0 57.7,296.5 57.9,296.0 58.0,295.5 58.2,295.0 58.5,294.3 58.7,293.8 58.9,293.2 59.1,292.8 59.2,292.1 59.4,291.5 59.5,290.9 59.6,290.2 59.7,289.5 59.7,288.8 59.8,288.2 59.8,287.5 59.9,286.8 59.9,286.0 60.0,285.3 60.1,284.8 60.2,284.0 60.2,283.5 60.4,282.8 60.5,282.0 60.6,281.5 60.7,280.8 60.8,280.2 60.9,279.5 61.0,278.8 61.0,278.2 61.1,277.5 61.1,276.8 61.1,276.0 61.1,275.2 61.1,274.5 61.1,273.8 61.0,273.0 61.0,272.5 60.9,271.8 60.9,271.0 60.8,270.2 60.8,269.5 60.8,268.9 60.7,268.2 60.7,267.5 60.7,266.8 60.8,266.2 60.8,265.5 60.9,264.8 61.0,264.0 61.0,263.5 61.2,262.8 61.3,262.2 61.4,261.5 61.6,261.0 61.7,260.2 61.9,259.8 62.0,259.1 62.1,258.5 62.2,257.8 62.2,257.0 62.2,256.2 62.0,255.5 61.9,255.0 61.8,254.4 61.6,253.7 61.4,253.2 61.2,252.7 61.0,252.0 60.9,251.5 60.7,251.0 60.6,250.2 60.5,249.8 60.3,249.0 60.3,248.2 60.2,247.8 60.2,247.0 60.3,246.5 60.3,245.8 60.4,245.0 60.6,244.5 60.8,243.8 60.9,243.2 61.1,242.8 61.4,242.2 61.7,241.8 62.0,241.2 62.2,240.9 62.6,240.5 63.0,240.1 63.3,239.8 63.8,239.4 64.2,239.1 64.8,238.8 65.2,238.6 65.8,238.5Z" fill="none" stroke="rgb(108,108,108)" stroke-width="0.46"/>
<path d="M193.0,301.0 193.5,300.8 194.0,301.0 194.5,301.4 194.8,302.0 194.8,302.5 194.7,303.0 194.4,303.5 194.0,303.8 193.2,303.9 192.8,303.5 192.5,303.1 192.4,302.5 192.5,301.8 192.7,301.2Z" fill="none" stroke="rgb(85,85,85)" stroke-width="0.55"/>
<path d="M192.9,299.8 193.5,299.6 194.1,299.8 194.7,300.0 195.0,300.3 195.4,300.8 195.6,301.2 195.8,301.8 195.9,302.5 195.8,303.2 195.5,303.8 195.2,304.2 195.0,304.5 194.5,304.8 194.0,305.0 193.2,305.1 192.8,304.9 192.3,304.5 192.0,304.1 191.8,303.5 191.6,303.0 191.6,302.2 191.7,301.5 191.8,301.0 192.1,300.5 192.5,300.0 192.9,299.8Z" fill="none" stroke="rgb(87,87,87)" stroke-width="0.54"/>
<path d="M192.9,298.8 193.5,298.7 194.1,298.8 194.8,299.0 195.2,299.2 195.5,299.5 196.0,300.0 196.2,300.4 196.5,301.0 196.6,301.5 196.7,302.2 196.7,303.0 196.5,303.6 196.2,304.2 196.0,304.6 195.7,305.0 195.2,305.4 194.8,305.7 194.2,305.9 193.7,306.0 193.2,306.0 192.5,305.8 192.2,305.5 191.8,305.0 191.5,304.6 191.2,304.0 191.1,303.5 191.0,302.8 191.0,302.2 191.0,301.8 191.2,301.0 191.3,300.5 191.6,300.0 191.9,299.5 192.2,299.1 192.8,298.8Z" fill="none" stroke="rgb(88,88,88)" stroke-width="0.54"/>
<path d="M193.3,297.8 193.8,297.8 194.5,297.9 195.0,298.0 195.5,298.3 196.0,298.7 196.4,299.0 196.8,299.5 197.0,299.9 197.2,300.4 197.5,301.0 197.6,301.5 197.6,302.2 197.5,303.0 197.4,303.5 197.2,304.1 197.0,304.6 196.8,305.0 196.4,305.5 196.0,305.9 195.5,306.2 195.0,306.5 194.5,306.7 194.0,306.8 193.2,306.8 192.8,306.7 192.2,306.5 191.8,306.1 191.5,305.8 191.1,305.2 190.9,304.8 190.7,304.2 190.5,303.5 190.5,303.0 190.4,302.2 190.5,301.5 190.6,301.0 190.8,300.3 191.0,299.8 191.2,299.2 191.5,298.8 191.8,298.5 192.2,298.1 192.8,297.9 193.3,297.8Z" fill="none" stroke="rgb(89,89,89)" stroke-width="0.53"/>
<path d="M193.0,296.8 193.8,296.7 194.5,296.7 195.0,296.9 195.5,297.0 196.0,297.3 196.5,297.6 197.0,298.0 197.2,298.3 197.7,298.8 198.0,299.3 198.2,299.8 198.4,300.2 198.6,300.8 198.7,301.5 198.7,302.2 198.6,303.0 198.5,303.5 198.3,304.2 198.0,304.8 197.7,305.2 197.5,305.6 197.1,306.0 196.8,306.4 196.3,306.8 195.9,307.0 195.5,307.2 194.8,307.5 194.2,307.6 193.5,307.7 192.8,307.6 192.2,307.4 191.8,307.1 191.4,306.8 191.0,306.2 190.8,305.9 190.5,305.4 190.2,304.8 190.1,304.2 190.0,303.8 189.9,303.0 189.8,302.2 189.9,301.5 190.0,300.8 190.1,300.2 190.3,299.8 190.5,299.1 190.8,298.6 191.0,298.2 191.4,297.8 191.8,297.4 192.2,297.1 192.8,296.8Z" fill="none" stroke="rgb(91,91,91)" stroke-width="0.53"/>
<path d="M192.7,295.8 193.3,295.6 194.0,295.5 194.7,295.5 195.5,295.7 196.0,295.8 196.5,296.0 197.0,296.2 197.5,296.5 198.0,296.9 198.4,297.2 198.8,297.6 199.1,298.0 199.4,298.5 199.7,299.0 200.0,299.5 200.2,300.0 200.3,300.5 200.4,301.2 200.4,302.0 200.2,302.6 200.1,303.2 199.9,303.8 199.6,304.2 199.4,304.8 199.0,305.2 198.8,305.6 198.5,306.0 198.0,306.5 197.7,306.8 197.2,307.2 196.8,307.5 196.4,307.8 195.8,308.0 195.2,308.2 194.8,308.4 194.0,308.5 193.2,308.5 192.5,308.3 192.0,308.1 191.5,307.8 191.2,307.5 190.8,307.0 190.5,306.6 190.2,306.2 190.0,305.7 189.8,305.0 189.6,304.5 189.5,304.0 189.3,303.2 189.3,302.5 189.3,301.8 189.4,301.0 189.5,300.2 189.6,299.8 189.8,299.2 190.0,298.6 190.2,298.1 190.5,297.7 190.8,297.2 191.2,296.8 191.5,296.5 192.0,296.1 192.5,295.8Z" fill="none" stroke="rgb(92,92,92)" stroke-width="0.52"/>
<path d="M193.3,294.5 194.0,294.4 194.8,294.3 195.5,294.4 196.2,294.5 196.8,294.6 197.2,294.8 197.8,295.0 198.2,295.3 198.8,295.6 199.2,296.0 199.6,296.2 200.0,296.6 200.3,297.0 200.8,297.5 201.0,297.8 201.3,298.2 201.6,298.8 201.8,299.2 202.0,299.8 202.2,300.5 202.3,301.0 202.3,301.8 202.2,302.2 202.0,303.0 201.8,303.5 201.5,303.9 201.2,304.3 200.9,304.8 200.5,305.2 200.2,305.5 199.8,306.0 199.5,306.3 199.0,306.7 198.7,307.0 198.2,307.4 197.8,307.7 197.3,308.0 196.9,308.2 196.4,308.5 195.8,308.7 195.2,308.9 194.7,309.0 194.0,309.1 193.2,309.1 192.8,309.0 192.1,308.8 191.7,308.5 191.2,308.2 190.8,307.8 190.5,307.4 190.2,307.0 189.9,306.5 189.7,306.0 189.5,305.5 189.2,304.9 189.1,304.2 189.0,303.8 188.9,303.0 188.8,302.2 188.9,301.5 188.9,300.8 189.0,300.2 189.1,299.5 189.3,299.0 189.5,298.4 189.8,297.8 190.0,297.4 190.2,296.9 190.6,296.5 191.0,296.0 191.2,295.7 191.8,295.3 192.2,295.0 192.6,294.8 193.2,294.5ZM218.9,301.0 219.5,300.9 220.2,300.9 220.8,301.0 221.4,301.2 221.8,301.5 221.8,302.1 221.3,302.5 220.8,302.7 220.2,302.8 219.5,302.8 219.0,302.7 218.4,302.5 218.0,302.2 217.7,301.8 218.0,301.4 218.5,301.1Z" fill="none" stroke="rgb(93,93,93)" stroke-width="0.51"/>
<path d="M194.1,294.0 194.8,293.9 195.5,294.0 196.0,294.0 196.8,294.2 197.2,294.3 197.8,294.5 198.2,294.8 198.8,295.1 199.2,295.4 199.7,295.8 200.0,296.0 200.5,296.5 200.8,296.8 201.1,297.2 201.5,297.7 201.8,298.1 202.0,298.5 202.3,299.0 202.5,299.5 202.8,300.2 202.9,300.8 202.9,301.5 202.8,302.2 202.7,302.8 202.4,303.2 202.2,303.8 201.8,304.2 201.5,304.7 201.2,305.0 200.8,305.5 200.5,305.8 200.0,306.2 199.7,306.5 199.2,306.9 198.8,307.2 198.5,307.5 198.0,307.8 197.5,308.1 197.0,308.4 196.5,308.7 196.0,308.9 195.5,309.0 194.8,309.2 194.0,309.2 193.6,309.2 193.0,309.2 192.3,309.0 191.8,308.8 191.4,308.5 191.0,308.1 190.6,307.8 190.2,307.3 190.0,306.9 189.8,306.5 189.5,305.9 189.2,305.3 189.1,304.8 189.0,304.2 188.8,303.5 188.8,302.9 188.7,302.2 188.7,301.5 188.8,301.0 188.8,300.2 189.0,299.5 189.1,299.0 189.3,298.5 189.5,298.0 189.8,297.5 190.0,297.0 190.3,296.5 190.7,296.0 191.0,295.7 191.4,295.2 191.8,295.0 192.2,294.6 192.8,294.4 193.2,294.2 194.0,294.0ZM218.9,299.5 219.5,299.5 220.2,299.5 221.0,299.5 221.5,299.5 222.2,299.6 223.0,299.7 223.5,299.8 224.1,300.0 224.8,300.2 225.2,300.4 225.8,300.7 226.2,301.0 226.5,301.4 226.7,302.0 226.5,302.6 226.2,303.0 225.8,303.3 225.2,303.6 224.8,303.8 224.1,304.0 223.5,304.1 222.8,304.2 222.2,304.3 221.5,304.3 220.8,304.3 220.0,304.3 219.2,304.3 218.8,304.2 218.0,304.1 217.5,304.0 216.8,303.8 216.2,303.6 215.8,303.3 215.2,303.0 215.0,302.8 214.6,302.2 214.5,301.5 214.8,301.0 215.3,300.6 215.8,300.3 216.2,300.1 216.8,299.9 217.3,299.8 218.0,299.6 218.8,299.5Z" fill="none" stroke="rgb(95,95,95)" stroke-width="0.51"/>
<path d="M193.4,293.8 194.0,293.6 194.8,293.5 195.5,293.5 196.2,293.6 196.9,293.8 197.5,293.9 198.0,294.1 198.5,294.4 199.0,294.7 199.4,295.0 199.8,295.2 200.2,295.7 200.6,296.0 201.0,296.4 201.3,296.8 201.7,297.2 202.0,297.6 202.3,298.0 202.6,298.5 202.9,299.0 203.1,299.5 203.3,300.0 203.5,300.7 203.6,301.2 203.5,302.0 203.4,302.5 203.2,303.0 202.9,303.5 202.6,304.0 202.2,304.5 202.0,304.8 201.5,305.2 201.2,305.5 200.8,306.0 200.5,306.2 200.0,306.7 199.6,307.0 199.2,307.3 198.8,307.6 198.2,308.0 197.8,308.2 197.3,308.5 196.8,308.8 196.2,309.0 195.8,309.1 195.2,309.3 194.5,309.4 193.8,309.4 193.0,309.4 192.5,309.2 191.9,309.0 191.5,308.7 191.0,308.3 190.7,308.0 190.2,307.5 190.0,307.2 189.8,306.7 189.5,306.2 189.2,305.7 189.0,305.0 188.9,304.5 188.8,303.9 188.6,303.2 188.6,302.5 188.6,301.8 188.6,301.0 188.7,300.2 188.8,299.8 189.0,299.0 189.1,298.5 189.3,298.0 189.5,297.5 189.8,297.0 190.1,296.5 190.4,296.0 190.8,295.6 191.1,295.2 191.5,294.9 192.0,294.5 192.3,294.2 192.8,294.0 193.4,293.8ZM217.9,298.8 218.5,298.7 219.2,298.7 220.0,298.6 220.8,298.7 221.5,298.7 222.2,298.7 222.8,298.8 223.5,298.9 224.2,299.0 224.8,299.1 225.4,299.2 226.0,299.4 226.5,299.5 227.1,299.8 227.8,300.0 228.2,300.2 228.7,300.5 229.1,300.8 229.5,301.1 229.8,301.5 230.0,302.0 230.0,302.6 229.8,303.0 229.3,303.5 228.9,303.8 228.5,304.0 227.9,304.2 227.2,304.5 226.8,304.6 226.2,304.8 225.5,304.9 224.9,305.0 224.2,305.1 223.5,305.2 222.7,305.2 222.0,305.2 221.2,305.2 220.5,305.2 219.8,305.2 219.0,305.1 218.2,305.0 217.8,304.9 217.0,304.8 216.5,304.6 216.0,304.5 215.2,304.3 214.8,304.0 214.2,303.8 213.8,303.5 213.4,303.2 213.0,302.8 212.8,302.4 212.6,301.8 212.8,301.1 213.0,300.7 213.5,300.2 213.8,300.0 214.3,299.8 214.8,299.5 215.5,299.2 216.0,299.1 216.5,299.0 217.2,298.8 217.9,298.8Z" fill="none" stroke="rgb(96,96,96)" stroke-width="0.50"/>
<path d="M193.6,293.2 194.2,293.1 195.0,293.0 195.8,293.0 196.5,293.1 197.1,293.2 197.8,293.5 198.2,293.7 198.8,294.0 199.2,294.3 199.6,294.5 200.0,294.8 200.5,295.2 200.8,295.5 201.2,295.9 201.5,296.2 202.0,296.8 202.2,297.1 202.6,297.5 203.0,298.0 203.2,298.4 203.5,298.8 203.8,299.3 204.0,299.8 204.2,300.5 204.4,301.0 204.4,301.8 204.2,302.3 204.0,302.9 203.8,303.4 203.5,303.8 203.1,304.2 202.8,304.7 202.4,305.0 202.0,305.4 201.7,305.8 201.2,306.1 200.8,306.5 200.5,306.8 200.0,307.1 199.5,307.5 199.1,307.8 198.7,308.0 198.2,308.3 197.8,308.6 197.2,308.8 196.8,309.0 196.2,309.2 195.5,309.4 195.0,309.5 194.2,309.6 193.5,309.6 192.8,309.5 192.2,309.4 191.8,309.1 191.2,308.8 190.9,308.5 190.5,308.1 190.2,307.8 189.9,307.2 189.6,306.8 189.3,306.2 189.1,305.8 188.9,305.2 188.8,304.6 188.6,304.0 188.5,303.3 188.4,302.8 188.4,302.0 188.4,301.2 188.5,300.5 188.6,300.0 188.7,299.2 188.8,298.8 189.0,298.2 189.2,297.6 189.5,297.1 189.8,296.6 190.0,296.2 190.3,295.8 190.7,295.2 191.0,294.9 191.5,294.5 191.8,294.2 192.2,293.9 192.8,293.6 193.2,293.3ZM218.3,298.0 219.0,298.0 219.8,298.0 220.5,298.0 221.2,298.0 221.8,298.0 222.5,298.1 223.2,298.1 224.0,298.2 224.5,298.3 225.2,298.4 225.8,298.5 226.5,298.7 227.0,298.8 227.8,299.0 228.2,299.1 228.8,299.3 229.4,299.5 230.0,299.8 230.5,300.0 230.9,300.2 231.3,300.5 231.8,300.9 232.1,301.2 232.3,301.8 232.4,302.5 232.2,303.0 231.8,303.5 231.5,303.8 231.0,304.2 230.5,304.4 230.0,304.7 229.5,304.9 229.0,305.0 228.3,305.2 227.8,305.4 227.2,305.5 226.5,305.6 225.8,305.7 225.2,305.8 224.5,305.9 223.8,305.9 223.0,306.0 222.2,306.0 221.5,306.0 220.8,305.9 220.0,305.9 219.2,305.8 218.5,305.8 218.0,305.7 217.2,305.6 216.8,305.5 216.0,305.3 215.5,305.2 214.9,305.0 214.2,304.8 213.8,304.6 213.2,304.4 212.8,304.1 212.2,303.8 211.9,303.5 211.5,303.2 211.2,302.8 210.9,302.2 210.9,301.5 211.0,301.0 211.4,300.5 211.8,300.1 212.2,299.8 212.6,299.5 213.0,299.3 213.6,299.0 214.2,298.8 214.8,298.6 215.2,298.5 216.0,298.3 216.5,298.2 217.2,298.1 218.0,298.0Z" fill="none" stroke="rgb(97,97,97)" stroke-width="0.50"/>
<path d="M194.8,292.5 195.5,292.5 196.2,292.5 196.8,292.6 197.4,292.8 198.0,293.0 198.5,293.2 199.0,293.5 199.5,293.8 199.8,294.0 200.2,294.3 200.8,294.7 201.0,295.0 201.5,295.5 201.8,295.8 202.2,296.2 202.5,296.5 202.9,297.0 203.2,297.4 203.5,297.8 203.9,298.2 204.2,298.7 204.5,299.1 204.8,299.5 205.1,300.0 205.4,300.5 205.6,301.0 205.6,301.8 205.5,302.2 205.2,302.8 204.8,303.2 204.5,303.6 204.2,304.0 203.8,304.4 203.4,304.8 203.0,305.1 202.6,305.5 202.2,305.8 201.8,306.2 201.4,306.5 201.0,306.8 200.5,307.2 200.1,307.5 199.7,307.8 199.2,308.1 198.8,308.4 198.2,308.6 197.8,308.9 197.2,309.1 196.8,309.3 196.2,309.5 195.5,309.7 195.0,309.8 194.2,309.9 193.5,309.9 192.8,309.8 192.2,309.6 191.8,309.3 191.2,309.0 190.9,308.8 190.5,308.3 190.2,308.0 189.8,307.5 189.5,307.0 189.3,306.5 189.0,306.0 188.8,305.5 188.7,305.0 188.5,304.3 188.4,303.8 188.3,303.0 188.2,302.5 188.2,301.8 188.2,301.0 188.3,300.5 188.4,299.8 188.5,299.2 188.7,298.5 188.9,298.0 189.0,297.5 189.3,297.0 189.5,296.5 189.8,296.0 190.2,295.5 190.5,295.1 190.8,294.8 191.2,294.2 191.5,294.0 192.0,293.6 192.5,293.3 193.0,293.0 193.5,292.8 194.0,292.6 194.8,292.5ZM216.8,297.5 217.5,297.4 218.2,297.4 219.0,297.4 219.8,297.4 220.5,297.4 221.2,297.4 222.0,297.4 222.8,297.5 223.2,297.5 224.0,297.6 224.8,297.7 225.2,297.8 226.0,297.9 226.7,298.0 227.2,298.1 227.9,298.2 228.5,298.4 229.0,298.5 229.8,298.7 230.2,298.9 230.8,299.1 231.3,299.3 231.8,299.5 232.2,299.8 232.8,300.1 233.2,300.5 233.5,300.8 233.9,301.2 234.1,301.8 234.2,302.5 234.0,303.1 233.8,303.5 233.3,304.0 233.0,304.2 232.5,304.6 232.0,304.8 231.5,305.1 231.0,305.3 230.4,305.5 229.8,305.7 229.2,305.8 228.5,306.0 228.0,306.1 227.2,306.2 226.8,306.3 226.0,306.4 225.2,306.5 224.8,306.5 224.0,306.5 223.2,306.6 222.5,306.6 221.8,306.6 221.0,306.6 220.2,306.5 219.8,306.5 219.0,306.4 218.2,306.3 217.6,306.2 217.0,306.2 216.2,306.0 215.8,305.9 215.0,305.8 214.5,305.6 214.0,305.5 213.4,305.2 212.8,305.0 212.2,304.8 211.8,304.6 211.2,304.3 210.8,304.0 210.4,303.8 210.0,303.4 209.5,303.0 209.2,302.7 209.0,302.2 208.9,301.5 209.1,301.0 209.5,300.5 209.8,300.2 210.2,299.8 210.7,299.5 211.0,299.2 211.5,299.0 212.0,298.7 212.5,298.5 213.2,298.2 213.8,298.1 214.2,297.9 215.0,297.8 215.5,297.7 216.2,297.6 216.8,297.5Z" fill="none" stroke="rgb(99,99,99)" stroke-width="0.49"/>
<path d="M194.4,292.0 195.0,291.9 195.8,291.9 196.5,291.9 197.0,292.0 197.8,292.2 198.2,292.4 198.8,292.6 199.2,292.9 199.7,293.2 200.1,293.5 200.5,293.8 201.0,294.2 201.3,294.5 201.8,295.0 202.0,295.2 202.5,295.7 202.8,296.0 203.2,296.5 203.5,296.8 203.9,297.2 204.2,297.6 204.6,298.0 205.0,298.4 205.4,298.8 205.8,299.1 206.2,299.4 206.8,299.7 207.2,299.8 207.8,299.7 208.4,299.5 208.9,299.2 209.4,299.0 209.9,298.8 210.5,298.5 211.0,298.3 211.5,298.1 212.0,297.9 212.5,297.7 213.2,297.5 213.8,297.4 214.4,297.2 215.0,297.1 215.8,297.0 216.2,297.0 217.0,296.9 217.8,296.9 218.5,296.8 219.2,296.8 220.0,296.8 220.8,296.8 221.5,296.9 222.2,296.9 223.0,297.0 223.5,297.0 224.2,297.1 225.0,297.2 225.5,297.2 226.2,297.4 227.0,297.5 227.5,297.6 228.2,297.7 228.8,297.8 229.5,298.0 230.0,298.1 230.5,298.3 231.2,298.5 231.8,298.7 232.2,298.9 232.8,299.1 233.2,299.4 233.8,299.7 234.2,300.0 234.6,300.2 235.0,300.7 235.2,301.0 235.5,301.5 235.7,302.2 235.6,303.0 235.3,303.5 235.0,303.9 234.6,304.2 234.2,304.5 233.8,304.9 233.2,305.2 232.8,305.4 232.2,305.6 231.8,305.8 231.2,306.0 230.5,306.2 230.0,306.3 229.2,306.5 228.8,306.6 228.0,306.7 227.5,306.8 226.8,306.9 226.0,307.0 225.5,307.0 224.8,307.1 224.0,307.1 223.2,307.1 222.5,307.1 221.8,307.1 221.0,307.1 220.2,307.0 219.6,307.0 219.0,306.9 218.2,306.9 217.5,306.8 217.0,306.7 216.2,306.6 215.8,306.5 215.0,306.3 214.5,306.2 213.8,306.0 213.2,305.9 212.8,305.7 212.1,305.5 211.5,305.3 211.0,305.0 210.5,304.8 210.0,304.6 209.5,304.3 209.0,304.1 208.5,303.8 208.0,303.6 207.5,303.5 206.8,303.4 206.2,303.5 205.8,303.8 205.2,304.1 204.8,304.4 204.3,304.8 204.0,305.0 203.5,305.4 203.1,305.8 202.7,306.0 202.2,306.4 201.8,306.8 201.4,307.0 201.0,307.3 200.5,307.7 200.0,308.0 199.6,308.2 199.2,308.5 198.7,308.8 198.2,309.0 197.7,309.2 197.0,309.5 196.5,309.7 196.0,309.8 195.3,310.0 194.8,310.1 194.0,310.1 193.2,310.1 192.7,310.0 192.1,309.8 191.6,309.5 191.2,309.2 190.8,308.9 190.4,308.5 190.0,308.1 189.8,307.7 189.5,307.2 189.2,306.8 188.9,306.2 188.7,305.8 188.5,305.0 188.3,304.5 188.2,304.0 188.1,303.2 188.0,302.5 188.0,301.8 188.0,301.0 188.1,300.2 188.2,299.5 188.3,299.0 188.5,298.4 188.7,297.8 188.9,297.2 189.1,296.8 189.4,296.2 189.7,295.8 190.0,295.3 190.2,294.9 190.6,294.5 191.0,294.0 191.3,293.8 191.8,293.3 192.2,293.0 192.5,292.8 193.0,292.5 193.5,292.2 194.2,292.0Z" fill="none" stroke="rgb(100,100,100)" stroke-width="0.49"/>
<path d="M195.6,291.0 196.2,291.0 196.8,291.0 197.5,291.2 198.0,291.3 198.5,291.5 199.0,291.8 199.5,292.1 200.0,292.4 200.4,292.8 200.8,293.0 201.2,293.5 201.5,293.8 202.0,294.2 202.3,294.5 202.8,294.9 203.1,295.2 203.5,295.7 203.8,296.0 204.2,296.4 204.7,296.8 205.0,297.0 205.5,297.4 206.0,297.7 206.5,297.9 207.0,298.0 207.8,298.1 208.2,298.0 209.0,297.8 209.5,297.7 210.0,297.5 210.7,297.3 211.2,297.1 211.8,297.0 212.5,296.8 213.0,296.7 213.8,296.6 214.2,296.5 215.0,296.4 215.8,296.3 216.5,296.3 217.0,296.2 217.8,296.2 218.5,296.2 219.2,296.2 220.0,296.2 220.8,296.2 221.2,296.3 222.0,296.3 222.8,296.3 223.5,296.4 224.2,296.5 224.8,296.5 225.5,296.6 226.2,296.7 226.8,296.8 227.5,296.9 228.1,297.0 228.8,297.1 229.3,297.2 230.0,297.4 230.5,297.5 231.2,297.7 231.8,297.9 232.2,298.0 232.9,298.2 233.5,298.5 234.0,298.7 234.5,299.0 235.0,299.2 235.4,299.5 235.8,299.8 236.2,300.2 236.6,300.5 236.9,301.0 237.2,301.5 237.3,302.0 237.3,302.8 237.1,303.2 236.8,303.8 236.5,304.1 236.1,304.5 235.8,304.8 235.2,305.2 234.8,305.5 234.2,305.7 233.7,305.9 233.2,306.1 232.8,306.3 232.2,306.5 231.5,306.7 231.0,306.8 230.3,307.0 229.8,307.1 229.0,307.2 228.5,307.3 227.8,307.4 227.2,307.5 226.5,307.6 225.8,307.6 225.0,307.7 224.2,307.7 223.5,307.7 222.8,307.7 222.0,307.7 221.2,307.7 220.5,307.7 219.8,307.6 219.0,307.6 218.4,307.5 217.8,307.4 217.0,307.3 216.4,307.2 215.8,307.1 215.0,307.0 214.5,306.9 213.8,306.8 213.2,306.6 212.8,306.5 212.0,306.3 211.5,306.1 211.0,305.9 210.5,305.8 209.8,305.5 209.2,305.3 208.8,305.1 208.2,305.0 207.5,304.8 206.8,304.8 206.0,304.9 205.5,305.1 205.0,305.3 204.5,305.6 204.0,305.9 203.5,306.2 203.1,306.5 202.7,306.8 202.2,307.1 201.8,307.4 201.3,307.7 200.9,308.0 200.5,308.2 200.0,308.5 199.5,308.8 199.0,309.1 198.5,309.3 198.0,309.5 197.5,309.8 196.7,310.0 196.2,310.1 195.7,310.2 195.0,310.4 194.2,310.4 193.5,310.4 192.8,310.3 192.2,310.1 191.8,309.9 191.2,309.6 190.8,309.2 190.5,309.0 190.0,308.5 189.8,308.1 189.5,307.8 189.2,307.2 188.9,306.8 188.7,306.2 188.5,305.8 188.2,305.1 188.1,304.5 188.0,304.0 187.9,303.2 187.8,302.5 187.8,301.8 187.8,301.0 187.8,300.2 187.9,299.5 188.0,299.0 188.2,298.2 188.4,297.8 188.6,297.2 188.8,296.8 189.0,296.2 189.3,295.8 189.6,295.2 189.9,294.8 190.2,294.3 190.5,294.0 190.9,293.5 191.2,293.1 191.7,292.8 192.0,292.5 192.5,292.1 193.0,291.8 193.5,291.5 194.0,291.3 194.5,291.2 195.2,291.0Z" fill="none" stroke="rgb(101,101,101)" stroke-width="0.48"/>
<path d="M195.6,289.8 196.2,289.7 197.0,289.7 197.5,289.8 198.2,290.0 198.8,290.2 199.2,290.4 199.7,290.8 200.1,291.0 200.5,291.4 200.9,291.8 201.2,292.0 201.7,292.5 202.0,292.8 202.4,293.2 202.8,293.6 203.2,294.0 203.5,294.3 203.9,294.8 204.2,295.0 204.8,295.4 205.2,295.8 205.6,296.0 206.1,296.2 206.8,296.5 207.2,296.6 208.0,296.6 208.8,296.5 209.2,296.4 210.0,296.3 210.5,296.2 211.2,296.1 211.8,296.0 212.5,295.9 213.2,295.8 213.8,295.7 214.5,295.6 215.2,295.6 216.0,295.5 216.8,295.5 217.2,295.5 218.0,295.5 218.8,295.5 219.2,295.5 220.0,295.5 220.8,295.6 221.5,295.6 222.2,295.6 223.0,295.7 223.6,295.8 224.2,295.8 225.0,295.9 225.8,296.0 226.2,296.0 227.0,296.1 227.8,296.2 228.2,296.3 229.0,296.5 229.5,296.6 230.2,296.7 230.8,296.8 231.5,297.0 232.0,297.1 232.5,297.3 233.2,297.5 233.8,297.7 234.2,297.9 234.8,298.1 235.2,298.3 235.8,298.5 236.2,298.8 236.7,299.1 237.2,299.4 237.6,299.8 238.0,300.1 238.3,300.5 238.7,301.0 238.9,301.5 239.0,302.2 239.0,302.5 238.8,303.2 238.6,303.8 238.2,304.2 238.0,304.5 237.5,304.9 237.1,305.2 236.7,305.5 236.2,305.8 235.8,306.1 235.2,306.3 234.8,306.5 234.1,306.8 233.5,307.0 233.0,307.1 232.5,307.3 231.8,307.5 231.2,307.6 230.5,307.7 230.0,307.8 229.2,307.9 228.8,308.0 228.0,308.1 227.2,308.2 226.5,308.2 226.0,308.3 225.2,308.3 224.5,308.4 223.8,308.4 223.0,308.4 222.2,308.4 221.5,308.4 220.8,308.3 220.0,308.3 219.5,308.2 218.8,308.2 218.0,308.1 217.2,308.0 216.8,308.0 216.0,307.9 215.2,307.8 214.8,307.7 214.0,307.5 213.5,307.4 212.8,307.3 212.2,307.1 211.7,307.0 211.0,306.8 210.5,306.7 209.9,306.5 209.2,306.3 208.7,306.2 208.0,306.0 207.5,305.9 206.8,305.9 206.0,306.0 205.5,306.1 205.0,306.3 204.5,306.5 204.0,306.8 203.5,307.0 203.0,307.3 202.5,307.6 202.0,308.0 201.5,308.2 201.1,308.5 200.7,308.8 200.2,309.0 199.8,309.3 199.2,309.5 198.8,309.8 198.2,310.0 197.5,310.2 197.0,310.4 196.5,310.5 195.8,310.7 195.2,310.8 194.5,310.8 193.8,310.8 193.1,310.8 192.5,310.6 192.0,310.4 191.5,310.2 191.0,309.9 190.6,309.5 190.2,309.2 189.8,308.8 189.5,308.4 189.2,308.0 188.9,307.5 188.7,307.0 188.4,306.5 188.2,306.0 188.0,305.4 187.8,304.8 187.7,304.2 187.6,303.5 187.5,303.0 187.4,302.2 187.4,301.5 187.4,300.8 187.5,300.0 187.6,299.5 187.7,298.8 187.8,298.2 188.0,297.7 188.2,297.0 188.4,296.5 188.7,296.0 188.9,295.5 189.2,295.0 189.5,294.5 189.8,294.2 190.0,293.8 190.4,293.2 190.8,292.9 191.1,292.5 191.5,292.1 191.8,291.8 192.2,291.3 192.7,291.0 193.0,290.7 193.5,290.4 194.0,290.2 194.5,290.0 195.2,289.8Z" fill="none" stroke="rgb(103,103,103)" stroke-width="0.48"/>
<path d="M196.1,287.5 196.8,287.4 197.5,287.4 198.2,287.5 198.8,287.6 199.3,287.8 199.8,288.0 200.2,288.3 200.7,288.8 201.0,289.1 201.4,289.5 201.7,290.0 202.0,290.4 202.2,290.8 202.6,291.2 202.9,291.8 203.2,292.1 203.5,292.5 204.0,293.0 204.2,293.3 204.8,293.7 205.1,294.0 205.5,294.3 206.0,294.6 206.5,294.8 207.1,295.0 207.8,295.1 208.5,295.2 209.2,295.1 210.0,295.1 210.8,295.0 211.2,295.0 212.0,294.9 212.8,294.9 213.5,294.8 214.2,294.8 214.9,294.8 215.5,294.7 216.2,294.7 217.0,294.7 217.8,294.7 218.3,294.8 219.0,294.8 219.8,294.8 220.5,294.8 221.2,294.9 222.0,294.9 222.8,295.0 223.2,295.0 224.0,295.1 224.8,295.2 225.4,295.2 226.0,295.3 226.8,295.4 227.4,295.5 228.0,295.6 228.8,295.7 229.2,295.8 230.0,295.9 230.5,296.0 231.2,296.2 231.8,296.3 232.5,296.5 233.0,296.6 233.6,296.8 234.2,296.9 234.8,297.1 235.2,297.3 235.8,297.5 236.4,297.8 236.9,298.0 237.4,298.2 237.8,298.5 238.2,298.8 238.8,299.1 239.2,299.5 239.5,299.8 239.9,300.2 240.2,300.7 240.5,301.2 240.6,301.8 240.7,302.5 240.5,303.2 240.3,303.8 240.0,304.2 239.8,304.5 239.3,305.0 239.0,305.3 238.5,305.6 238.0,306.0 237.5,306.2 237.1,306.5 236.5,306.8 236.0,307.0 235.5,307.2 235.0,307.4 234.5,307.5 233.8,307.8 233.2,307.9 232.8,308.0 232.0,308.2 231.5,308.3 230.8,308.4 230.2,308.5 229.5,308.6 228.8,308.7 228.2,308.8 227.5,308.9 226.8,308.9 226.0,309.0 225.4,309.0 224.8,309.0 224.0,309.0 223.2,309.0 222.5,309.0 221.8,309.0 221.0,309.0 220.5,309.0 219.8,308.9 219.0,308.9 218.2,308.8 217.5,308.8 217.0,308.7 216.2,308.6 215.5,308.5 215.0,308.4 214.2,308.3 213.8,308.2 213.0,308.1 212.5,308.0 211.8,307.8 211.2,307.7 210.5,307.5 210.0,307.4 209.3,307.2 208.8,307.1 208.0,307.0 207.5,306.9 206.8,306.9 206.0,307.0 205.5,307.1 204.9,307.2 204.3,307.5 203.8,307.7 203.2,308.0 202.8,308.2 202.4,308.5 201.9,308.8 201.5,309.0 201.0,309.3 200.5,309.5 200.0,309.8 199.5,310.0 199.0,310.3 198.4,310.5 197.8,310.7 197.2,310.9 196.8,311.0 196.0,311.2 195.5,311.3 194.8,311.3 194.0,311.3 193.2,311.3 192.8,311.2 192.2,311.0 191.6,310.8 191.2,310.5 190.8,310.2 190.2,309.8 189.9,309.5 189.5,309.0 189.2,308.7 188.9,308.2 188.6,307.8 188.3,307.2 188.1,306.8 187.9,306.2 187.7,305.8 187.5,305.1 187.3,304.5 187.2,304.0 187.1,303.2 187.0,302.5 187.0,301.8 187.0,301.0 187.1,300.2 187.1,299.5 187.2,298.9 187.4,298.2 187.5,297.8 187.8,297.0 187.9,296.5 188.2,296.0 188.4,295.5 188.6,295.0 188.9,294.5 189.2,294.0 189.5,293.6 189.8,293.2 190.1,292.8 190.5,292.2 190.8,291.9 191.1,291.5 191.5,291.0 191.8,290.7 192.1,290.2 192.5,289.8 192.8,289.5 193.2,289.0 193.6,288.8 194.0,288.4 194.5,288.1 195.0,287.9 195.5,287.7 196.1,287.5Z" fill="none" stroke="rgb(104,104,104)" stroke-width="0.47"/>
<path d="M197.4,283.5 198.0,283.5 198.6,283.5 199.2,283.6 199.8,283.8 200.4,284.0 200.9,284.2 201.3,284.5 201.8,284.9 202.1,285.2 202.5,285.7 202.7,286.1 203.0,286.5 203.2,287.1 203.5,287.7 203.7,288.2 203.8,288.8 204.0,289.3 204.2,290.0 204.4,290.5 204.7,291.0 205.0,291.5 205.2,291.9 205.6,292.2 206.0,292.6 206.5,293.0 207.0,293.2 207.5,293.5 208.0,293.6 208.8,293.7 209.2,293.8 210.0,293.9 210.8,293.9 211.5,293.9 212.2,293.9 213.0,293.9 213.8,293.9 214.5,293.9 215.2,293.9 216.0,293.9 216.8,294.0 217.5,294.0 218.0,294.0 218.7,294.0 219.5,294.1 220.2,294.1 221.0,294.2 221.8,294.2 222.2,294.3 223.0,294.4 223.8,294.4 224.5,294.5 225.0,294.5 225.8,294.6 226.5,294.7 227.0,294.8 227.8,294.9 228.5,295.0 229.0,295.1 229.8,295.2 230.2,295.3 231.0,295.4 231.5,295.5 232.2,295.7 232.8,295.8 233.5,295.9 234.0,296.1 234.6,296.2 235.2,296.4 235.8,296.6 236.3,296.8 236.8,297.0 237.4,297.2 237.9,297.5 238.4,297.8 238.9,298.0 239.3,298.2 239.8,298.5 240.2,298.9 240.7,299.2 241.0,299.6 241.4,300.0 241.7,300.5 242.0,301.0 242.2,301.5 242.3,302.0 242.3,302.8 242.1,303.2 241.9,303.8 241.6,304.2 241.3,304.8 241.0,305.0 240.5,305.5 240.2,305.8 239.8,306.1 239.2,306.4 238.8,306.7 238.3,306.9 237.8,307.2 237.2,307.4 236.8,307.6 236.2,307.8 235.6,308.0 235.0,308.2 234.5,308.3 233.9,308.5 233.2,308.7 232.8,308.8 232.0,308.9 231.5,309.0 230.8,309.1 230.0,309.2 229.5,309.3 228.8,309.4 228.0,309.5 227.5,309.5 226.8,309.6 226.0,309.6 225.2,309.6 224.5,309.7 223.8,309.7 223.0,309.7 222.2,309.7 221.5,309.7 220.8,309.6 220.0,309.6 219.2,309.6 218.5,309.5 218.0,309.5 217.2,309.4 216.5,309.3 215.9,309.2 215.2,309.2 214.5,309.1 214.0,309.0 213.2,308.9 212.6,308.8 212.0,308.6 211.3,308.5 210.8,308.4 210.0,308.2 209.5,308.1 208.8,308.0 208.2,307.9 207.5,307.8 206.8,307.8 206.0,307.9 205.3,308.0 204.8,308.2 204.2,308.3 203.8,308.5 203.2,308.8 202.8,309.0 202.2,309.3 201.8,309.6 201.2,309.8 200.8,310.1 200.2,310.3 199.8,310.6 199.2,310.8 198.8,311.0 198.1,311.2 197.5,311.4 197.0,311.6 196.2,311.7 195.8,311.8 195.0,311.9 194.2,311.9 193.5,311.8 193.0,311.8 192.2,311.6 191.8,311.4 191.2,311.1 190.8,310.8 190.4,310.5 190.0,310.2 189.5,309.8 189.2,309.4 188.9,309.0 188.6,308.5 188.2,308.0 188.0,307.5 187.8,307.0 187.5,306.5 187.3,306.0 187.2,305.5 187.0,304.9 186.9,304.2 186.8,303.7 186.7,303.0 186.6,302.2 186.6,301.5 186.6,300.8 186.6,300.0 186.7,299.2 186.8,298.8 187.0,298.0 187.1,297.5 187.3,297.0 187.5,296.4 187.8,295.8 188.0,295.2 188.2,294.8 188.5,294.2 188.8,293.8 189.0,293.4 189.2,293.0 189.5,292.5 189.9,292.0 190.2,291.5 190.5,291.0 190.8,290.7 191.0,290.2 191.3,289.8 191.6,289.2 191.9,288.8 192.1,288.2 192.4,287.8 192.6,287.2 192.9,286.8 193.1,286.2 193.4,285.8 193.8,285.4 194.1,285.0 194.5,284.7 195.0,284.3 195.5,284.0 196.0,283.8 196.5,283.7 197.3,283.5Z" fill="none" stroke="rgb(106,106,106)" stroke-width="0.47"/>
<path d="M197.2,281.0 197.8,281.0 198.5,281.0 199.0,281.0 199.8,281.1 200.4,281.2 201.0,281.4 201.5,281.6 202.0,281.8 202.5,282.1 203.0,282.4 203.5,282.7 203.8,283.0 204.2,283.4 204.6,283.8 204.9,284.2 205.2,284.7 205.5,285.2 205.8,285.7 206.0,286.2 206.1,286.8 206.3,287.2 206.5,287.9 206.7,288.5 206.8,289.0 207.0,289.5 207.3,290.0 207.6,290.5 208.0,290.9 208.4,291.2 208.8,291.5 209.2,291.8 209.9,292.0 210.5,292.2 211.0,292.3 211.8,292.4 212.4,292.5 213.0,292.6 213.8,292.7 214.5,292.7 215.0,292.8 215.8,292.8 216.5,292.9 217.2,293.0 217.8,293.0 218.5,293.1 219.2,293.1 220.0,293.2 220.6,293.2 221.2,293.3 222.0,293.4 222.8,293.5 223.2,293.5 224.0,293.6 224.8,293.7 225.5,293.8 226.0,293.8 226.8,293.9 227.5,294.0 228.0,294.1 228.8,294.2 229.4,294.2 230.0,294.3 230.8,294.5 231.2,294.6 232.0,294.7 232.5,294.8 233.2,294.9 233.8,295.1 234.5,295.2 235.0,295.4 235.5,295.5 236.2,295.7 236.8,295.9 237.2,296.1 237.8,296.2 238.4,296.5 239.0,296.7 239.5,297.0 240.0,297.2 240.5,297.5 240.9,297.8 241.3,298.0 241.8,298.3 242.2,298.7 242.6,299.0 243.0,299.4 243.3,299.8 243.7,300.2 243.9,300.8 244.1,301.2 244.3,301.8 244.3,302.5 244.2,303.0 244.0,303.7 243.8,304.2 243.5,304.6 243.2,305.0 242.8,305.5 242.4,305.8 242.0,306.1 241.5,306.5 241.1,306.8 240.7,307.0 240.2,307.2 239.7,307.5 239.2,307.8 238.6,308.0 238.0,308.2 237.5,308.4 237.0,308.6 236.5,308.8 235.8,309.0 235.2,309.1 234.8,309.3 234.0,309.4 233.5,309.5 232.8,309.7 232.2,309.8 231.5,309.9 230.9,310.0 230.2,310.1 229.5,310.2 228.8,310.2 228.2,310.3 227.5,310.4 226.8,310.4 226.0,310.4 225.2,310.5 224.5,310.5 223.8,310.5 223.0,310.5 222.2,310.5 221.5,310.5 220.8,310.5 220.0,310.4 219.2,310.4 218.5,310.3 217.8,310.3 217.2,310.2 216.5,310.2 215.8,310.1 215.0,310.0 214.5,310.0 213.8,309.9 213.0,309.8 212.5,309.7 211.8,309.6 211.2,309.5 210.5,309.3 210.0,309.2 209.2,309.1 208.5,309.0 208.0,309.0 207.2,308.9 206.5,308.9 205.8,309.0 205.2,309.1 204.6,309.2 204.0,309.5 203.5,309.7 203.0,309.9 202.5,310.1 202.0,310.4 201.5,310.6 201.0,310.9 200.5,311.1 200.0,311.3 199.5,311.6 199.0,311.8 198.3,312.0 197.8,312.2 197.2,312.3 196.5,312.5 196.0,312.5 195.2,312.6 194.5,312.6 193.8,312.6 193.0,312.5 192.5,312.4 192.0,312.2 191.4,312.0 191.0,311.8 190.5,311.5 190.0,311.1 189.6,310.8 189.2,310.4 188.9,310.0 188.5,309.5 188.2,309.2 188.0,308.8 187.7,308.2 187.4,307.8 187.2,307.2 187.0,306.8 186.8,306.1 186.5,305.5 186.4,305.0 186.3,304.2 186.2,303.8 186.1,303.0 186.0,302.2 186.0,301.8 186.0,301.0 186.0,300.5 186.1,299.8 186.2,299.0 186.3,298.5 186.4,297.8 186.6,297.2 186.8,296.6 187.0,296.0 187.2,295.5 187.4,295.0 187.6,294.5 187.9,294.0 188.1,293.5 188.4,293.0 188.7,292.5 188.9,292.0 189.2,291.5 189.5,291.0 189.7,290.5 189.9,290.0 190.1,289.5 190.3,289.0 190.5,288.5 190.7,287.8 190.8,287.2 191.0,286.5 191.1,286.0 191.2,285.5 191.5,284.8 191.7,284.2 192.0,283.8 192.2,283.4 192.5,283.0 193.0,282.5 193.3,282.2 193.8,282.0 194.2,281.7 194.8,281.5 195.5,281.3 196.0,281.2 196.8,281.0Z" fill="none" stroke="rgb(107,107,107)" stroke-width="0.46"/>
<path d="M195.6,278.8 196.2,278.7 197.0,278.6 197.8,278.6 198.5,278.6 199.2,278.6 200.0,278.7 200.5,278.8 201.2,278.9 201.8,279.0 202.4,279.2 203.0,279.5 203.5,279.7 204.0,279.9 204.5,280.2 205.0,280.5 205.4,280.8 205.8,281.0 206.2,281.4 206.7,281.8 207.0,282.1 207.4,282.5 207.7,283.0 208.0,283.4 208.2,283.8 208.5,284.2 208.8,284.8 209.0,285.2 209.2,285.8 209.5,286.3 209.8,286.9 210.0,287.4 210.2,287.8 210.5,288.2 210.9,288.8 211.2,289.0 211.8,289.4 212.2,289.7 212.8,290.0 213.2,290.2 213.8,290.4 214.2,290.5 215.0,290.7 215.5,290.8 216.2,291.0 216.7,291.1 217.5,291.2 218.0,291.3 218.8,291.4 219.3,291.5 220.0,291.6 220.8,291.7 221.2,291.8 222.0,291.9 222.8,292.0 223.2,292.1 224.0,292.2 224.7,292.2 225.2,292.3 226.0,292.4 226.6,292.5 227.2,292.6 228.0,292.7 228.5,292.8 229.2,292.8 230.0,293.0 230.5,293.0 231.2,293.1 231.9,293.2 232.5,293.4 233.2,293.5 233.8,293.6 234.5,293.7 235.0,293.8 235.7,294.0 236.2,294.1 236.8,294.3 237.5,294.5 238.0,294.6 238.5,294.8 239.2,295.0 239.8,295.2 240.2,295.4 240.8,295.6 241.2,295.8 241.8,296.0 242.2,296.3 242.8,296.5 243.2,296.8 243.8,297.1 244.2,297.4 244.7,297.8 245.0,298.0 245.5,298.4 245.8,298.8 246.2,299.2 246.5,299.5 246.8,300.0 247.1,300.5 247.3,301.0 247.4,301.8 247.5,302.5 247.4,303.2 247.2,303.8 247.0,304.2 246.7,304.8 246.3,305.2 246.0,305.7 245.7,306.0 245.2,306.4 244.8,306.8 244.5,307.0 244.0,307.3 243.5,307.6 243.0,307.9 242.5,308.2 242.0,308.4 241.5,308.7 241.0,308.9 240.5,309.1 240.0,309.3 239.4,309.5 238.8,309.7 238.2,309.9 237.8,310.0 237.0,310.2 236.5,310.4 236.0,310.5 235.2,310.7 234.8,310.8 234.0,310.9 233.5,311.0 232.8,311.1 232.0,311.2 231.5,311.3 230.8,311.4 230.0,311.5 229.5,311.5 228.8,311.6 228.0,311.7 227.2,311.7 226.5,311.7 226.0,311.8 225.2,311.8 224.5,311.8 223.8,311.8 223.0,311.8 222.2,311.8 221.5,311.8 220.8,311.8 220.2,311.8 219.5,311.7 218.8,311.7 218.0,311.6 217.2,311.6 216.5,311.5 215.9,311.5 215.2,311.4 214.5,311.4 213.8,311.3 213.2,311.2 212.5,311.2 211.8,311.1 211.2,311.0 210.5,310.9 209.8,310.8 209.2,310.7 208.5,310.7 207.8,310.6 207.0,310.6 206.2,310.6 205.5,310.7 205.0,310.8 204.3,311.0 203.8,311.2 203.2,311.4 202.8,311.6 202.2,311.8 201.8,312.1 201.2,312.3 200.7,312.5 200.1,312.8 199.5,313.0 199.0,313.2 198.5,313.3 197.9,313.5 197.2,313.7 196.8,313.8 196.0,313.9 195.2,313.9 194.5,314.0 193.8,313.9 193.0,313.9 192.5,313.8 191.8,313.5 191.2,313.3 190.8,313.1 190.2,312.8 189.9,312.5 189.5,312.2 189.0,311.8 188.7,311.5 188.2,311.0 188.0,310.7 187.6,310.2 187.3,309.8 187.0,309.2 186.8,308.8 186.5,308.3 186.3,307.8 186.0,307.2 185.9,306.8 185.7,306.2 185.5,305.5 185.4,305.0 185.2,304.3 185.2,303.8 185.1,303.0 185.0,302.2 185.0,301.7 185.0,301.1 185.0,300.5 185.1,299.8 185.2,299.0 185.2,298.5 185.4,297.8 185.5,297.2 185.7,296.5 185.9,296.0 186.0,295.5 186.2,294.9 186.5,294.3 186.7,293.8 186.9,293.2 187.2,292.8 187.4,292.2 187.6,291.8 187.8,291.2 188.0,290.7 188.2,290.0 188.3,289.5 188.5,288.8 188.6,288.2 188.6,287.5 188.7,286.8 188.8,286.2 188.9,285.5 189.0,284.8 189.2,284.2 189.3,283.8 189.5,283.2 189.8,282.8 190.0,282.2 190.4,281.8 190.8,281.3 191.0,281.0 191.5,280.5 191.8,280.2 192.2,280.0 192.8,279.6 193.2,279.4 193.8,279.2 194.4,279.0 195.0,278.9 195.6,278.8Z" fill="none" stroke="rgb(108,108,108)" stroke-width="0.46"/>
<path d="M323.8,300.5 324.5,300.4 325.0,300.7 325.3,301.0 325.6,301.5 325.6,302.2 325.4,302.8 325.0,303.2 324.5,303.4 323.8,303.3 323.4,303.0 323.1,302.5 323.0,301.8 323.3,301.0 323.5,300.7Z" fill="none" stroke="rgb(85,85,85)" stroke-width="0.55"/>
<path d="M323.4,299.5 324.0,299.3 324.8,299.4 325.2,299.6 325.8,299.9 326.0,300.2 326.3,300.8 326.5,301.2 326.6,302.0 326.5,302.6 326.3,303.2 326.0,303.6 325.6,304.0 325.2,304.3 324.5,304.5 324.0,304.5 323.5,304.3 323.0,304.0 322.8,303.7 322.5,303.2 322.2,302.5 322.2,302.0 322.2,301.3 322.4,300.8 322.7,300.2 323.0,299.8 323.4,299.5Z" fill="none" stroke="rgb(87,87,87)" stroke-width="0.54"/>
<path d="M323.9,298.5 324.5,298.5 325.0,298.6 325.5,298.8 326.0,299.1 326.4,299.5 326.8,299.9 327.0,300.3 327.2,301.0 327.3,301.5 327.3,302.2 327.2,302.8 327.0,303.5 326.8,303.9 326.5,304.2 326.0,304.7 325.5,305.0 325.0,305.2 324.5,305.3 323.8,305.3 323.2,305.1 322.8,304.8 322.5,304.5 322.1,304.0 321.9,303.5 321.7,303.0 321.6,302.2 321.6,301.5 321.7,300.8 321.9,300.2 322.2,299.8 322.5,299.3 322.8,299.0 323.2,298.7 323.9,298.5Z" fill="none" stroke="rgb(88,88,88)" stroke-width="0.54"/>
<path d="M324.0,297.8 324.5,297.7 325.0,297.8 325.6,298.0 326.1,298.2 326.5,298.5 327.0,299.0 327.2,299.3 327.5,299.8 327.8,300.2 328.0,301.0 328.1,301.5 328.1,302.2 328.0,302.8 327.8,303.5 327.5,304.0 327.2,304.5 327.0,304.8 326.5,305.2 326.1,305.5 325.6,305.8 325.0,306.0 324.5,306.0 323.8,306.0 323.2,305.9 322.8,305.6 322.3,305.2 322.0,304.9 321.7,304.5 321.5,304.0 321.2,303.4 321.1,302.8 321.0,302.0 321.1,301.2 321.2,300.5 321.4,300.0 321.6,299.5 321.9,299.0 322.2,298.6 322.7,298.2 323.1,298.0 323.8,297.8Z" fill="none" stroke="rgb(89,89,89)" stroke-width="0.53"/>
<path d="M324.2,297.0 324.5,297.0 325.2,297.1 325.8,297.3 326.3,297.5 326.8,297.8 327.2,298.2 327.6,298.5 328.0,299.0 328.2,299.5 328.5,300.0 328.7,300.5 328.8,301.0 328.9,301.8 328.8,302.5 328.7,303.0 328.5,303.7 328.2,304.2 328.0,304.7 327.7,305.0 327.3,305.5 327.0,305.8 326.5,306.1 326.0,306.4 325.5,306.6 324.8,306.7 324.0,306.7 323.2,306.6 322.8,306.3 322.2,306.0 322.0,305.8 321.5,305.2 321.2,304.8 321.0,304.3 320.8,303.8 320.6,303.2 320.5,302.5 320.5,302.0 320.5,301.5 320.6,300.8 320.8,300.1 321.0,299.5 321.2,299.0 321.5,298.6 321.8,298.2 322.2,297.8 322.6,297.5 323.1,297.2 323.8,297.0Z" fill="none" stroke="rgb(91,91,91)" stroke-width="0.53"/>
<path d="M323.1,296.5 323.8,296.3 324.5,296.3 325.2,296.4 325.8,296.5 326.5,296.8 326.9,297.0 327.3,297.2 327.8,297.6 328.2,298.0 328.5,298.4 328.8,298.8 329.1,299.2 329.3,299.8 329.5,300.3 329.7,301.0 329.7,301.8 329.7,302.5 329.5,303.2 329.4,303.8 329.1,304.2 328.8,304.8 328.5,305.2 328.2,305.5 327.8,306.0 327.5,306.2 327.0,306.6 326.5,306.9 326.0,307.1 325.5,307.3 324.8,307.4 324.0,307.4 323.2,307.3 322.8,307.1 322.2,306.8 321.9,306.5 321.5,306.1 321.2,305.8 320.9,305.2 320.6,304.8 320.4,304.2 320.2,303.8 320.1,303.0 320.0,302.3 320.0,301.8 320.0,301.2 320.1,300.5 320.2,299.9 320.5,299.2 320.7,298.8 321.0,298.3 321.2,297.9 321.6,297.5 322.0,297.1 322.5,296.8 323.0,296.5Z" fill="none" stroke="rgb(92,92,92)" stroke-width="0.52"/>
<path d="M323.1,295.8 323.8,295.6 324.5,295.5 325.2,295.6 326.0,295.7 326.5,295.9 327.0,296.1 327.5,296.4 328.0,296.7 328.4,297.0 328.8,297.3 329.1,297.8 329.5,298.2 329.8,298.5 330.1,299.0 330.3,299.5 330.5,300.0 330.7,300.8 330.8,301.2 330.8,302.0 330.8,302.7 330.6,303.2 330.4,303.8 330.2,304.2 329.9,304.8 329.5,305.2 329.2,305.6 328.9,306.0 328.5,306.4 328.0,306.8 327.7,307.0 327.2,307.3 326.8,307.5 326.2,307.8 325.5,307.9 325.0,308.0 324.2,308.1 323.6,308.0 323.0,307.8 322.5,307.6 322.0,307.3 321.6,307.0 321.2,306.7 320.9,306.2 320.6,305.8 320.3,305.2 320.0,304.8 319.9,304.2 319.7,303.8 319.6,303.0 319.5,302.2 319.5,301.8 319.5,301.2 319.6,300.5 319.8,299.8 319.9,299.2 320.1,298.8 320.4,298.2 320.7,297.8 321.0,297.3 321.2,297.0 321.8,296.5 322.1,296.2 322.6,296.0 323.1,295.8Z" fill="none" stroke="rgb(93,93,93)" stroke-width="0.51"/>
<path d="M323.3,295.0 324.0,294.9 324.8,294.8 325.5,294.9 326.2,295.0 326.8,295.2 327.2,295.4 327.8,295.6 328.2,295.9 328.8,296.2 329.2,296.5 329.5,296.8 330.0,297.2 330.3,297.5 330.7,298.0 331.0,298.3 331.3,298.8 331.7,299.2 332.0,299.8 332.2,300.2 332.4,300.8 332.5,301.3 332.5,302.0 332.4,302.5 332.2,303.0 332.0,303.5 331.7,304.0 331.3,304.5 331.0,304.9 330.7,305.2 330.3,305.8 330.0,306.1 329.5,306.5 329.2,306.8 328.8,307.1 328.2,307.5 327.8,307.8 327.3,308.0 326.8,308.2 326.2,308.4 325.8,308.5 325.0,308.7 324.2,308.7 323.5,308.6 323.0,308.4 322.5,308.2 322.0,308.0 321.5,307.6 321.1,307.2 320.8,306.9 320.5,306.5 320.1,306.0 319.9,305.5 319.6,305.0 319.5,304.5 319.2,303.8 319.1,303.2 319.1,302.5 319.0,301.8 319.1,301.0 319.2,300.2 319.3,299.7 319.5,299.0 319.7,298.5 319.9,298.0 320.2,297.5 320.5,297.0 320.8,296.7 321.2,296.2 321.5,296.0 322.0,295.6 322.5,295.3 323.0,295.1Z" fill="none" stroke="rgb(95,95,95)" stroke-width="0.51"/>
<path d="M323.8,294.2 324.5,294.2 325.2,294.2 325.9,294.2 326.5,294.4 327.0,294.5 327.7,294.8 328.2,295.0 328.8,295.2 329.2,295.5 329.6,295.8 330.0,296.0 330.5,296.4 330.9,296.8 331.2,297.0 331.8,297.5 332.1,297.8 332.5,298.2 332.8,298.5 333.2,298.9 333.6,299.2 334.0,299.7 334.3,300.0 334.6,300.5 334.9,301.0 335.1,301.5 335.0,302.2 334.8,302.7 334.5,303.1 334.1,303.5 333.8,303.9 333.4,304.2 333.0,304.6 332.5,305.0 332.2,305.2 331.8,305.7 331.4,306.0 331.0,306.3 330.5,306.7 330.1,307.0 329.8,307.3 329.2,307.6 328.8,307.9 328.2,308.2 327.8,308.5 327.2,308.7 326.8,308.9 326.2,309.0 325.5,309.1 324.7,309.2 324.0,309.2 323.2,309.0 322.8,308.9 322.2,308.7 321.8,308.4 321.3,308.0 321.0,307.8 320.5,307.2 320.2,306.9 319.9,306.5 319.6,306.0 319.4,305.5 319.2,305.0 319.0,304.4 318.8,303.8 318.7,303.2 318.6,302.5 318.6,301.8 318.6,301.0 318.7,300.2 318.8,299.8 319.0,299.1 319.2,298.5 319.4,298.0 319.6,297.5 319.9,297.0 320.2,296.6 320.5,296.2 321.0,295.8 321.2,295.5 321.8,295.1 322.2,294.8 322.8,294.6 323.2,294.4 323.8,294.2Z" fill="none" stroke="rgb(96,96,96)" stroke-width="0.50"/>
<path d="M323.6,294.0 324.2,293.9 325.0,293.9 325.8,293.9 326.4,294.0 327.0,294.1 327.5,294.3 328.1,294.5 328.6,294.8 329.1,295.0 329.6,295.2 330.0,295.5 330.5,295.9 331.0,296.2 331.4,296.5 331.8,296.8 332.2,297.2 332.6,297.5 333.0,297.8 333.5,298.2 333.8,298.5 334.2,298.9 334.8,299.2 335.1,299.5 335.5,299.8 336.0,300.1 336.5,300.5 337.0,300.7 337.5,300.9 338.0,301.1 338.8,301.1 339.2,301.0 340.0,300.8 340.5,300.6 341.1,300.5 341.8,300.4 342.5,300.3 343.2,300.3 344.0,300.4 344.5,300.5 345.1,300.8 345.5,301.1 345.8,301.5 345.8,302.0 345.5,302.6 345.0,303.0 344.5,303.2 344.0,303.3 343.2,303.3 342.5,303.3 341.8,303.3 341.2,303.2 340.5,303.0 340.0,302.9 339.5,302.7 338.8,302.5 338.0,302.5 337.2,302.7 336.8,302.9 336.2,303.2 335.8,303.5 335.3,303.8 335.0,304.0 334.5,304.3 334.0,304.6 333.5,305.0 333.2,305.2 332.8,305.5 332.2,305.9 331.8,306.2 331.4,306.5 331.0,306.8 330.5,307.2 330.0,307.5 329.7,307.8 329.2,308.0 328.8,308.3 328.2,308.6 327.8,308.8 327.2,309.0 326.5,309.2 326.0,309.3 325.2,309.4 324.5,309.5 323.8,309.4 323.1,309.2 322.5,309.0 322.0,308.8 321.6,308.5 321.2,308.2 320.8,307.8 320.4,307.5 320.0,307.0 319.8,306.6 319.5,306.1 319.2,305.6 319.0,305.0 318.8,304.5 318.7,304.0 318.5,303.2 318.5,302.8 318.4,302.0 318.4,301.2 318.5,300.5 318.6,300.0 318.7,299.2 318.9,298.8 319.1,298.2 319.3,297.8 319.5,297.2 319.8,296.8 320.2,296.2 320.5,295.9 320.9,295.5 321.2,295.2 321.8,294.8 322.2,294.5 322.8,294.3 323.2,294.1Z" fill="none" stroke="rgb(97,97,97)" stroke-width="0.50"/>
<path d="M323.6,293.8 324.2,293.7 325.0,293.6 325.8,293.6 326.5,293.8 327.0,293.9 327.5,294.0 328.2,294.2 328.8,294.5 329.2,294.7 329.7,295.0 330.2,295.2 330.6,295.5 331.0,295.8 331.5,296.2 332.0,296.5 332.3,296.8 332.8,297.1 333.2,297.5 333.6,297.8 334.0,298.0 334.5,298.4 335.0,298.7 335.5,299.0 336.0,299.2 336.5,299.4 337.0,299.6 337.8,299.7 338.2,299.8 338.8,299.7 339.5,299.7 340.2,299.6 340.8,299.5 341.5,299.4 342.2,299.3 343.0,299.3 343.8,299.3 344.5,299.4 345.2,299.5 345.8,299.6 346.4,299.8 347.0,300.0 347.5,300.2 347.9,300.5 348.2,300.8 348.6,301.2 348.7,302.0 348.5,302.7 348.2,303.0 347.8,303.4 347.2,303.7 346.8,303.9 346.2,304.1 345.5,304.2 345.0,304.3 344.2,304.4 343.5,304.4 342.8,304.4 342.0,304.3 341.4,304.2 340.8,304.1 340.0,304.0 339.5,303.9 338.8,303.9 338.0,303.8 337.2,303.9 336.7,304.0 336.0,304.2 335.5,304.4 335.0,304.7 334.5,304.9 334.0,305.2 333.6,305.5 333.2,305.8 332.8,306.0 332.2,306.4 331.8,306.7 331.3,307.0 330.9,307.2 330.5,307.5 330.0,307.9 329.5,308.2 329.0,308.4 328.5,308.7 328.0,308.9 327.5,309.1 327.0,309.3 326.2,309.5 325.8,309.6 325.0,309.6 324.2,309.6 323.5,309.5 323.0,309.4 322.5,309.2 322.0,309.0 321.5,308.7 321.0,308.3 320.7,308.0 320.2,307.5 320.0,307.2 319.7,306.8 319.4,306.2 319.1,305.8 318.9,305.2 318.7,304.8 318.5,304.0 318.4,303.5 318.3,302.8 318.3,302.0 318.3,301.2 318.3,300.5 318.5,299.8 318.6,299.2 318.8,298.7 319.0,298.0 319.2,297.5 319.5,297.0 319.8,296.6 320.0,296.2 320.4,295.8 320.8,295.3 321.1,295.0 321.5,294.7 322.0,294.4 322.5,294.1 323.0,293.9 323.6,293.8Z" fill="none" stroke="rgb(99,99,99)" stroke-width="0.49"/>
<path d="M323.4,293.5 324.0,293.4 324.8,293.3 325.5,293.3 326.2,293.4 327.0,293.5 327.5,293.6 328.0,293.8 328.6,294.0 329.2,294.2 329.7,294.5 330.1,294.8 330.6,295.0 331.0,295.3 331.5,295.6 332.0,296.0 332.4,296.2 332.8,296.5 333.2,296.8 333.8,297.2 334.2,297.5 334.7,297.8 335.1,298.0 335.7,298.2 336.2,298.5 336.8,298.6 337.5,298.7 338.0,298.8 338.8,298.8 339.4,298.8 340.0,298.7 340.8,298.6 341.5,298.5 342.1,298.5 342.8,298.5 343.5,298.5 344.2,298.5 344.7,298.5 345.5,298.6 346.2,298.7 346.8,298.8 347.5,299.0 348.0,299.2 348.5,299.4 349.0,299.6 349.5,299.9 349.9,300.2 350.2,300.6 350.6,301.0 350.8,301.5 350.8,302.2 350.7,302.8 350.3,303.2 350.0,303.6 349.5,304.0 349.0,304.2 348.5,304.5 348.0,304.7 347.5,304.8 346.8,305.0 346.2,305.1 345.5,305.2 345.0,305.3 344.2,305.3 343.5,305.3 342.8,305.3 342.2,305.2 341.5,305.1 340.8,305.0 340.2,305.0 339.5,304.9 338.8,304.8 338.0,304.8 337.2,304.8 336.5,304.9 336.0,305.0 335.4,305.2 334.8,305.5 334.2,305.8 333.8,306.0 333.3,306.2 332.9,306.5 332.5,306.8 332.0,307.0 331.5,307.4 331.0,307.7 330.5,308.0 330.0,308.2 329.6,308.5 329.1,308.8 328.6,309.0 328.0,309.2 327.5,309.4 327.0,309.6 326.3,309.8 325.8,309.8 325.0,309.9 324.2,309.9 323.5,309.8 323.0,309.7 322.5,309.5 322.0,309.2 321.5,308.9 321.0,308.6 320.6,308.2 320.2,307.8 320.0,307.5 319.6,307.0 319.3,306.5 319.0,306.0 318.8,305.5 318.6,305.0 318.5,304.5 318.3,303.8 318.2,303.2 318.1,302.5 318.1,301.8 318.1,301.0 318.2,300.2 318.2,299.7 318.4,299.0 318.6,298.5 318.8,298.0 319.0,297.4 319.2,296.9 319.5,296.5 319.8,296.0 320.2,295.5 320.5,295.2 321.0,294.8 321.3,294.5 321.8,294.2 322.2,293.9 322.8,293.7 323.4,293.5Z" fill="none" stroke="rgb(100,100,100)" stroke-width="0.49"/>
<path d="M323.7,293.0 324.2,292.9 325.0,292.8 325.8,292.9 326.5,292.9 327.0,293.0 327.8,293.2 328.2,293.3 328.8,293.5 329.3,293.8 329.8,294.0 330.3,294.2 330.8,294.5 331.2,294.8 331.8,295.1 332.2,295.4 332.7,295.8 333.1,296.0 333.5,296.3 334.0,296.6 334.5,296.9 335.0,297.1 335.5,297.3 336.0,297.5 336.8,297.7 337.2,297.8 338.0,297.9 338.8,297.9 339.5,297.9 340.2,297.8 341.0,297.8 341.5,297.7 342.2,297.7 343.0,297.7 343.8,297.7 344.5,297.7 345.2,297.7 345.8,297.8 346.5,297.9 347.1,298.0 347.8,298.1 348.2,298.3 349.0,298.5 349.5,298.7 350.0,298.9 350.5,299.2 351.0,299.5 351.3,299.8 351.8,300.1 352.1,300.5 352.4,301.0 352.6,301.5 352.6,302.2 352.5,302.8 352.2,303.2 351.8,303.8 351.5,304.1 351.0,304.4 350.5,304.7 350.0,305.0 349.5,305.2 349.0,305.4 348.5,305.5 347.8,305.7 347.2,305.8 346.5,305.9 346.0,306.0 345.2,306.1 344.5,306.1 343.8,306.1 343.0,306.1 342.2,306.0 341.8,306.0 341.0,305.9 340.2,305.8 339.7,305.8 339.0,305.7 338.2,305.6 337.5,305.6 336.8,305.7 336.2,305.8 335.5,306.0 335.0,306.2 334.5,306.4 334.0,306.6 333.5,306.8 333.0,307.1 332.5,307.4 332.0,307.7 331.5,308.0 331.0,308.2 330.5,308.5 330.1,308.8 329.6,309.0 329.1,309.2 328.5,309.5 328.0,309.7 327.5,309.8 326.9,310.0 326.2,310.1 325.5,310.2 325.0,310.3 324.4,310.2 323.8,310.2 323.0,310.0 322.5,309.8 322.0,309.6 321.5,309.3 321.1,309.0 320.8,308.7 320.2,308.3 320.0,308.0 319.6,307.5 319.3,307.0 319.0,306.5 318.8,306.0 318.5,305.5 318.3,305.0 318.2,304.5 318.0,303.8 317.9,303.2 317.8,302.5 317.8,301.8 317.8,301.0 317.9,300.2 318.0,299.5 318.1,299.0 318.3,298.5 318.5,297.8 318.7,297.2 319.0,296.8 319.2,296.3 319.5,295.9 319.8,295.5 320.2,295.0 320.5,294.7 321.0,294.3 321.4,294.0 321.8,293.8 322.3,293.5 322.8,293.2 323.5,293.0Z" fill="none" stroke="rgb(101,101,101)" stroke-width="0.48"/>
<path d="M323.6,292.5 324.2,292.4 325.0,292.3 325.8,292.3 326.5,292.4 327.2,292.5 327.8,292.6 328.3,292.8 329.0,293.0 329.5,293.2 330.0,293.4 330.5,293.6 331.0,293.9 331.5,294.2 332.0,294.5 332.4,294.8 332.8,295.0 333.2,295.3 333.8,295.6 334.2,295.9 334.8,296.1 335.2,296.4 335.8,296.6 336.4,296.8 337.0,296.9 337.7,297.0 338.2,297.0 339.0,297.0 339.7,297.0 340.2,297.0 341.0,297.0 341.8,296.9 342.5,296.9 343.2,296.9 344.0,296.9 344.8,296.9 345.5,297.0 346.0,297.0 346.8,297.1 347.5,297.2 348.0,297.3 348.7,297.5 349.2,297.7 349.8,297.8 350.3,298.0 350.9,298.2 351.4,298.5 351.8,298.8 352.2,299.0 352.8,299.4 353.2,299.8 353.5,300.1 353.8,300.5 354.0,301.0 354.2,301.8 354.2,302.5 354.0,303.0 353.7,303.5 353.4,304.0 353.0,304.4 352.5,304.8 352.2,305.0 351.7,305.2 351.2,305.5 350.7,305.8 350.0,306.0 349.5,306.2 349.0,306.3 348.2,306.5 347.8,306.6 347.0,306.7 346.5,306.8 345.8,306.8 345.0,306.9 344.2,306.9 343.5,306.9 342.8,306.8 342.0,306.8 341.5,306.7 340.8,306.7 340.0,306.6 339.2,306.5 338.8,306.5 338.0,306.5 337.2,306.5 336.8,306.5 336.0,306.7 335.5,306.8 334.9,307.0 334.3,307.2 333.8,307.5 333.2,307.7 332.8,308.0 332.2,308.2 331.8,308.5 331.3,308.8 330.8,309.0 330.3,309.2 329.8,309.5 329.2,309.7 328.8,309.9 328.2,310.1 327.8,310.3 327.0,310.5 326.5,310.6 325.8,310.7 325.0,310.7 324.2,310.7 323.5,310.6 323.0,310.4 322.5,310.2 321.9,310.0 321.5,309.8 321.0,309.4 320.5,309.0 320.2,308.8 319.8,308.3 319.5,308.0 319.2,307.5 318.9,307.0 318.6,306.5 318.3,306.0 318.1,305.5 318.0,305.0 317.8,304.2 317.6,303.8 317.5,303.0 317.5,302.5 317.4,301.8 317.5,301.0 317.5,300.4 317.6,299.8 317.7,299.0 317.9,298.5 318.0,298.0 318.2,297.4 318.5,296.8 318.8,296.4 319.0,295.9 319.3,295.5 319.7,295.0 320.0,294.6 320.4,294.2 320.8,293.9 321.2,293.5 321.7,293.2 322.2,293.0 322.8,292.8 323.2,292.6Z" fill="none" stroke="rgb(103,103,103)" stroke-width="0.48"/>
<path d="M323.9,291.8 324.5,291.7 325.2,291.6 326.0,291.6 326.8,291.7 327.2,291.8 328.0,291.9 328.5,292.1 329.1,292.2 329.8,292.5 330.2,292.7 330.8,292.9 331.2,293.2 331.8,293.5 332.2,293.8 332.7,294.0 333.1,294.2 333.5,294.5 334.0,294.8 334.5,295.0 335.0,295.3 335.5,295.5 336.2,295.8 336.8,295.9 337.3,296.0 338.0,296.1 338.8,296.1 339.5,296.1 340.2,296.1 341.0,296.1 341.8,296.1 342.5,296.1 343.2,296.1 344.0,296.1 344.8,296.1 345.5,296.2 346.2,296.2 346.7,296.3 347.5,296.4 348.1,296.5 348.8,296.6 349.2,296.8 350.0,297.0 350.5,297.1 351.0,297.3 351.6,297.5 352.1,297.8 352.6,298.0 353.1,298.2 353.5,298.5 354.0,298.9 354.4,299.2 354.8,299.6 355.1,300.0 355.4,300.5 355.6,301.0 355.8,301.5 355.8,302.2 355.7,302.8 355.5,303.3 355.2,303.8 354.9,304.2 354.5,304.7 354.1,305.0 353.8,305.3 353.2,305.6 352.8,305.9 352.2,306.1 351.8,306.4 351.2,306.6 350.7,306.8 350.0,307.0 349.5,307.1 348.8,307.2 348.2,307.4 347.5,307.5 347.0,307.5 346.2,307.6 345.5,307.6 344.8,307.7 344.0,307.7 343.2,307.7 342.5,307.6 341.8,307.6 341.0,307.5 340.5,307.5 339.8,307.4 339.0,307.4 338.2,307.4 337.5,307.4 336.8,307.4 336.2,307.5 335.5,307.7 335.0,307.8 334.5,308.0 333.9,308.2 333.4,308.5 332.9,308.8 332.4,309.0 331.9,309.2 331.4,309.5 330.9,309.8 330.3,310.0 329.8,310.2 329.2,310.5 328.8,310.6 328.2,310.8 327.5,311.0 327.0,311.1 326.2,311.2 325.8,311.3 325.0,311.3 324.4,311.2 323.8,311.2 323.0,311.0 322.5,310.8 322.0,310.6 321.5,310.4 321.0,310.0 320.6,309.8 320.2,309.5 319.8,309.0 319.5,308.7 319.1,308.2 318.8,307.8 318.5,307.3 318.2,306.9 318.0,306.4 317.8,305.8 317.6,305.2 317.4,304.8 317.2,304.1 317.1,303.5 317.0,302.8 317.0,302.2 317.0,301.5 317.0,300.8 317.0,300.2 317.1,299.5 317.2,299.0 317.4,298.2 317.6,297.8 317.8,297.2 318.0,296.7 318.2,296.2 318.5,295.8 318.8,295.2 319.2,294.8 319.5,294.4 319.8,294.0 320.2,293.6 320.7,293.2 321.0,293.0 321.5,292.7 322.0,292.4 322.5,292.2 323.0,292.0 323.8,291.8Z" fill="none" stroke="rgb(104,104,104)" stroke-width="0.47"/>
<path d="M323.5,291.0 324.0,290.9 324.8,290.8 325.5,290.8 326.2,290.8 327.0,290.9 327.8,291.0 328.2,291.1 328.9,291.2 329.5,291.5 330.0,291.6 330.5,291.8 331.0,292.1 331.5,292.3 332.0,292.6 332.5,292.8 333.0,293.1 333.5,293.4 334.0,293.7 334.5,293.9 335.0,294.2 335.5,294.4 336.0,294.6 336.5,294.8 337.2,294.9 337.8,295.0 338.5,295.1 339.2,295.1 340.0,295.2 340.8,295.2 341.5,295.2 342.2,295.2 343.0,295.2 343.8,295.2 344.5,295.2 345.2,295.2 345.8,295.3 346.5,295.4 347.2,295.5 347.8,295.5 348.5,295.7 349.0,295.8 349.8,295.9 350.2,296.0 351.0,296.2 351.5,296.4 352.0,296.6 352.5,296.8 353.0,297.0 353.6,297.2 354.0,297.5 354.5,297.8 355.0,298.1 355.5,298.5 355.8,298.8 356.2,299.2 356.5,299.5 356.9,300.0 357.1,300.5 357.3,301.0 357.5,301.8 357.4,302.5 357.2,303.2 357.0,303.8 356.8,304.2 356.5,304.5 356.1,305.0 355.8,305.3 355.2,305.7 354.8,306.0 354.4,306.2 354.0,306.5 353.5,306.8 352.9,307.0 352.3,307.2 351.8,307.4 351.2,307.6 350.7,307.8 350.0,307.9 349.5,308.0 348.8,308.2 348.2,308.3 347.5,308.4 346.8,308.4 346.0,308.5 345.5,308.5 344.8,308.5 344.0,308.5 343.2,308.5 342.5,308.5 342.0,308.5 341.2,308.4 340.5,308.4 339.8,308.3 339.0,308.3 338.2,308.3 337.5,308.3 336.8,308.4 336.2,308.5 335.5,308.7 335.0,308.8 334.5,309.0 333.9,309.2 333.3,309.5 332.8,309.8 332.3,310.0 331.8,310.2 331.2,310.5 330.8,310.7 330.2,310.9 329.8,311.1 329.2,311.3 328.7,311.5 328.0,311.7 327.5,311.8 326.8,311.9 326.1,312.0 325.5,312.0 324.8,312.0 324.2,312.0 323.5,311.9 323.0,311.8 322.3,311.5 321.8,311.3 321.2,311.0 320.8,310.8 320.5,310.5 320.0,310.1 319.6,309.8 319.2,309.4 318.9,309.0 318.5,308.5 318.2,308.1 318.0,307.7 317.7,307.2 317.5,306.8 317.2,306.2 317.0,305.5 316.8,305.0 316.7,304.5 316.5,303.8 316.5,303.2 316.4,302.5 316.3,301.8 316.4,301.0 316.4,300.2 316.5,299.5 316.6,299.0 316.8,298.3 316.9,297.8 317.1,297.2 317.3,296.8 317.5,296.2 317.8,295.7 318.0,295.2 318.3,294.8 318.7,294.2 319.0,293.8 319.3,293.5 319.8,293.0 320.1,292.8 320.5,292.4 321.0,292.1 321.5,291.8 322.0,291.5 322.5,291.3 323.0,291.1Z" fill="none" stroke="rgb(106,106,106)" stroke-width="0.47"/>
<path d="M324.2,289.8 324.8,289.7 325.5,289.7 326.2,289.7 327.0,289.7 327.5,289.8 328.2,289.9 328.8,290.0 329.5,290.2 330.0,290.4 330.5,290.6 331.0,290.8 331.5,291.0 332.1,291.2 332.6,291.5 333.0,291.8 333.5,292.0 334.0,292.2 334.5,292.5 335.0,292.8 335.5,293.0 336.2,293.2 336.8,293.4 337.2,293.6 338.0,293.7 338.5,293.8 339.2,293.9 340.0,293.9 340.8,294.0 341.3,294.0 342.0,294.0 342.8,294.0 343.5,294.1 344.2,294.1 345.0,294.2 345.8,294.2 346.2,294.3 347.0,294.4 347.8,294.5 348.2,294.5 349.0,294.7 349.5,294.8 350.2,294.9 350.8,295.0 351.5,295.2 352.0,295.4 352.5,295.5 353.1,295.8 353.8,296.0 354.2,296.2 354.8,296.4 355.2,296.7 355.8,297.0 356.2,297.2 356.6,297.5 357.0,297.8 357.5,298.2 357.8,298.5 358.2,299.0 358.5,299.3 358.8,299.8 359.0,300.2 359.2,300.8 359.4,301.5 359.4,302.2 359.3,303.0 359.1,303.5 358.9,304.0 358.6,304.5 358.2,305.0 358.0,305.3 357.5,305.8 357.2,306.0 356.8,306.4 356.2,306.7 355.8,307.0 355.3,307.2 354.8,307.5 354.3,307.8 353.8,308.0 353.2,308.2 352.8,308.3 352.2,308.5 351.5,308.7 351.0,308.8 350.2,309.0 349.8,309.1 349.0,309.2 348.5,309.3 347.8,309.4 347.0,309.5 346.4,309.5 345.8,309.5 345.0,309.6 344.2,309.6 343.5,309.6 342.8,309.6 342.0,309.6 341.2,309.5 340.8,309.5 340.0,309.5 339.2,309.5 338.5,309.5 337.7,309.5 337.2,309.5 336.5,309.7 336.0,309.8 335.2,310.0 334.8,310.1 334.2,310.3 333.8,310.6 333.2,310.8 332.8,311.0 332.2,311.2 331.7,311.5 331.1,311.8 330.5,312.0 330.0,312.2 329.5,312.4 329.0,312.5 328.2,312.7 327.8,312.9 327.0,313.0 326.5,313.0 325.8,313.1 325.0,313.1 324.2,313.0 323.8,313.0 323.0,312.8 322.5,312.7 322.0,312.5 321.5,312.2 321.0,312.0 320.5,311.7 320.0,311.3 319.6,311.0 319.2,310.7 318.8,310.2 318.5,309.9 318.1,309.5 317.8,309.0 317.5,308.6 317.2,308.2 317.0,307.7 316.8,307.2 316.5,306.7 316.2,306.0 316.1,305.5 315.9,305.0 315.8,304.2 315.7,303.8 315.6,303.0 315.5,302.4 315.5,301.8 315.5,301.0 315.5,300.4 315.6,299.8 315.7,299.0 315.8,298.5 316.0,297.8 316.1,297.2 316.3,296.8 316.5,296.2 316.8,295.6 317.0,295.1 317.2,294.7 317.5,294.2 317.8,293.8 318.2,293.2 318.5,292.9 318.9,292.5 319.2,292.1 319.7,291.8 320.0,291.5 320.5,291.2 321.0,290.8 321.5,290.6 322.0,290.4 322.5,290.2 323.0,290.0 323.8,289.8Z" fill="none" stroke="rgb(107,107,107)" stroke-width="0.46"/>
<path d="M324.6,288.0 325.2,288.0 326.0,287.9 326.8,288.0 327.2,288.0 328.0,288.1 328.8,288.2 329.2,288.4 329.8,288.5 330.5,288.7 331.0,288.8 331.5,289.0 332.1,289.2 332.7,289.5 333.2,289.7 333.8,290.0 334.2,290.2 334.8,290.4 335.2,290.6 335.8,290.9 336.2,291.1 336.8,291.3 337.4,291.5 338.0,291.7 338.5,291.8 339.2,291.9 339.8,292.0 340.5,292.1 341.2,292.2 341.8,292.3 342.5,292.3 343.2,292.4 344.0,292.5 344.5,292.5 345.2,292.6 346.0,292.7 346.5,292.8 347.2,292.8 348.0,293.0 348.5,293.0 349.2,293.2 349.8,293.2 350.5,293.4 351.0,293.5 351.8,293.7 352.3,293.8 353.0,294.0 353.5,294.2 354.0,294.3 354.5,294.5 355.2,294.8 355.8,295.0 356.2,295.2 356.8,295.4 357.2,295.7 357.8,296.0 358.2,296.2 358.6,296.5 359.0,296.8 359.5,297.2 359.9,297.5 360.2,297.8 360.6,298.2 361.0,298.7 361.2,299.1 361.5,299.5 361.8,300.0 362.0,300.7 362.1,301.2 362.2,302.0 362.1,302.8 362.0,303.3 361.8,304.0 361.5,304.5 361.2,304.9 361.0,305.3 360.6,305.8 360.2,306.2 359.9,306.5 359.5,306.8 359.0,307.2 358.6,307.5 358.2,307.8 357.8,308.0 357.2,308.3 356.8,308.6 356.2,308.8 355.8,309.0 355.1,309.2 354.5,309.5 354.0,309.6 353.5,309.8 352.8,310.0 352.2,310.1 351.7,310.2 351.0,310.4 350.5,310.5 349.8,310.6 349.0,310.7 348.5,310.8 347.8,310.9 347.0,310.9 346.2,311.0 345.8,311.0 345.0,311.1 344.2,311.1 343.5,311.1 342.8,311.1 342.0,311.1 341.2,311.1 340.5,311.1 339.8,311.1 339.0,311.1 338.2,311.2 337.6,311.2 337.0,311.4 336.4,311.5 335.8,311.7 335.2,311.8 334.8,312.0 334.2,312.2 333.6,312.5 333.1,312.8 332.5,313.0 332.0,313.2 331.5,313.4 331.0,313.6 330.5,313.8 330.0,314.0 329.2,314.2 328.8,314.4 328.1,314.5 327.5,314.6 326.8,314.7 326.0,314.8 325.5,314.8 324.8,314.8 324.2,314.7 323.5,314.6 322.9,314.5 322.2,314.3 321.8,314.1 321.2,313.9 320.8,313.7 320.2,313.4 319.8,313.1 319.3,312.8 319.0,312.5 318.5,312.1 318.1,311.8 317.8,311.4 317.4,311.0 317.0,310.5 316.8,310.1 316.5,309.8 316.2,309.2 315.9,308.8 315.6,308.2 315.4,307.8 315.2,307.2 315.0,306.8 314.8,306.0 314.6,305.5 314.5,305.0 314.3,304.2 314.2,303.8 314.1,303.0 314.1,302.2 314.1,301.5 314.1,300.8 314.1,300.0 314.2,299.2 314.3,298.8 314.4,298.0 314.5,297.5 314.8,296.8 314.9,296.2 315.1,295.8 315.3,295.2 315.5,294.7 315.8,294.2 316.1,293.8 316.4,293.2 316.7,292.8 317.0,292.3 317.3,292.0 317.7,291.5 318.0,291.2 318.4,290.8 318.8,290.5 319.2,290.1 319.7,289.8 320.1,289.5 320.5,289.2 321.0,289.0 321.5,288.8 322.2,288.5 322.8,288.3 323.2,288.2 324.0,288.1 324.6,288.0Z" fill="none" stroke="rgb(108,108,108)" stroke-width="0.46"/>
<circle cx="81.0" cy="243.0" r="0.45" fill="#8a8a8a"/><circle cx="95.0" cy="244.0" r="0.45" fill="#8a8a8a"/><circle cx="100.0" cy="250.0" r="0.45" fill="#8a8a8a"/><circle cx="106.0" cy="247.0" r="0.45" fill="#8a8a8a"/><circle cx="103.0" cy="258.0" r="0.45" fill="#8a8a8a"/><circle cx="112.0" cy="262.0" r="0.45" fill="#8a8a8a"/><circle cx="92.0" cy="276.0" r="0.45" fill="#8a8a8a"/><circle cx="98.0" cy="281.0" r="0.45" fill="#8a8a8a"/><circle cx="104.0" cy="277.0" r="0.45" fill="#8a8a8a"/><circle cx="88.0" cy="290.0" r="0.45" fill="#8a8a8a"/><circle cx="100.0" cy="292.0" r="0.45" fill="#8a8a8a"/><circle cx="108.0" cy="300.0" r="0.45" fill="#8a8a8a"/><circle cx="94.0" cy="302.0" r="0.45" fill="#8a8a8a"/><circle cx="87.0" cy="256.0" r="0.45" fill="#8a8a8a"/><circle cx="118.0" cy="270.0" r="0.45" fill="#8a8a8a"/>
<circle cx="226.6" cy="272.8" r="0.45" fill="#8a8a8a"/><circle cx="197.2" cy="272.5" r="0.45" fill="#8a8a8a"/><circle cx="244.6" cy="281.6" r="0.45" fill="#8a8a8a"/><circle cx="215.1" cy="276.6" r="0.45" fill="#8a8a8a"/><circle cx="209.0" cy="264.4" r="0.45" fill="#8a8a8a"/><circle cx="234.2" cy="279.2" r="0.45" fill="#8a8a8a"/><circle cx="211.3" cy="278.7" r="0.45" fill="#8a8a8a"/><circle cx="212.7" cy="268.5" r="0.45" fill="#8a8a8a"/><circle cx="217.1" cy="276.4" r="0.45" fill="#8a8a8a"/><circle cx="206.6" cy="274.2" r="0.45" fill="#8a8a8a"/><circle cx="213.0" cy="284.0" r="0.45" fill="#8a8a8a"/><circle cx="229.0" cy="266.4" r="0.45" fill="#8a8a8a"/><circle cx="193.7" cy="277.3" r="0.45" fill="#8a8a8a"/><circle cx="234.7" cy="282.4" r="0.45" fill="#8a8a8a"/><circle cx="207.3" cy="277.1" r="0.45" fill="#8a8a8a"/><circle cx="230.3" cy="272.6" r="0.45" fill="#8a8a8a"/><circle cx="198.8" cy="268.5" r="0.45" fill="#8a8a8a"/><circle cx="248.4" cy="282.9" r="0.45" fill="#8a8a8a"/><circle cx="225.6" cy="277.3" r="0.45" fill="#8a8a8a"/><circle cx="192.4" cy="268.5" r="0.45" fill="#8a8a8a"/><circle cx="201.3" cy="275.9" r="0.45" fill="#8a8a8a"/><circle cx="208.5" cy="277.4" r="0.45" fill="#8a8a8a"/><circle cx="195.5" cy="266.4" r="0.45" fill="#8a8a8a"/><circle cx="196.3" cy="264.8" r="0.45" fill="#8a8a8a"/><circle cx="231.1" cy="278.4" r="0.45" fill="#8a8a8a"/><circle cx="204.5" cy="270.3" r="0.45" fill="#8a8a8a"/><circle cx="237.1" cy="280.9" r="0.45" fill="#8a8a8a"/><circle cx="224.8" cy="280.7" r="0.45" fill="#8a8a8a"/><circle cx="205.5" cy="281.1" r="0.45" fill="#8a8a8a"/><circle cx="240.8" cy="272.9" r="0.45" fill="#8a8a8a"/><circle cx="240.1" cy="281.8" r="0.45" fill="#8a8a8a"/><circle cx="196.0" cy="267.7" r="0.45" fill="#8a8a8a"/><circle cx="235.2" cy="271.4" r="0.45" fill="#8a8a8a"/><circle cx="222.6" cy="272.6" r="0.45" fill="#8a8a8a"/><circle cx="193.4" cy="282.8" r="0.45" fill="#8a8a8a"/><circle cx="223.4" cy="281.9" r="0.45" fill="#8a8a8a"/><circle cx="235.2" cy="283.2" r="0.45" fill="#8a8a8a"/><circle cx="223.7" cy="281.4" r="0.45" fill="#8a8a8a"/><circle cx="210.2" cy="273.4" r="0.45" fill="#8a8a8a"/><circle cx="249.1" cy="274.7" r="0.45" fill="#8a8a8a"/><circle cx="211.7" cy="267.3" r="0.45" fill="#8a8a8a"/><circle cx="242.6" cy="275.2" r="0.45" fill="#8a8a8a"/>
<circle cx="358.0" cy="270.0" r="0.45" fill="#8a8a8a"/><circle cx="365.0" cy="273.0" r="0.45" fill="#8a8a8a"/><circle cx="372.0" cy="282.0" r="0.45" fill="#8a8a8a"/><circle cx="318.0" cy="280.0" r="0.45" fill="#8a8a8a"/><circle cx="381.0" cy="300.0" r="0.45" fill="#8a8a8a"/><circle cx="352.0" cy="284.0" r="0.45" fill="#8a8a8a"/><circle cx="362.0" cy="266.0" r="0.45" fill="#8a8a8a"/>
<line x1="46.5" y1="334.2" x2="46.5" y2="337.4" stroke="#222" stroke-width="0.8"/><line x1="83.3" y1="334.2" x2="83.3" y2="337.4" stroke="#222" stroke-width="0.8"/><line x1="113.5" y1="334.2" x2="113.5" y2="337.4" stroke="#222" stroke-width="0.8"/><line x1="142.4" y1="334.2" x2="142.4" y2="337.4" stroke="#222" stroke-width="0.8"/><line x1="92.4" y1="334.2" x2="92.4" y2="336.1" stroke="#222" stroke-width="0.6"/><line x1="97.7" y1="334.2" x2="97.7" y2="336.1" stroke="#222" stroke-width="0.6"/><line x1="101.5" y1="334.2" x2="101.5" y2="336.1" stroke="#222" stroke-width="0.6"/><line x1="104.4" y1="334.2" x2="104.4" y2="336.1" stroke="#222" stroke-width="0.6"/><line x1="106.8" y1="334.2" x2="106.8" y2="336.1" stroke="#222" stroke-width="0.6"/><line x1="108.8" y1="334.2" x2="108.8" y2="336.1" stroke="#222" stroke-width="0.6"/><line x1="110.6" y1="334.2" x2="110.6" y2="336.1" stroke="#222" stroke-width="0.6"/><line x1="112.1" y1="334.2" x2="112.1" y2="336.1" stroke="#222" stroke-width="0.6"/><line x1="122.2" y1="334.2" x2="122.2" y2="336.1" stroke="#222" stroke-width="0.6"/><line x1="127.3" y1="334.2" x2="127.3" y2="336.1" stroke="#222" stroke-width="0.6"/><line x1="130.9" y1="334.2" x2="130.9" y2="336.1" stroke="#222" stroke-width="0.6"/><line x1="133.7" y1="334.2" x2="133.7" y2="336.1" stroke="#222" stroke-width="0.6"/><line x1="136.0" y1="334.2" x2="136.0" y2="336.1" stroke="#222" stroke-width="0.6"/><line x1="137.9" y1="334.2" x2="137.9" y2="336.1" stroke="#222" stroke-width="0.6"/><line x1="139.6" y1="334.2" x2="139.6" y2="336.1" stroke="#222" stroke-width="0.6"/><line x1="141.1" y1="334.2" x2="141.1" y2="336.1" stroke="#222" stroke-width="0.6"/><line x1="41.0" y1="334.2" x2="41.0" y2="336.1" stroke="#222" stroke-width="0.6"/><line x1="66.8" y1="334.2" x2="66.8" y2="336.1" stroke="#222" stroke-width="0.6"/><line x1="68.7" y1="334.2" x2="68.7" y2="336.1" stroke="#222" stroke-width="0.6"/><line x1="70.5" y1="334.2" x2="70.5" y2="336.1" stroke="#222" stroke-width="0.6"/><line x1="72.3" y1="334.2" x2="72.3" y2="336.1" stroke="#222" stroke-width="0.6"/><line x1="74.2" y1="334.2" x2="74.2" y2="336.1" stroke="#222" stroke-width="0.6"/><line x1="76.0" y1="334.2" x2="76.0" y2="336.1" stroke="#222" stroke-width="0.6"/><line x1="77.8" y1="334.2" x2="77.8" y2="336.1" stroke="#222" stroke-width="0.6"/><line x1="79.6" y1="334.2" x2="79.6" y2="336.1" stroke="#222" stroke-width="0.6"/><line x1="81.5" y1="334.2" x2="81.5" y2="336.1" stroke="#222" stroke-width="0.6"/><line x1="63.1" y1="334.2" x2="63.1" y2="336.1" stroke="#222" stroke-width="0.6"/><line x1="61.3" y1="334.2" x2="61.3" y2="336.1" stroke="#222" stroke-width="0.6"/><line x1="59.5" y1="334.2" x2="59.5" y2="336.1" stroke="#222" stroke-width="0.6"/><line x1="57.6" y1="334.2" x2="57.6" y2="336.1" stroke="#222" stroke-width="0.6"/><line x1="55.8" y1="334.2" x2="55.8" y2="336.1" stroke="#222" stroke-width="0.6"/><line x1="53.9" y1="334.2" x2="53.9" y2="336.1" stroke="#222" stroke-width="0.6"/><line x1="52.0" y1="334.2" x2="52.0" y2="336.1" stroke="#222" stroke-width="0.6"/><line x1="50.2" y1="334.2" x2="50.2" y2="336.1" stroke="#222" stroke-width="0.6"/><line x1="48.4" y1="334.2" x2="48.4" y2="336.1" stroke="#222" stroke-width="0.6"/><rect x="62.30" y="334.25" width="0.75" height="1.8" fill="#0a0a0a"/><rect x="62.98" y="334.25" width="0.75" height="2.6" fill="#0a0a0a"/><rect x="63.66" y="334.25" width="0.75" height="3.0" fill="#0a0a0a"/><rect x="64.34" y="334.25" width="0.75" height="3.0" fill="#0a0a0a"/><rect x="65.02" y="334.25" width="0.75" height="2.6" fill="#0a0a0a"/><rect x="65.70" y="334.25" width="0.75" height="3.0" fill="#0a0a0a"/><rect x="66.38" y="334.25" width="0.75" height="2.4" fill="#0a0a0a"/><rect x="67.06" y="334.25" width="0.75" height="1.8" fill="#0a0a0a"/><line x1="36.3" y1="326.5" x2="39.6" y2="326.5" stroke="#222" stroke-width="0.8"/><line x1="36.3" y1="289.4" x2="39.6" y2="289.4" stroke="#222" stroke-width="0.8"/><line x1="36.3" y1="259.9" x2="39.6" y2="259.9" stroke="#222" stroke-width="0.8"/><line x1="36.3" y1="233.8" x2="39.6" y2="233.8" stroke="#222" stroke-width="0.8"/><line x1="37.8" y1="280.5" x2="39.6" y2="280.5" stroke="#222" stroke-width="0.6"/><line x1="37.8" y1="275.3" x2="39.6" y2="275.3" stroke="#222" stroke-width="0.6"/><line x1="37.8" y1="271.6" x2="39.6" y2="271.6" stroke="#222" stroke-width="0.6"/><line x1="37.8" y1="268.8" x2="39.6" y2="268.8" stroke="#222" stroke-width="0.6"/><line x1="37.8" y1="266.4" x2="39.6" y2="266.4" stroke="#222" stroke-width="0.6"/><line x1="37.8" y1="264.5" x2="39.6" y2="264.5" stroke="#222" stroke-width="0.6"/><line x1="37.8" y1="262.8" x2="39.6" y2="262.8" stroke="#222" stroke-width="0.6"/><line x1="37.8" y1="261.2" x2="39.6" y2="261.2" stroke="#222" stroke-width="0.6"/><line x1="37.8" y1="252.1" x2="39.6" y2="252.1" stroke="#222" stroke-width="0.6"/><line x1="37.8" y1="247.5" x2="39.6" y2="247.5" stroke="#222" stroke-width="0.6"/><line x1="37.8" y1="244.2" x2="39.6" y2="244.2" stroke="#222" stroke-width="0.6"/><line x1="37.8" y1="241.7" x2="39.6" y2="241.7" stroke="#222" stroke-width="0.6"/><line x1="37.8" y1="239.6" x2="39.6" y2="239.6" stroke="#222" stroke-width="0.6"/><line x1="37.8" y1="237.9" x2="39.6" y2="237.9" stroke="#222" stroke-width="0.6"/><line x1="37.8" y1="236.4" x2="39.6" y2="236.4" stroke="#222" stroke-width="0.6"/><line x1="37.8" y1="235.0" x2="39.6" y2="235.0" stroke="#222" stroke-width="0.6"/><line x1="37.8" y1="226.0" x2="39.6" y2="226.0" stroke="#222" stroke-width="0.6"/><line x1="37.8" y1="331.8" x2="39.6" y2="331.8" stroke="#222" stroke-width="0.6"/><line x1="37.8" y1="306.7" x2="39.6" y2="306.7" stroke="#222" stroke-width="0.6"/><line x1="37.8" y1="304.8" x2="39.6" y2="304.8" stroke="#222" stroke-width="0.6"/><line x1="37.8" y1="302.8" x2="39.6" y2="302.8" stroke="#222" stroke-width="0.6"/><line x1="37.8" y1="300.9" x2="39.6" y2="300.9" stroke="#222" stroke-width="0.6"/><line x1="37.8" y1="299.0" x2="39.6" y2="299.0" stroke="#222" stroke-width="0.6"/><line x1="37.8" y1="297.1" x2="39.6" y2="297.1" stroke="#222" stroke-width="0.6"/><line x1="37.8" y1="295.1" x2="39.6" y2="295.1" stroke="#222" stroke-width="0.6"/><line x1="37.8" y1="293.2" x2="39.6" y2="293.2" stroke="#222" stroke-width="0.6"/><line x1="37.8" y1="291.3" x2="39.6" y2="291.3" stroke="#222" stroke-width="0.6"/><line x1="37.8" y1="310.4" x2="39.6" y2="310.4" stroke="#222" stroke-width="0.6"/><line x1="37.8" y1="312.2" x2="39.6" y2="312.2" stroke="#222" stroke-width="0.6"/><line x1="37.8" y1="314.0" x2="39.6" y2="314.0" stroke="#222" stroke-width="0.6"/><line x1="37.8" y1="315.8" x2="39.6" y2="315.8" stroke="#222" stroke-width="0.6"/><line x1="37.8" y1="317.6" x2="39.6" y2="317.6" stroke="#222" stroke-width="0.6"/><line x1="37.8" y1="319.3" x2="39.6" y2="319.3" stroke="#222" stroke-width="0.6"/><line x1="37.8" y1="321.1" x2="39.6" y2="321.1" stroke="#222" stroke-width="0.6"/><line x1="37.8" y1="322.9" x2="39.6" y2="322.9" stroke="#222" stroke-width="0.6"/><line x1="37.8" y1="324.7" x2="39.6" y2="324.7" stroke="#222" stroke-width="0.6"/><rect x="37.80" y="305.90" width="1.8" height="0.75" fill="#0a0a0a"/><rect x="37.00" y="306.58" width="2.6" height="0.75" fill="#0a0a0a"/><rect x="36.60" y="307.26" width="3.0" height="0.75" fill="#0a0a0a"/><rect x="36.60" y="307.94" width="3.0" height="0.75" fill="#0a0a0a"/><rect x="37.00" y="308.62" width="2.6" height="0.75" fill="#0a0a0a"/><rect x="36.60" y="309.30" width="3.0" height="0.75" fill="#0a0a0a"/><rect x="37.20" y="309.98" width="2.4" height="0.75" fill="#0a0a0a"/><rect x="37.80" y="310.66" width="1.8" height="0.75" fill="#0a0a0a"/><text x="44.9" y="344.2" font-family="Liberation Sans, sans-serif" font-size="4.4" fill="#333" stroke="#333" stroke-width="0.15" text-anchor="start">-10<tspan dy="-1.9" font-size="5.0">3</tspan></text><text x="65.6" y="344.2" font-family="Liberation Sans, sans-serif" font-size="4.4" fill="#333" stroke="#333" stroke-width="0.15" text-anchor="start">0</text><text x="83.7" y="344.2" font-family="Liberation Sans, sans-serif" font-size="4.4" fill="#333" stroke="#333" stroke-width="0.15" text-anchor="start">10<tspan dy="-1.9" font-size="5.0">3</tspan></text><text x="113.7" y="344.2" font-family="Liberation Sans, sans-serif" font-size="4.4" fill="#333" stroke="#333" stroke-width="0.15" text-anchor="start">10<tspan dy="-1.9" font-size="5.0">4</tspan></text><text x="140.4" y="344.2" font-family="Liberation Sans, sans-serif" font-size="4.4" fill="#333" stroke="#333" stroke-width="0.15" text-anchor="start">10<tspan dy="-1.9" font-size="5.0">5</tspan></text><text x="34.0" y="236.5" font-family="Liberation Sans, sans-serif" font-size="4.4" fill="#333" stroke="#333" stroke-width="0.15" text-anchor="end">10<tspan dy="-1.9" font-size="5.0">5</tspan></text><text x="34.0" y="262.6" font-family="Liberation Sans, sans-serif" font-size="4.4" fill="#333" stroke="#333" stroke-width="0.15" text-anchor="end">10<tspan dy="-1.9" font-size="5.0">4</tspan></text><text x="34.0" y="292.1" font-family="Liberation Sans, sans-serif" font-size="4.4" fill="#333" stroke="#333" stroke-width="0.15" text-anchor="end">10<tspan dy="-1.9" font-size="5.0">3</tspan></text><text x="34.0" y="329.2" font-family="Liberation Sans, sans-serif" font-size="4.4" fill="#333" stroke="#333" stroke-width="0.15" text-anchor="end">-10<tspan dy="-1.9" font-size="5.0">3</tspan></text><text x="31.6" y="310.3" font-family="Liberation Sans, sans-serif" font-size="4.4" fill="#333" stroke="#333" stroke-width="0.15" text-anchor="end">0</text><rect x="39.60" y="222.50" width="111.40" height="111.75" fill="none" stroke="#333" stroke-width="0.85"/>
<line x1="86.35" y1="222.50" x2="86.35" y2="334.25" stroke="#1c1c1c" stroke-width="1.15"/><line x1="39.60" y1="286.00" x2="151.00" y2="286.00" stroke="#5a5a5a" stroke-width="1.50"/>
<line x1="172.9" y1="334.2" x2="172.9" y2="337.4" stroke="#222" stroke-width="0.8"/><line x1="209.7" y1="334.2" x2="209.7" y2="337.4" stroke="#222" stroke-width="0.8"/><line x1="239.9" y1="334.2" x2="239.9" y2="337.4" stroke="#222" stroke-width="0.8"/><line x1="268.8" y1="334.2" x2="268.8" y2="337.4" stroke="#222" stroke-width="0.8"/><line x1="218.8" y1="334.2" x2="218.8" y2="336.1" stroke="#222" stroke-width="0.6"/><line x1="224.1" y1="334.2" x2="224.1" y2="336.1" stroke="#222" stroke-width="0.6"/><line x1="227.9" y1="334.2" x2="227.9" y2="336.1" stroke="#222" stroke-width="0.6"/><line x1="230.8" y1="334.2" x2="230.8" y2="336.1" stroke="#222" stroke-width="0.6"/><line x1="233.2" y1="334.2" x2="233.2" y2="336.1" stroke="#222" stroke-width="0.6"/><line x1="235.2" y1="334.2" x2="235.2" y2="336.1" stroke="#222" stroke-width="0.6"/><line x1="237.0" y1="334.2" x2="237.0" y2="336.1" stroke="#222" stroke-width="0.6"/><line x1="238.5" y1="334.2" x2="238.5" y2="336.1" stroke="#222" stroke-width="0.6"/><line x1="248.6" y1="334.2" x2="248.6" y2="336.1" stroke="#222" stroke-width="0.6"/><line x1="253.7" y1="334.2" x2="253.7" y2="336.1" stroke="#222" stroke-width="0.6"/><line x1="257.3" y1="334.2" x2="257.3" y2="336.1" stroke="#222" stroke-width="0.6"/><line x1="260.1" y1="334.2" x2="260.1" y2="336.1" stroke="#222" stroke-width="0.6"/><line x1="262.4" y1="334.2" x2="262.4" y2="336.1" stroke="#222" stroke-width="0.6"/><line x1="264.3" y1="334.2" x2="264.3" y2="336.1" stroke="#222" stroke-width="0.6"/><line x1="266.0" y1="334.2" x2="266.0" y2="336.1" stroke="#222" stroke-width="0.6"/><line x1="267.5" y1="334.2" x2="267.5" y2="336.1" stroke="#222" stroke-width="0.6"/><line x1="277.5" y1="334.2" x2="277.5" y2="336.1" stroke="#222" stroke-width="0.6"/><line x1="167.4" y1="334.2" x2="167.4" y2="336.1" stroke="#222" stroke-width="0.6"/><line x1="193.2" y1="334.2" x2="193.2" y2="336.1" stroke="#222" stroke-width="0.6"/><line x1="195.1" y1="334.2" x2="195.1" y2="336.1" stroke="#222" stroke-width="0.6"/><line x1="196.9" y1="334.2" x2="196.9" y2="336.1" stroke="#222" stroke-width="0.6"/><line x1="198.7" y1="334.2" x2="198.7" y2="336.1" stroke="#222" stroke-width="0.6"/><line x1="200.5" y1="334.2" x2="200.5" y2="336.1" stroke="#222" stroke-width="0.6"/><line x1="202.4" y1="334.2" x2="202.4" y2="336.1" stroke="#222" stroke-width="0.6"/><line x1="204.2" y1="334.2" x2="204.2" y2="336.1" stroke="#222" stroke-width="0.6"/><line x1="206.0" y1="334.2" x2="206.0" y2="336.1" stroke="#222" stroke-width="0.6"/><line x1="207.9" y1="334.2" x2="207.9" y2="336.1" stroke="#222" stroke-width="0.6"/><line x1="189.5" y1="334.2" x2="189.5" y2="336.1" stroke="#222" stroke-width="0.6"/><line x1="187.7" y1="334.2" x2="187.7" y2="336.1" stroke="#222" stroke-width="0.6"/><line x1="185.8" y1="334.2" x2="185.8" y2="336.1" stroke="#222" stroke-width="0.6"/><line x1="184.0" y1="334.2" x2="184.0" y2="336.1" stroke="#222" stroke-width="0.6"/><line x1="182.1" y1="334.2" x2="182.1" y2="336.1" stroke="#222" stroke-width="0.6"/><line x1="180.3" y1="334.2" x2="180.3" y2="336.1" stroke="#222" stroke-width="0.6"/><line x1="178.4" y1="334.2" x2="178.4" y2="336.1" stroke="#222" stroke-width="0.6"/><line x1="176.6" y1="334.2" x2="176.6" y2="336.1" stroke="#222" stroke-width="0.6"/><line x1="174.7" y1="334.2" x2="174.7" y2="336.1" stroke="#222" stroke-width="0.6"/><rect x="188.70" y="334.25" width="0.75" height="1.8" fill="#0a0a0a"/><rect x="189.38" y="334.25" width="0.75" height="2.6" fill="#0a0a0a"/><rect x="190.06" y="334.25" width="0.75" height="3.0" fill="#0a0a0a"/><rect x="190.74" y="334.25" width="0.75" height="3.0" fill="#0a0a0a"/><rect x="191.42" y="334.25" width="0.75" height="2.6" fill="#0a0a0a"/><rect x="192.10" y="334.25" width="0.75" height="3.0" fill="#0a0a0a"/><rect x="192.78" y="334.25" width="0.75" height="2.4" fill="#0a0a0a"/><rect x="193.46" y="334.25" width="0.75" height="1.8" fill="#0a0a0a"/><line x1="162.7" y1="326.5" x2="166.0" y2="326.5" stroke="#222" stroke-width="0.8"/><line x1="162.7" y1="289.4" x2="166.0" y2="289.4" stroke="#222" stroke-width="0.8"/><line x1="162.7" y1="259.9" x2="166.0" y2="259.9" stroke="#222" stroke-width="0.8"/><line x1="162.7" y1="233.8" x2="166.0" y2="233.8" stroke="#222" stroke-width="0.8"/><line x1="164.2" y1="280.5" x2="166.0" y2="280.5" stroke="#222" stroke-width="0.6"/><line x1="164.2" y1="275.3" x2="166.0" y2="275.3" stroke="#222" stroke-width="0.6"/><line x1="164.2" y1="271.6" x2="166.0" y2="271.6" stroke="#222" stroke-width="0.6"/><line x1="164.2" y1="268.8" x2="166.0" y2="268.8" stroke="#222" stroke-width="0.6"/><line x1="164.2" y1="266.4" x2="166.0" y2="266.4" stroke="#222" stroke-width="0.6"/><line x1="164.2" y1="264.5" x2="166.0" y2="264.5" stroke="#222" stroke-width="0.6"/><line x1="164.2" y1="262.8" x2="166.0" y2="262.8" stroke="#222" stroke-width="0.6"/><line x1="164.2" y1="261.2" x2="166.0" y2="261.2" stroke="#222" stroke-width="0.6"/><line x1="164.2" y1="252.1" x2="166.0" y2="252.1" stroke="#222" stroke-width="0.6"/><line x1="164.2" y1="247.5" x2="166.0" y2="247.5" stroke="#222" stroke-width="0.6"/><line x1="164.2" y1="244.2" x2="166.0" y2="244.2" stroke="#222" stroke-width="0.6"/><line x1="164.2" y1="241.7" x2="166.0" y2="241.7" stroke="#222" stroke-width="0.6"/><line x1="164.2" y1="239.6" x2="166.0" y2="239.6" stroke="#222" stroke-width="0.6"/><line x1="164.2" y1="237.9" x2="166.0" y2="237.9" stroke="#222" stroke-width="0.6"/><line x1="164.2" y1="236.4" x2="166.0" y2="236.4" stroke="#222" stroke-width="0.6"/><line x1="164.2" y1="235.0" x2="166.0" y2="235.0" stroke="#222" stroke-width="0.6"/><line x1="164.2" y1="226.0" x2="166.0" y2="226.0" stroke="#222" stroke-width="0.6"/><line x1="164.2" y1="331.8" x2="166.0" y2="331.8" stroke="#222" stroke-width="0.6"/><line x1="164.2" y1="306.7" x2="166.0" y2="306.7" stroke="#222" stroke-width="0.6"/><line x1="164.2" y1="304.8" x2="166.0" y2="304.8" stroke="#222" stroke-width="0.6"/><line x1="164.2" y1="302.8" x2="166.0" y2="302.8" stroke="#222" stroke-width="0.6"/><line x1="164.2" y1="300.9" x2="166.0" y2="300.9" stroke="#222" stroke-width="0.6"/><line x1="164.2" y1="299.0" x2="166.0" y2="299.0" stroke="#222" stroke-width="0.6"/><line x1="164.2" y1="297.1" x2="166.0" y2="297.1" stroke="#222" stroke-width="0.6"/><line x1="164.2" y1="295.1" x2="166.0" y2="295.1" stroke="#222" stroke-width="0.6"/><line x1="164.2" y1="293.2" x2="166.0" y2="293.2" stroke="#222" stroke-width="0.6"/><line x1="164.2" y1="291.3" x2="166.0" y2="291.3" stroke="#222" stroke-width="0.6"/><line x1="164.2" y1="310.4" x2="166.0" y2="310.4" stroke="#222" stroke-width="0.6"/><line x1="164.2" y1="312.2" x2="166.0" y2="312.2" stroke="#222" stroke-width="0.6"/><line x1="164.2" y1="314.0" x2="166.0" y2="314.0" stroke="#222" stroke-width="0.6"/><line x1="164.2" y1="315.8" x2="166.0" y2="315.8" stroke="#222" stroke-width="0.6"/><line x1="164.2" y1="317.6" x2="166.0" y2="317.6" stroke="#222" stroke-width="0.6"/><line x1="164.2" y1="319.3" x2="166.0" y2="319.3" stroke="#222" stroke-width="0.6"/><line x1="164.2" y1="321.1" x2="166.0" y2="321.1" stroke="#222" stroke-width="0.6"/><line x1="164.2" y1="322.9" x2="166.0" y2="322.9" stroke="#222" stroke-width="0.6"/><line x1="164.2" y1="324.7" x2="166.0" y2="324.7" stroke="#222" stroke-width="0.6"/><rect x="164.20" y="305.90" width="1.8" height="0.75" fill="#0a0a0a"/><rect x="163.40" y="306.58" width="2.6" height="0.75" fill="#0a0a0a"/><rect x="163.00" y="307.26" width="3.0" height="0.75" fill="#0a0a0a"/><rect x="163.00" y="307.94" width="3.0" height="0.75" fill="#0a0a0a"/><rect x="163.40" y="308.62" width="2.6" height="0.75" fill="#0a0a0a"/><rect x="163.00" y="309.30" width="3.0" height="0.75" fill="#0a0a0a"/><rect x="163.60" y="309.98" width="2.4" height="0.75" fill="#0a0a0a"/><rect x="164.20" y="310.66" width="1.8" height="0.75" fill="#0a0a0a"/><text x="171.3" y="344.2" font-family="Liberation Sans, sans-serif" font-size="4.4" fill="#333" stroke="#333" stroke-width="0.15" text-anchor="start">-10<tspan dy="-1.9" font-size="5.0">3</tspan></text><text x="192.0" y="344.2" font-family="Liberation Sans, sans-serif" font-size="4.4" fill="#333" stroke="#333" stroke-width="0.15" text-anchor="start">0</text><text x="210.1" y="344.2" font-family="Liberation Sans, sans-serif" font-size="4.4" fill="#333" stroke="#333" stroke-width="0.15" text-anchor="start">10<tspan dy="-1.9" font-size="5.0">3</tspan></text><text x="240.1" y="344.2" font-family="Liberation Sans, sans-serif" font-size="4.4" fill="#333" stroke="#333" stroke-width="0.15" text-anchor="start">10<tspan dy="-1.9" font-size="5.0">4</tspan></text><text x="266.8" y="344.2" font-family="Liberation Sans, sans-serif" font-size="4.4" fill="#333" stroke="#333" stroke-width="0.15" text-anchor="start">10<tspan dy="-1.9" font-size="5.0">5</tspan></text><text x="160.4" y="236.5" font-family="Liberation Sans, sans-serif" font-size="4.4" fill="#333" stroke="#333" stroke-width="0.15" text-anchor="end">10<tspan dy="-1.9" font-size="5.0">5</tspan></text><text x="160.4" y="262.6" font-family="Liberation Sans, sans-serif" font-size="4.4" fill="#333" stroke="#333" stroke-width="0.15" text-anchor="end">10<tspan dy="-1.9" font-size="5.0">4</tspan></text><text x="160.4" y="292.1" font-family="Liberation Sans, sans-serif" font-size="4.4" fill="#333" stroke="#333" stroke-width="0.15" text-anchor="end">10<tspan dy="-1.9" font-size="5.0">3</tspan></text><text x="160.4" y="329.2" font-family="Liberation Sans, sans-serif" font-size="4.4" fill="#333" stroke="#333" stroke-width="0.15" text-anchor="end">-10<tspan dy="-1.9" font-size="5.0">3</tspan></text><text x="158.0" y="310.3" font-family="Liberation Sans, sans-serif" font-size="4.4" fill="#333" stroke="#333" stroke-width="0.15" text-anchor="end">0</text><rect x="166.00" y="222.50" width="112.00" height="111.75" fill="none" stroke="#333" stroke-width="0.85"/>
<line x1="213.00" y1="222.50" x2="213.00" y2="334.25" stroke="#5a5a5a" stroke-width="1.50"/><line x1="166.00" y1="286.00" x2="278.00" y2="286.00" stroke="#5a5a5a" stroke-width="1.50"/>
<line x1="299.4" y1="334.2" x2="299.4" y2="337.4" stroke="#222" stroke-width="0.8"/><line x1="336.2" y1="334.2" x2="336.2" y2="337.4" stroke="#222" stroke-width="0.8"/><line x1="366.4" y1="334.2" x2="366.4" y2="337.4" stroke="#222" stroke-width="0.8"/><line x1="395.3" y1="334.2" x2="395.3" y2="337.4" stroke="#222" stroke-width="0.8"/><line x1="345.3" y1="334.2" x2="345.3" y2="336.1" stroke="#222" stroke-width="0.6"/><line x1="350.6" y1="334.2" x2="350.6" y2="336.1" stroke="#222" stroke-width="0.6"/><line x1="354.4" y1="334.2" x2="354.4" y2="336.1" stroke="#222" stroke-width="0.6"/><line x1="357.3" y1="334.2" x2="357.3" y2="336.1" stroke="#222" stroke-width="0.6"/><line x1="359.7" y1="334.2" x2="359.7" y2="336.1" stroke="#222" stroke-width="0.6"/><line x1="361.7" y1="334.2" x2="361.7" y2="336.1" stroke="#222" stroke-width="0.6"/><line x1="363.5" y1="334.2" x2="363.5" y2="336.1" stroke="#222" stroke-width="0.6"/><line x1="365.0" y1="334.2" x2="365.0" y2="336.1" stroke="#222" stroke-width="0.6"/><line x1="375.1" y1="334.2" x2="375.1" y2="336.1" stroke="#222" stroke-width="0.6"/><line x1="380.2" y1="334.2" x2="380.2" y2="336.1" stroke="#222" stroke-width="0.6"/><line x1="383.8" y1="334.2" x2="383.8" y2="336.1" stroke="#222" stroke-width="0.6"/><line x1="386.6" y1="334.2" x2="386.6" y2="336.1" stroke="#222" stroke-width="0.6"/><line x1="388.9" y1="334.2" x2="388.9" y2="336.1" stroke="#222" stroke-width="0.6"/><line x1="390.8" y1="334.2" x2="390.8" y2="336.1" stroke="#222" stroke-width="0.6"/><line x1="392.5" y1="334.2" x2="392.5" y2="336.1" stroke="#222" stroke-width="0.6"/><line x1="394.0" y1="334.2" x2="394.0" y2="336.1" stroke="#222" stroke-width="0.6"/><line x1="404.0" y1="334.2" x2="404.0" y2="336.1" stroke="#222" stroke-width="0.6"/><line x1="293.9" y1="334.2" x2="293.9" y2="336.1" stroke="#222" stroke-width="0.6"/><line x1="319.7" y1="334.2" x2="319.7" y2="336.1" stroke="#222" stroke-width="0.6"/><line x1="321.6" y1="334.2" x2="321.6" y2="336.1" stroke="#222" stroke-width="0.6"/><line x1="323.4" y1="334.2" x2="323.4" y2="336.1" stroke="#222" stroke-width="0.6"/><line x1="325.2" y1="334.2" x2="325.2" y2="336.1" stroke="#222" stroke-width="0.6"/><line x1="327.0" y1="334.2" x2="327.0" y2="336.1" stroke="#222" stroke-width="0.6"/><line x1="328.9" y1="334.2" x2="328.9" y2="336.1" stroke="#222" stroke-width="0.6"/><line x1="330.7" y1="334.2" x2="330.7" y2="336.1" stroke="#222" stroke-width="0.6"/><line x1="332.5" y1="334.2" x2="332.5" y2="336.1" stroke="#222" stroke-width="0.6"/><line x1="334.4" y1="334.2" x2="334.4" y2="336.1" stroke="#222" stroke-width="0.6"/><line x1="316.0" y1="334.2" x2="316.0" y2="336.1" stroke="#222" stroke-width="0.6"/><line x1="314.2" y1="334.2" x2="314.2" y2="336.1" stroke="#222" stroke-width="0.6"/><line x1="312.3" y1="334.2" x2="312.3" y2="336.1" stroke="#222" stroke-width="0.6"/><line x1="310.5" y1="334.2" x2="310.5" y2="336.1" stroke="#222" stroke-width="0.6"/><line x1="308.6" y1="334.2" x2="308.6" y2="336.1" stroke="#222" stroke-width="0.6"/><line x1="306.8" y1="334.2" x2="306.8" y2="336.1" stroke="#222" stroke-width="0.6"/><line x1="304.9" y1="334.2" x2="304.9" y2="336.1" stroke="#222" stroke-width="0.6"/><line x1="303.1" y1="334.2" x2="303.1" y2="336.1" stroke="#222" stroke-width="0.6"/><line x1="301.2" y1="334.2" x2="301.2" y2="336.1" stroke="#222" stroke-width="0.6"/><rect x="315.20" y="334.25" width="0.75" height="1.8" fill="#0a0a0a"/><rect x="315.88" y="334.25" width="0.75" height="2.6" fill="#0a0a0a"/><rect x="316.56" y="334.25" width="0.75" height="3.0" fill="#0a0a0a"/><rect x="317.24" y="334.25" width="0.75" height="3.0" fill="#0a0a0a"/><rect x="317.92" y="334.25" width="0.75" height="2.6" fill="#0a0a0a"/><rect x="318.60" y="334.25" width="0.75" height="3.0" fill="#0a0a0a"/><rect x="319.28" y="334.25" width="0.75" height="2.4" fill="#0a0a0a"/><rect x="319.96" y="334.25" width="0.75" height="1.8" fill="#0a0a0a"/><line x1="289.2" y1="326.5" x2="292.5" y2="326.5" stroke="#222" stroke-width="0.8"/><line x1="289.2" y1="289.4" x2="292.5" y2="289.4" stroke="#222" stroke-width="0.8"/><line x1="289.2" y1="259.9" x2="292.5" y2="259.9" stroke="#222" stroke-width="0.8"/><line x1="289.2" y1="233.8" x2="292.5" y2="233.8" stroke="#222" stroke-width="0.8"/><line x1="290.7" y1="280.5" x2="292.5" y2="280.5" stroke="#222" stroke-width="0.6"/><line x1="290.7" y1="275.3" x2="292.5" y2="275.3" stroke="#222" stroke-width="0.6"/><line x1="290.7" y1="271.6" x2="292.5" y2="271.6" stroke="#222" stroke-width="0.6"/><line x1="290.7" y1="268.8" x2="292.5" y2="268.8" stroke="#222" stroke-width="0.6"/><line x1="290.7" y1="266.4" x2="292.5" y2="266.4" stroke="#222" stroke-width="0.6"/><line x1="290.7" y1="264.5" x2="292.5" y2="264.5" stroke="#222" stroke-width="0.6"/><line x1="290.7" y1="262.8" x2="292.5" y2="262.8" stroke="#222" stroke-width="0.6"/><line x1="290.7" y1="261.2" x2="292.5" y2="261.2" stroke="#222" stroke-width="0.6"/><line x1="290.7" y1="252.1" x2="292.5" y2="252.1" stroke="#222" stroke-width="0.6"/><line x1="290.7" y1="247.5" x2="292.5" y2="247.5" stroke="#222" stroke-width="0.6"/><line x1="290.7" y1="244.2" x2="292.5" y2="244.2" stroke="#222" stroke-width="0.6"/><line x1="290.7" y1="241.7" x2="292.5" y2="241.7" stroke="#222" stroke-width="0.6"/><line x1="290.7" y1="239.6" x2="292.5" y2="239.6" stroke="#222" stroke-width="0.6"/><line x1="290.7" y1="237.9" x2="292.5" y2="237.9" stroke="#222" stroke-width="0.6"/><line x1="290.7" y1="236.4" x2="292.5" y2="236.4" stroke="#222" stroke-width="0.6"/><line x1="290.7" y1="235.0" x2="292.5" y2="235.0" stroke="#222" stroke-width="0.6"/><line x1="290.7" y1="226.0" x2="292.5" y2="226.0" stroke="#222" stroke-width="0.6"/><line x1="290.7" y1="331.8" x2="292.5" y2="331.8" stroke="#222" stroke-width="0.6"/><line x1="290.7" y1="306.7" x2="292.5" y2="306.7" stroke="#222" stroke-width="0.6"/><line x1="290.7" y1="304.8" x2="292.5" y2="304.8" stroke="#222" stroke-width="0.6"/><line x1="290.7" y1="302.8" x2="292.5" y2="302.8" stroke="#222" stroke-width="0.6"/><line x1="290.7" y1="300.9" x2="292.5" y2="300.9" stroke="#222" stroke-width="0.6"/><line x1="290.7" y1="299.0" x2="292.5" y2="299.0" stroke="#222" stroke-width="0.6"/><line x1="290.7" y1="297.1" x2="292.5" y2="297.1" stroke="#222" stroke-width="0.6"/><line x1="290.7" y1="295.1" x2="292.5" y2="295.1" stroke="#222" stroke-width="0.6"/><line x1="290.7" y1="293.2" x2="292.5" y2="293.2" stroke="#222" stroke-width="0.6"/><line x1="290.7" y1="291.3" x2="292.5" y2="291.3" stroke="#222" stroke-width="0.6"/><line x1="290.7" y1="310.4" x2="292.5" y2="310.4" stroke="#222" stroke-width="0.6"/><line x1="290.7" y1="312.2" x2="292.5" y2="312.2" stroke="#222" stroke-width="0.6"/><line x1="290.7" y1="314.0" x2="292.5" y2="314.0" stroke="#222" stroke-width="0.6"/><line x1="290.7" y1="315.8" x2="292.5" y2="315.8" stroke="#222" stroke-width="0.6"/><line x1="290.7" y1="317.6" x2="292.5" y2="317.6" stroke="#222" stroke-width="0.6"/><line x1="290.7" y1="319.3" x2="292.5" y2="319.3" stroke="#222" stroke-width="0.6"/><line x1="290.7" y1="321.1" x2="292.5" y2="321.1" stroke="#222" stroke-width="0.6"/><line x1="290.7" y1="322.9" x2="292.5" y2="322.9" stroke="#222" stroke-width="0.6"/><line x1="290.7" y1="324.7" x2="292.5" y2="324.7" stroke="#222" stroke-width="0.6"/><rect x="290.70" y="305.90" width="1.8" height="0.75" fill="#0a0a0a"/><rect x="289.90" y="306.58" width="2.6" height="0.75" fill="#0a0a0a"/><rect x="289.50" y="307.26" width="3.0" height="0.75" fill="#0a0a0a"/><rect x="289.50" y="307.94" width="3.0" height="0.75" fill="#0a0a0a"/><rect x="289.90" y="308.62" width="2.6" height="0.75" fill="#0a0a0a"/><rect x="289.50" y="309.30" width="3.0" height="0.75" fill="#0a0a0a"/><rect x="290.10" y="309.98" width="2.4" height="0.75" fill="#0a0a0a"/><rect x="290.70" y="310.66" width="1.8" height="0.75" fill="#0a0a0a"/><text x="297.8" y="344.2" font-family="Liberation Sans, sans-serif" font-size="4.4" fill="#333" stroke="#333" stroke-width="0.15" text-anchor="start">-10<tspan dy="-1.9" font-size="5.0">3</tspan></text><text x="318.5" y="344.2" font-family="Liberation Sans, sans-serif" font-size="4.4" fill="#333" stroke="#333" stroke-width="0.15" text-anchor="start">0</text><text x="336.6" y="344.2" font-family="Liberation Sans, sans-serif" font-size="4.4" fill="#333" stroke="#333" stroke-width="0.15" text-anchor="start">10<tspan dy="-1.9" font-size="5.0">3</tspan></text><text x="366.6" y="344.2" font-family="Liberation Sans, sans-serif" font-size="4.4" fill="#333" stroke="#333" stroke-width="0.15" text-anchor="start">10<tspan dy="-1.9" font-size="5.0">4</tspan></text><text x="393.3" y="344.2" font-family="Liberation Sans, sans-serif" font-size="4.4" fill="#333" stroke="#333" stroke-width="0.15" text-anchor="start">10<tspan dy="-1.9" font-size="5.0">5</tspan></text><text x="286.9" y="236.5" font-family="Liberation Sans, sans-serif" font-size="4.4" fill="#333" stroke="#333" stroke-width="0.15" text-anchor="end">10<tspan dy="-1.9" font-size="5.0">5</tspan></text><text x="286.9" y="262.6" font-family="Liberation Sans, sans-serif" font-size="4.4" fill="#333" stroke="#333" stroke-width="0.15" text-anchor="end">10<tspan dy="-1.9" font-size="5.0">4</tspan></text><text x="286.9" y="292.1" font-family="Liberation Sans, sans-serif" font-size="4.4" fill="#333" stroke="#333" stroke-width="0.15" text-anchor="end">10<tspan dy="-1.9" font-size="5.0">3</tspan></text><text x="286.9" y="329.2" font-family="Liberation Sans, sans-serif" font-size="4.4" fill="#333" stroke="#333" stroke-width="0.15" text-anchor="end">-10<tspan dy="-1.9" font-size="5.0">3</tspan></text><text x="284.5" y="310.3" font-family="Liberation Sans, sans-serif" font-size="4.4" fill="#333" stroke="#333" stroke-width="0.15" text-anchor="end">0</text><rect x="292.50" y="222.50" width="112.00" height="111.75" fill="none" stroke="#333" stroke-width="0.85"/>
<line x1="339.70" y1="222.50" x2="339.70" y2="334.25" stroke="#1c1c1c" stroke-width="1.15"/><line x1="292.50" y1="286.00" x2="404.50" y2="286.00" stroke="#5a5a5a" stroke-width="1.50"/>
<text x="40.6" y="235.2" font-family="Liberation Sans, sans-serif" font-size="14.30" text-anchor="start" font-weight="normal" fill="#111" >25.8</text>
<text x="123.6" y="330.0" font-family="Liberation Sans, sans-serif" font-size="14.30" text-anchor="start" font-weight="normal" fill="#111" >1.7</text>
<text x="172.2" y="235.0" font-family="Liberation Sans, sans-serif" font-size="14.30" text-anchor="start" font-weight="normal" fill="#111" >5.1</text>
<text x="244.8" y="330.0" font-family="Liberation Sans, sans-serif" font-size="14.30" text-anchor="start" font-weight="normal" fill="#111" >28.1</text>
<text x="303.6" y="235.0" font-family="Liberation Sans, sans-serif" font-size="14.30" text-anchor="start" font-weight="normal" fill="#111" >0.9</text>
<text x="376.5" y="330.0" font-family="Liberation Sans, sans-serif" font-size="14.30" text-anchor="start" font-weight="normal" fill="#111" >23.7</text>
<line x1="449.8" y1="17.3" x2="449.8" y2="133.2" stroke="#9a9a9a" stroke-width="1.6"/><line x1="447.8" y1="17.3" x2="567.0" y2="17.3" stroke="#777" stroke-width="0.9"/><line x1="567.0" y1="17.3" x2="567.0" y2="133.2" stroke="#777" stroke-width="0.9"/><line x1="447.6" y1="133.2" x2="449.8" y2="133.2" stroke="#555" stroke-width="0.8"/><text x="444.8" y="137.1" font-family="Liberation Sans, sans-serif" font-size="12.00" text-anchor="end" font-weight="normal" fill="#111" >0</text><line x1="447.6" y1="94.6" x2="449.8" y2="94.6" stroke="#555" stroke-width="0.8"/><text x="444.8" y="98.5" font-family="Liberation Sans, sans-serif" font-size="12.00" text-anchor="end" font-weight="normal" fill="#111" >40</text><line x1="447.6" y1="55.9" x2="449.8" y2="55.9" stroke="#555" stroke-width="0.8"/><text x="444.8" y="59.8" font-family="Liberation Sans, sans-serif" font-size="12.00" text-anchor="end" font-weight="normal" fill="#111" >80</text><line x1="447.6" y1="17.3" x2="449.8" y2="17.3" stroke="#555" stroke-width="0.8"/><text x="444.8" y="21.2" font-family="Liberation Sans, sans-serif" font-size="12.00" text-anchor="end" font-weight="normal" fill="#111" >120</text><rect x="454.2" y="100.1" width="15.4" height="33.1" fill="#fff" stroke="#333" stroke-width="0.8"/><path d="M461.9,97.6 V102.6 M457.7,97.6 H466.1 M457.7,102.6 H466.1" stroke="#222" stroke-width="0.8" fill="none"/><rect x="469.6" y="122.0" width="15.4" height="11.2" fill="#a8a8a8" stroke="#333" stroke-width="0.8"/><path d="M477.3,119.5 V124.5 M473.1,119.5 H481.5 M473.1,124.5 H481.5" stroke="#222" stroke-width="0.8" fill="none"/><rect x="493.0" y="129.5" width="15.5" height="3.7" fill="#fff" stroke="#333" stroke-width="0.8"/><path d="M500.8,129.0 V130.0 M496.6,129.0 H504.9 M496.6,130.0 H504.9" stroke="#222" stroke-width="0.8" fill="none"/><rect x="508.5" y="79.6" width="15.7" height="53.6" fill="#a8a8a8" stroke="#333" stroke-width="0.8"/><path d="M516.4,77.9 V81.3 M512.1,77.9 H520.6 M512.1,81.3 H520.6" stroke="#222" stroke-width="0.8" fill="none"/><rect x="531.8" y="132.7" width="15.6" height="0.5" fill="#fff" stroke="#333" stroke-width="0.8"/><rect x="547.4" y="45.3" width="15.4" height="87.9" fill="#a8a8a8" stroke="#333" stroke-width="0.8"/><path d="M555.1,44.4 V46.2 M550.9,44.4 H559.3 M550.9,46.2 H559.3" stroke="#222" stroke-width="0.8" fill="none"/><line x1="447.6" y1="133.2" x2="567.4" y2="133.2" stroke="#222" stroke-width="1"/><circle cx="455.8" cy="93.3" r="1.65" fill="#0a0a0a"/><circle cx="461.7" cy="91.2" r="1.65" fill="#0a0a0a"/><circle cx="467.5" cy="93.7" r="1.65" fill="#0a0a0a"/><circle cx="460.0" cy="101.0" r="1.65" fill="#0a0a0a"/><circle cx="468.0" cy="101.0" r="1.65" fill="#0a0a0a"/><circle cx="455.4" cy="105.4" r="1.65" fill="#0a0a0a"/><circle cx="461.7" cy="104.8" r="1.65" fill="#0a0a0a"/><circle cx="467.5" cy="105.4" r="1.65" fill="#0a0a0a"/><circle cx="473.7" cy="112.7" r="1.65" fill="#0a0a0a"/><circle cx="480.8" cy="112.7" r="1.65" fill="#0a0a0a"/><circle cx="477.3" cy="118.3" r="1.65" fill="#0a0a0a"/><circle cx="473.7" cy="125.0" r="1.65" fill="#0a0a0a"/><circle cx="482.0" cy="123.5" r="1.65" fill="#0a0a0a"/><circle cx="475.8" cy="128.7" r="1.65" fill="#0a0a0a"/><circle cx="481.5" cy="128.7" r="1.65" fill="#0a0a0a"/><circle cx="494.4" cy="127.3" r="1.65" fill="#0a0a0a"/><circle cx="496.8" cy="130.0" r="1.65" fill="#0a0a0a"/><circle cx="499.7" cy="129.5" r="1.65" fill="#0a0a0a"/><circle cx="502.6" cy="129.5" r="1.65" fill="#0a0a0a"/><circle cx="505.3" cy="130.0" r="1.65" fill="#0a0a0a"/><circle cx="507.3" cy="128.5" r="1.65" fill="#0a0a0a"/><circle cx="494.6" cy="130.3" r="1.65" fill="#0a0a0a"/><circle cx="513.7" cy="70.8" r="1.65" fill="#0a0a0a"/><circle cx="518.0" cy="73.0" r="1.65" fill="#0a0a0a"/><circle cx="510.6" cy="79.2" r="1.65" fill="#0a0a0a"/><circle cx="514.8" cy="80.8" r="1.65" fill="#0a0a0a"/><circle cx="518.3" cy="79.2" r="1.65" fill="#0a0a0a"/><circle cx="522.5" cy="80.8" r="1.65" fill="#0a0a0a"/><circle cx="516.5" cy="85.4" r="1.65" fill="#0a0a0a"/><circle cx="533.7" cy="132.9" r="1.65" fill="#0a0a0a"/><circle cx="536.2" cy="132.9" r="1.65" fill="#0a0a0a"/><circle cx="538.7" cy="132.9" r="1.65" fill="#0a0a0a"/><circle cx="541.2" cy="132.9" r="1.65" fill="#0a0a0a"/><circle cx="543.7" cy="132.9" r="1.65" fill="#0a0a0a"/><circle cx="545.6" cy="132.9" r="1.65" fill="#0a0a0a"/><circle cx="555.0" cy="39.6" r="1.65" fill="#0a0a0a"/><circle cx="549.0" cy="43.2" r="1.65" fill="#0a0a0a"/><circle cx="551.4" cy="44.6" r="1.65" fill="#0a0a0a"/><circle cx="553.2" cy="45.5" r="1.65" fill="#0a0a0a"/><circle cx="556.4" cy="45.5" r="1.65" fill="#0a0a0a"/><circle cx="558.7" cy="45.0" r="1.65" fill="#0a0a0a"/><circle cx="561.4" cy="44.6" r="1.65" fill="#0a0a0a"/><circle cx="555.0" cy="49.6" r="1.65" fill="#0a0a0a"/><text x="452.6" y="78.6" font-family="Liberation Sans, sans-serif" font-size="8.70" text-anchor="start" font-weight="normal" fill="#111" >P&lt;0.0001</text><line x1="457.1" y1="80.3" x2="482.7" y2="80.3" stroke="#3a3a3a" stroke-width="1.2"/><text x="489.0" y="59.6" font-family="Liberation Sans, sans-serif" font-size="8.70" text-anchor="start" font-weight="normal" fill="#111" >P&lt;0.0001</text><line x1="493.2" y1="62.9" x2="518.9" y2="62.9" stroke="#3a3a3a" stroke-width="1.2"/><text x="526.2" y="34.0" font-family="Liberation Sans, sans-serif" font-size="8.70" text-anchor="start" font-weight="normal" fill="#111" >P&lt;0.0001</text><line x1="529.9" y1="35.7" x2="554.9" y2="35.7" stroke="#3a3a3a" stroke-width="1.2"/>
<text transform="translate(423.7,94.8) rotate(-90)" font-family="Liberation Sans, sans-serif" font-size="12.4" fill="#111">% Cells</text>
<text transform="translate(475.2,140.2) rotate(-43)" font-family="Liberation Sans, sans-serif" font-size="12.9" fill="#111" text-anchor="end">mTEC<tspan dy="-3.9" font-size="8.3">neg</tspan></text>
<text transform="translate(513.5,141.7) rotate(-43)" font-family="Liberation Sans, sans-serif" font-size="12.9" fill="#111" text-anchor="end">mTEC<tspan dy="-3.9" font-size="8.3">int</tspan></text>
<text transform="translate(554.5,142.9) rotate(-43)" font-family="Liberation Sans, sans-serif" font-size="12.9" fill="#111" text-anchor="end">mTEC<tspan dy="-3.9" font-size="8.3">hi</tspan></text>
<rect x="572.1" y="75.6" width="15.3" height="9.7" fill="#fff" stroke="#222" stroke-width="0.95"/>
<rect x="571.9" y="94.0" width="15.3" height="9.9" rx="0.8" fill="#a4a4a4" stroke="#555" stroke-width="1.1"/>
<text x="591.4" y="85.7" font-family="Liberation Sans, sans-serif" font-size="12.40" text-anchor="start" font-weight="normal" fill="#111" >K19<tspan dy="-3.8" font-size="8.3">+</tspan><tspan dy="3.8" font-size="12.4">RANK</tspan><tspan dy="-3.5" font-size="8.7">Venus-</tspan></text>
<text x="591.4" y="104.6" font-family="Liberation Sans, sans-serif" font-size="12.40" text-anchor="start" font-weight="normal" fill="#111" >K19<tspan dy="-3.8" font-size="8.3">-</tspan><tspan dy="3.8" font-size="12.4">RANK</tspan><tspan dy="-3.5" font-size="8.7">Venus+</tspan></text>
<line x1="447.4" y1="225.4" x2="447.4" y2="342.3" stroke="#555" stroke-width="0.9"/><line x1="445.4" y1="225.4" x2="564.4" y2="225.4" stroke="#777" stroke-width="0.9"/><line x1="564.4" y1="225.4" x2="564.4" y2="342.3" stroke="#777" stroke-width="0.9"/><line x1="445.2" y1="342.3" x2="447.4" y2="342.3" stroke="#555" stroke-width="0.8"/><text x="442.4" y="346.2" font-family="Liberation Sans, sans-serif" font-size="12.00" text-anchor="end" font-weight="normal" fill="#111" >0</text><line x1="445.2" y1="303.3" x2="447.4" y2="303.3" stroke="#555" stroke-width="0.8"/><text x="442.4" y="307.2" font-family="Liberation Sans, sans-serif" font-size="12.00" text-anchor="end" font-weight="normal" fill="#111" >20</text><line x1="445.2" y1="264.4" x2="447.4" y2="264.4" stroke="#555" stroke-width="0.8"/><text x="442.4" y="268.3" font-family="Liberation Sans, sans-serif" font-size="12.00" text-anchor="end" font-weight="normal" fill="#111" >40</text><line x1="445.2" y1="225.4" x2="447.4" y2="225.4" stroke="#555" stroke-width="0.8"/><text x="442.4" y="229.3" font-family="Liberation Sans, sans-serif" font-size="12.00" text-anchor="end" font-weight="normal" fill="#111" >60</text><rect x="451.6" y="269.0" width="15.3" height="73.3" fill="#fff" stroke="#333" stroke-width="0.8"/><path d="M459.2,263.4 V274.7 M455.1,263.4 H463.4 M455.1,274.7 H463.4" stroke="#222" stroke-width="0.8" fill="none"/><rect x="466.9" y="337.0" width="15.9" height="5.3" fill="#a8a8a8" stroke="#333" stroke-width="0.8"/><path d="M474.9,335.9 V338.2 M470.7,335.9 H479.1 M470.7,338.2 H479.1" stroke="#222" stroke-width="0.8" fill="none"/><rect x="490.8" y="329.2" width="15.4" height="13.1" fill="#fff" stroke="#333" stroke-width="0.8"/><path d="M498.5,327.5 V331.0 M494.3,327.5 H502.7 M494.3,331.0 H502.7" stroke="#222" stroke-width="0.8" fill="none"/><rect x="506.2" y="306.3" width="15.6" height="36.0" fill="#a8a8a8" stroke="#333" stroke-width="0.8"/><path d="M514.0,303.5 V309.0 M509.8,303.5 H518.2 M509.8,309.0 H518.2" stroke="#222" stroke-width="0.8" fill="none"/><rect x="529.5" y="336.1" width="16.0" height="6.2" fill="#fff" stroke="#333" stroke-width="0.8"/><path d="M537.5,334.9 V337.2 M533.3,334.9 H541.7 M533.3,337.2 H541.7" stroke="#222" stroke-width="0.8" fill="none"/><rect x="545.5" y="317.8" width="15.0" height="24.5" fill="#a8a8a8" stroke="#333" stroke-width="0.8"/><path d="M553.0,314.2 V321.3 M548.8,314.2 H557.2 M548.8,321.3 H557.2" stroke="#222" stroke-width="0.8" fill="none"/><line x1="445.2" y1="342.3" x2="564.8" y2="342.3" stroke="#222" stroke-width="1"/><circle cx="455.9" cy="248.6" r="1.65" fill="#0a0a0a"/><circle cx="462.8" cy="246.2" r="1.65" fill="#0a0a0a"/><circle cx="462.8" cy="251.8" r="1.65" fill="#0a0a0a"/><circle cx="459.0" cy="256.2" r="1.65" fill="#0a0a0a"/><circle cx="458.1" cy="262.5" r="1.65" fill="#0a0a0a"/><circle cx="455.9" cy="265.0" r="1.65" fill="#0a0a0a"/><circle cx="462.2" cy="265.0" r="1.65" fill="#0a0a0a"/><circle cx="458.1" cy="281.2" r="1.65" fill="#0a0a0a"/><circle cx="455.3" cy="291.2" r="1.65" fill="#0a0a0a"/><circle cx="462.2" cy="291.2" r="1.65" fill="#0a0a0a"/><circle cx="458.4" cy="303.1" r="1.65" fill="#0a0a0a"/><circle cx="474.8" cy="324.6" r="1.65" fill="#0a0a0a"/><circle cx="475.5" cy="330.6" r="1.65" fill="#0a0a0a"/><circle cx="473.1" cy="332.4" r="1.65" fill="#0a0a0a"/><circle cx="472.4" cy="335.4" r="1.65" fill="#0a0a0a"/><circle cx="469.0" cy="337.6" r="1.65" fill="#0a0a0a"/><circle cx="471.5" cy="338.6" r="1.65" fill="#0a0a0a"/><circle cx="474.5" cy="337.8" r="1.65" fill="#0a0a0a"/><circle cx="477.5" cy="338.8" r="1.65" fill="#0a0a0a"/><circle cx="480.5" cy="337.6" r="1.65" fill="#0a0a0a"/><circle cx="470.5" cy="340.6" r="1.65" fill="#0a0a0a"/><circle cx="473.5" cy="341.0" r="1.65" fill="#0a0a0a"/><circle cx="479.0" cy="340.4" r="1.65" fill="#0a0a0a"/><circle cx="476.8" cy="342.6" r="1.65" fill="#0a0a0a"/><circle cx="491.9" cy="321.9" r="1.65" fill="#0a0a0a"/><circle cx="498.1" cy="321.9" r="1.65" fill="#0a0a0a"/><circle cx="503.7" cy="325.0" r="1.65" fill="#0a0a0a"/><circle cx="491.9" cy="327.5" r="1.65" fill="#0a0a0a"/><circle cx="498.7" cy="327.5" r="1.65" fill="#0a0a0a"/><circle cx="495.0" cy="331.2" r="1.65" fill="#0a0a0a"/><circle cx="502.8" cy="331.2" r="1.65" fill="#0a0a0a"/><circle cx="491.9" cy="335.0" r="1.65" fill="#0a0a0a"/><circle cx="498.7" cy="335.0" r="1.65" fill="#0a0a0a"/><circle cx="503.7" cy="333.7" r="1.65" fill="#0a0a0a"/><circle cx="495.0" cy="338.0" r="1.65" fill="#0a0a0a"/><circle cx="500.6" cy="338.0" r="1.65" fill="#0a0a0a"/><circle cx="511.8" cy="287.3" r="1.65" fill="#0a0a0a"/><circle cx="515.8" cy="286.0" r="1.65" fill="#0a0a0a"/><circle cx="509.0" cy="301.5" r="1.65" fill="#0a0a0a"/><circle cx="520.0" cy="298.4" r="1.65" fill="#0a0a0a"/><circle cx="514.4" cy="303.1" r="1.65" fill="#0a0a0a"/><circle cx="518.4" cy="303.1" r="1.65" fill="#0a0a0a"/><circle cx="510.6" cy="309.4" r="1.65" fill="#0a0a0a"/><circle cx="516.2" cy="308.7" r="1.65" fill="#0a0a0a"/><circle cx="509.0" cy="313.1" r="1.65" fill="#0a0a0a"/><circle cx="519.4" cy="315.6" r="1.65" fill="#0a0a0a"/><circle cx="513.1" cy="317.2" r="1.65" fill="#0a0a0a"/><circle cx="516.2" cy="320.3" r="1.65" fill="#0a0a0a"/><circle cx="538.8" cy="330.0" r="1.65" fill="#0a0a0a"/><circle cx="536.1" cy="331.5" r="1.65" fill="#0a0a0a"/><circle cx="531.7" cy="334.8" r="1.65" fill="#0a0a0a"/><circle cx="534.4" cy="333.7" r="1.65" fill="#0a0a0a"/><circle cx="543.9" cy="335.5" r="1.65" fill="#0a0a0a"/><circle cx="540.6" cy="336.4" r="1.65" fill="#0a0a0a"/><circle cx="531.5" cy="338.6" r="1.65" fill="#0a0a0a"/><circle cx="534.5" cy="339.6" r="1.65" fill="#0a0a0a"/><circle cx="537.5" cy="338.6" r="1.65" fill="#0a0a0a"/><circle cx="540.5" cy="339.8" r="1.65" fill="#0a0a0a"/><circle cx="543.5" cy="338.8" r="1.65" fill="#0a0a0a"/><circle cx="533.0" cy="341.0" r="1.65" fill="#0a0a0a"/><circle cx="552.8" cy="296.5" r="1.65" fill="#0a0a0a"/><circle cx="552.8" cy="301.6" r="1.65" fill="#0a0a0a"/><circle cx="550.5" cy="309.3" r="1.65" fill="#0a0a0a"/><circle cx="556.5" cy="309.3" r="1.65" fill="#0a0a0a"/><circle cx="547.7" cy="317.1" r="1.65" fill="#0a0a0a"/><circle cx="558.1" cy="314.9" r="1.65" fill="#0a0a0a"/><circle cx="552.8" cy="316.4" r="1.65" fill="#0a0a0a"/><circle cx="553.2" cy="321.5" r="1.65" fill="#0a0a0a"/><circle cx="547.0" cy="328.9" r="1.65" fill="#0a0a0a"/><circle cx="553.2" cy="329.7" r="1.65" fill="#0a0a0a"/><circle cx="558.8" cy="330.4" r="1.65" fill="#0a0a0a"/><circle cx="547.0" cy="332.6" r="1.65" fill="#0a0a0a"/><text x="449.6" y="236.4" font-family="Liberation Sans, sans-serif" font-size="8.70" text-anchor="start" font-weight="normal" fill="#111" >P&lt;0.0001</text><line x1="452.0" y1="239.5" x2="477.6" y2="239.5" stroke="#3a3a3a" stroke-width="1.2"/><text x="485.0" y="280.5" font-family="Liberation Sans, sans-serif" font-size="8.70" text-anchor="start" font-weight="normal" fill="#111" >P&lt;0.0001</text><line x1="491.6" y1="282.3" x2="517.2" y2="282.3" stroke="#3a3a3a" stroke-width="1.2"/><text x="523.5" y="288.4" font-family="Liberation Sans, sans-serif" font-size="8.70" text-anchor="start" font-weight="normal" fill="#111" >P&lt;0.0001</text><line x1="530.6" y1="290.4" x2="556.2" y2="290.4" stroke="#3a3a3a" stroke-width="1.2"/>
<text transform="translate(418.7,303.8) rotate(-90)" font-family="Liberation Sans, sans-serif" font-size="12.4" fill="#111">% Cells</text>
<text transform="translate(474.5,349.8) rotate(-43)" font-family="Liberation Sans, sans-serif" font-size="12.9" fill="#111" text-anchor="end">mTEC<tspan dy="-3.9" font-size="8.3">neg</tspan></text>
<text transform="translate(512.5,351.0) rotate(-43)" font-family="Liberation Sans, sans-serif" font-size="12.9" fill="#111" text-anchor="end">mTEC<tspan dy="-3.9" font-size="8.3">int</tspan></text>
<text transform="translate(553.0,352.2) rotate(-43)" font-family="Liberation Sans, sans-serif" font-size="12.9" fill="#111" text-anchor="end">mTEC<tspan dy="-3.9" font-size="8.3">hi</tspan></text>
<rect x="571.8" y="278.7" width="15.2" height="10.0" fill="#fff" stroke="#222" stroke-width="0.95"/>
<rect x="571.8" y="297.5" width="15.2" height="9.9" rx="0.8" fill="#a4a4a4" stroke="#555" stroke-width="1.1"/>
<text x="592.0" y="288.8" font-family="Liberation Sans, sans-serif" font-size="12.40" text-anchor="start" font-weight="normal" fill="#111" >K19<tspan dy="-3.8" font-size="8.3">+</tspan><tspan dy="3.8" font-size="12.4">CCL21</tspan><tspan dy="-3.5" font-size="8.7">tdTom-</tspan></text>
<text x="592.0" y="306.5" font-family="Liberation Sans, sans-serif" font-size="12.40" text-anchor="start" font-weight="normal" fill="#111" >K19<tspan dy="-3.8" font-size="8.3">-</tspan><tspan dy="3.8" font-size="12.4">CCL21</tspan><tspan dy="-3.5" font-size="8.7">tdTom+</tspan></text>
</svg>
</body></html>
